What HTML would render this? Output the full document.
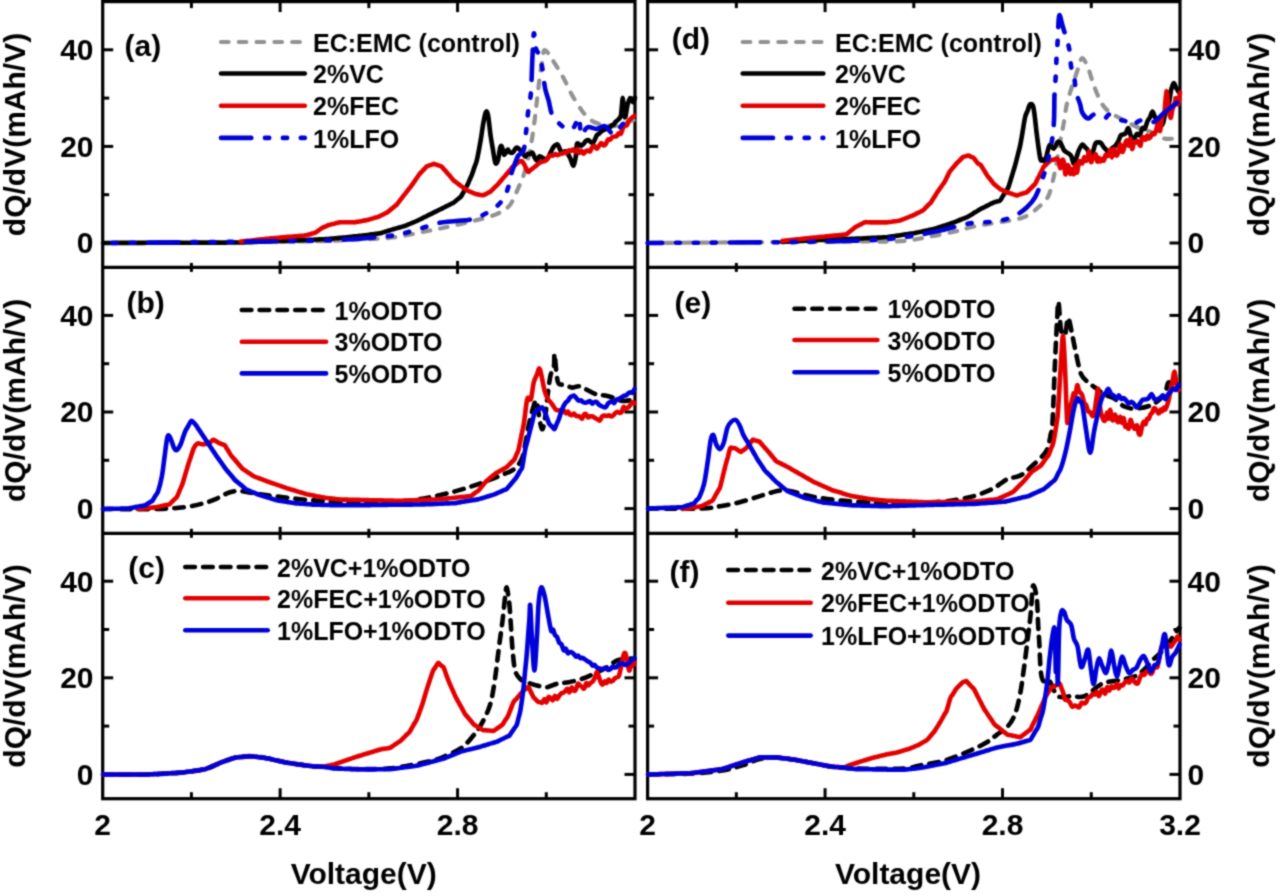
<!DOCTYPE html>
<html><head><meta charset="utf-8"><style>
html,body{margin:0;padding:0;background:#fff;}
svg{display:block;}
</style></head><body>
<svg width="1280" height="896" viewBox="0 0 1280 896">
<defs><filter id="bl" x="0" y="0" width="1280" height="896" filterUnits="userSpaceOnUse" color-interpolation-filters="sRGB"><feConvolveMatrix order="3" kernelMatrix="1 2 1 2 8 2 1 2 1" divisor="20" edgeMode="duplicate" preserveAlpha="true"/></filter></defs>
<g filter="url(#bl)">
<rect width="1280" height="896" fill="#fff"/>
<rect x="102.7" y="1.6" width="532.30" height="797.10" fill="none" stroke="#000" stroke-width="3.2"/>
<line x1="102.7" y1="267.4" x2="635.0" y2="267.4" stroke="#000" stroke-width="3.2"/>
<line x1="102.7" y1="533.3" x2="635.0" y2="533.3" stroke="#000" stroke-width="3.2"/>
<line x1="191.42" y1="1.6" x2="191.42" y2="8.1" stroke="#000" stroke-width="3"/>
<line x1="191.42" y1="798.7" x2="191.42" y2="792.2" stroke="#000" stroke-width="3"/>
<line x1="191.42" y1="262.9" x2="191.42" y2="271.9" stroke="#000" stroke-width="3"/>
<line x1="191.42" y1="528.8" x2="191.42" y2="537.8" stroke="#000" stroke-width="3"/>
<line x1="280.13" y1="1.6" x2="280.13" y2="12.1" stroke="#000" stroke-width="3"/>
<line x1="280.13" y1="798.7" x2="280.13" y2="788.2" stroke="#000" stroke-width="3"/>
<line x1="280.13" y1="260.9" x2="280.13" y2="273.9" stroke="#000" stroke-width="3"/>
<line x1="280.13" y1="526.8" x2="280.13" y2="539.8" stroke="#000" stroke-width="3"/>
<line x1="368.85" y1="1.6" x2="368.85" y2="8.1" stroke="#000" stroke-width="3"/>
<line x1="368.85" y1="798.7" x2="368.85" y2="792.2" stroke="#000" stroke-width="3"/>
<line x1="368.85" y1="262.9" x2="368.85" y2="271.9" stroke="#000" stroke-width="3"/>
<line x1="368.85" y1="528.8" x2="368.85" y2="537.8" stroke="#000" stroke-width="3"/>
<line x1="457.57" y1="1.6" x2="457.57" y2="12.1" stroke="#000" stroke-width="3"/>
<line x1="457.57" y1="798.7" x2="457.57" y2="788.2" stroke="#000" stroke-width="3"/>
<line x1="457.57" y1="260.9" x2="457.57" y2="273.9" stroke="#000" stroke-width="3"/>
<line x1="457.57" y1="526.8" x2="457.57" y2="539.8" stroke="#000" stroke-width="3"/>
<line x1="546.28" y1="1.6" x2="546.28" y2="8.1" stroke="#000" stroke-width="3"/>
<line x1="546.28" y1="798.7" x2="546.28" y2="792.2" stroke="#000" stroke-width="3"/>
<line x1="546.28" y1="262.9" x2="546.28" y2="271.9" stroke="#000" stroke-width="3"/>
<line x1="546.28" y1="528.8" x2="546.28" y2="537.8" stroke="#000" stroke-width="3"/>
<line x1="102.7" y1="243.00" x2="113.2" y2="243.00" stroke="#000" stroke-width="3"/>
<line x1="635.0" y1="243.00" x2="624.5" y2="243.00" stroke="#000" stroke-width="3"/>
<line x1="102.7" y1="194.70" x2="109.2" y2="194.70" stroke="#000" stroke-width="3"/>
<line x1="635.0" y1="194.70" x2="628.5" y2="194.70" stroke="#000" stroke-width="3"/>
<line x1="102.7" y1="146.40" x2="113.2" y2="146.40" stroke="#000" stroke-width="3"/>
<line x1="635.0" y1="146.40" x2="624.5" y2="146.40" stroke="#000" stroke-width="3"/>
<line x1="102.7" y1="98.10" x2="109.2" y2="98.10" stroke="#000" stroke-width="3"/>
<line x1="635.0" y1="98.10" x2="628.5" y2="98.10" stroke="#000" stroke-width="3"/>
<line x1="102.7" y1="49.80" x2="113.2" y2="49.80" stroke="#000" stroke-width="3"/>
<line x1="635.0" y1="49.80" x2="624.5" y2="49.80" stroke="#000" stroke-width="3"/>
<line x1="102.7" y1="508.60" x2="113.2" y2="508.60" stroke="#000" stroke-width="3"/>
<line x1="635.0" y1="508.60" x2="624.5" y2="508.60" stroke="#000" stroke-width="3"/>
<line x1="102.7" y1="460.30" x2="109.2" y2="460.30" stroke="#000" stroke-width="3"/>
<line x1="635.0" y1="460.30" x2="628.5" y2="460.30" stroke="#000" stroke-width="3"/>
<line x1="102.7" y1="412.00" x2="113.2" y2="412.00" stroke="#000" stroke-width="3"/>
<line x1="635.0" y1="412.00" x2="624.5" y2="412.00" stroke="#000" stroke-width="3"/>
<line x1="102.7" y1="363.70" x2="109.2" y2="363.70" stroke="#000" stroke-width="3"/>
<line x1="635.0" y1="363.70" x2="628.5" y2="363.70" stroke="#000" stroke-width="3"/>
<line x1="102.7" y1="315.40" x2="113.2" y2="315.40" stroke="#000" stroke-width="3"/>
<line x1="635.0" y1="315.40" x2="624.5" y2="315.40" stroke="#000" stroke-width="3"/>
<line x1="102.7" y1="774.40" x2="113.2" y2="774.40" stroke="#000" stroke-width="3"/>
<line x1="635.0" y1="774.40" x2="624.5" y2="774.40" stroke="#000" stroke-width="3"/>
<line x1="102.7" y1="726.10" x2="109.2" y2="726.10" stroke="#000" stroke-width="3"/>
<line x1="635.0" y1="726.10" x2="628.5" y2="726.10" stroke="#000" stroke-width="3"/>
<line x1="102.7" y1="677.80" x2="113.2" y2="677.80" stroke="#000" stroke-width="3"/>
<line x1="635.0" y1="677.80" x2="624.5" y2="677.80" stroke="#000" stroke-width="3"/>
<line x1="102.7" y1="629.50" x2="109.2" y2="629.50" stroke="#000" stroke-width="3"/>
<line x1="635.0" y1="629.50" x2="628.5" y2="629.50" stroke="#000" stroke-width="3"/>
<line x1="102.7" y1="581.20" x2="113.2" y2="581.20" stroke="#000" stroke-width="3"/>
<line x1="635.0" y1="581.20" x2="624.5" y2="581.20" stroke="#000" stroke-width="3"/>
<rect x="647.6" y="1.6" width="532.40" height="797.10" fill="none" stroke="#000" stroke-width="3.2"/>
<line x1="647.6" y1="267.4" x2="1180.0" y2="267.4" stroke="#000" stroke-width="3.2"/>
<line x1="647.6" y1="533.3" x2="1180.0" y2="533.3" stroke="#000" stroke-width="3.2"/>
<line x1="736.33" y1="1.6" x2="736.33" y2="8.1" stroke="#000" stroke-width="3"/>
<line x1="736.33" y1="798.7" x2="736.33" y2="792.2" stroke="#000" stroke-width="3"/>
<line x1="736.33" y1="262.9" x2="736.33" y2="271.9" stroke="#000" stroke-width="3"/>
<line x1="736.33" y1="528.8" x2="736.33" y2="537.8" stroke="#000" stroke-width="3"/>
<line x1="825.07" y1="1.6" x2="825.07" y2="12.1" stroke="#000" stroke-width="3"/>
<line x1="825.07" y1="798.7" x2="825.07" y2="788.2" stroke="#000" stroke-width="3"/>
<line x1="825.07" y1="260.9" x2="825.07" y2="273.9" stroke="#000" stroke-width="3"/>
<line x1="825.07" y1="526.8" x2="825.07" y2="539.8" stroke="#000" stroke-width="3"/>
<line x1="913.80" y1="1.6" x2="913.80" y2="8.1" stroke="#000" stroke-width="3"/>
<line x1="913.80" y1="798.7" x2="913.80" y2="792.2" stroke="#000" stroke-width="3"/>
<line x1="913.80" y1="262.9" x2="913.80" y2="271.9" stroke="#000" stroke-width="3"/>
<line x1="913.80" y1="528.8" x2="913.80" y2="537.8" stroke="#000" stroke-width="3"/>
<line x1="1002.53" y1="1.6" x2="1002.53" y2="12.1" stroke="#000" stroke-width="3"/>
<line x1="1002.53" y1="798.7" x2="1002.53" y2="788.2" stroke="#000" stroke-width="3"/>
<line x1="1002.53" y1="260.9" x2="1002.53" y2="273.9" stroke="#000" stroke-width="3"/>
<line x1="1002.53" y1="526.8" x2="1002.53" y2="539.8" stroke="#000" stroke-width="3"/>
<line x1="1091.27" y1="1.6" x2="1091.27" y2="8.1" stroke="#000" stroke-width="3"/>
<line x1="1091.27" y1="798.7" x2="1091.27" y2="792.2" stroke="#000" stroke-width="3"/>
<line x1="1091.27" y1="262.9" x2="1091.27" y2="271.9" stroke="#000" stroke-width="3"/>
<line x1="1091.27" y1="528.8" x2="1091.27" y2="537.8" stroke="#000" stroke-width="3"/>
<line x1="647.6" y1="243.00" x2="658.1" y2="243.00" stroke="#000" stroke-width="3"/>
<line x1="1180.0" y1="243.00" x2="1169.5" y2="243.00" stroke="#000" stroke-width="3"/>
<line x1="647.6" y1="194.70" x2="654.1" y2="194.70" stroke="#000" stroke-width="3"/>
<line x1="1180.0" y1="194.70" x2="1173.5" y2="194.70" stroke="#000" stroke-width="3"/>
<line x1="647.6" y1="146.40" x2="658.1" y2="146.40" stroke="#000" stroke-width="3"/>
<line x1="1180.0" y1="146.40" x2="1169.5" y2="146.40" stroke="#000" stroke-width="3"/>
<line x1="647.6" y1="98.10" x2="654.1" y2="98.10" stroke="#000" stroke-width="3"/>
<line x1="1180.0" y1="98.10" x2="1173.5" y2="98.10" stroke="#000" stroke-width="3"/>
<line x1="647.6" y1="49.80" x2="658.1" y2="49.80" stroke="#000" stroke-width="3"/>
<line x1="1180.0" y1="49.80" x2="1169.5" y2="49.80" stroke="#000" stroke-width="3"/>
<line x1="647.6" y1="508.60" x2="658.1" y2="508.60" stroke="#000" stroke-width="3"/>
<line x1="1180.0" y1="508.60" x2="1169.5" y2="508.60" stroke="#000" stroke-width="3"/>
<line x1="647.6" y1="460.30" x2="654.1" y2="460.30" stroke="#000" stroke-width="3"/>
<line x1="1180.0" y1="460.30" x2="1173.5" y2="460.30" stroke="#000" stroke-width="3"/>
<line x1="647.6" y1="412.00" x2="658.1" y2="412.00" stroke="#000" stroke-width="3"/>
<line x1="1180.0" y1="412.00" x2="1169.5" y2="412.00" stroke="#000" stroke-width="3"/>
<line x1="647.6" y1="363.70" x2="654.1" y2="363.70" stroke="#000" stroke-width="3"/>
<line x1="1180.0" y1="363.70" x2="1173.5" y2="363.70" stroke="#000" stroke-width="3"/>
<line x1="647.6" y1="315.40" x2="658.1" y2="315.40" stroke="#000" stroke-width="3"/>
<line x1="1180.0" y1="315.40" x2="1169.5" y2="315.40" stroke="#000" stroke-width="3"/>
<line x1="647.6" y1="774.40" x2="658.1" y2="774.40" stroke="#000" stroke-width="3"/>
<line x1="1180.0" y1="774.40" x2="1169.5" y2="774.40" stroke="#000" stroke-width="3"/>
<line x1="647.6" y1="726.10" x2="654.1" y2="726.10" stroke="#000" stroke-width="3"/>
<line x1="1180.0" y1="726.10" x2="1173.5" y2="726.10" stroke="#000" stroke-width="3"/>
<line x1="647.6" y1="677.80" x2="658.1" y2="677.80" stroke="#000" stroke-width="3"/>
<line x1="1180.0" y1="677.80" x2="1169.5" y2="677.80" stroke="#000" stroke-width="3"/>
<line x1="647.6" y1="629.50" x2="654.1" y2="629.50" stroke="#000" stroke-width="3"/>
<line x1="1180.0" y1="629.50" x2="1173.5" y2="629.50" stroke="#000" stroke-width="3"/>
<line x1="647.6" y1="581.20" x2="658.1" y2="581.20" stroke="#000" stroke-width="3"/>
<line x1="1180.0" y1="581.20" x2="1169.5" y2="581.20" stroke="#000" stroke-width="3"/>
<text x="93.5" y="253.4" text-anchor="end" font-size="30" font-family="Liberation Sans, sans-serif" font-weight="bold">0</text>
<text x="1187.5" y="253.4" text-anchor="start" font-size="30" font-family="Liberation Sans, sans-serif" font-weight="bold">0</text>
<text x="93.5" y="156.8" text-anchor="end" font-size="30" font-family="Liberation Sans, sans-serif" font-weight="bold">20</text>
<text x="1187.5" y="156.8" text-anchor="start" font-size="30" font-family="Liberation Sans, sans-serif" font-weight="bold">20</text>
<text x="93.5" y="60.2" text-anchor="end" font-size="30" font-family="Liberation Sans, sans-serif" font-weight="bold">40</text>
<text x="1187.5" y="60.2" text-anchor="start" font-size="30" font-family="Liberation Sans, sans-serif" font-weight="bold">40</text>
<text x="93.5" y="519.0" text-anchor="end" font-size="30" font-family="Liberation Sans, sans-serif" font-weight="bold">0</text>
<text x="1187.5" y="519.0" text-anchor="start" font-size="30" font-family="Liberation Sans, sans-serif" font-weight="bold">0</text>
<text x="93.5" y="422.4" text-anchor="end" font-size="30" font-family="Liberation Sans, sans-serif" font-weight="bold">20</text>
<text x="1187.5" y="422.4" text-anchor="start" font-size="30" font-family="Liberation Sans, sans-serif" font-weight="bold">20</text>
<text x="93.5" y="325.8" text-anchor="end" font-size="30" font-family="Liberation Sans, sans-serif" font-weight="bold">40</text>
<text x="1187.5" y="325.8" text-anchor="start" font-size="30" font-family="Liberation Sans, sans-serif" font-weight="bold">40</text>
<text x="93.5" y="784.8" text-anchor="end" font-size="30" font-family="Liberation Sans, sans-serif" font-weight="bold">0</text>
<text x="1187.5" y="784.8" text-anchor="start" font-size="30" font-family="Liberation Sans, sans-serif" font-weight="bold">0</text>
<text x="93.5" y="688.2" text-anchor="end" font-size="30" font-family="Liberation Sans, sans-serif" font-weight="bold">20</text>
<text x="1187.5" y="688.2" text-anchor="start" font-size="30" font-family="Liberation Sans, sans-serif" font-weight="bold">20</text>
<text x="93.5" y="591.6" text-anchor="end" font-size="30" font-family="Liberation Sans, sans-serif" font-weight="bold">40</text>
<text x="1187.5" y="591.6" text-anchor="start" font-size="30" font-family="Liberation Sans, sans-serif" font-weight="bold">40</text>
<text x="102.7" y="834.6" text-anchor="middle" font-size="30" font-family="Liberation Sans, sans-serif" font-weight="bold">2</text>
<text x="280.1" y="834.6" text-anchor="middle" font-size="30" font-family="Liberation Sans, sans-serif" font-weight="bold">2.4</text>
<text x="457.6" y="834.6" text-anchor="middle" font-size="30" font-family="Liberation Sans, sans-serif" font-weight="bold">2.8</text>
<text x="647.6" y="834.6" text-anchor="middle" font-size="30" font-family="Liberation Sans, sans-serif" font-weight="bold">2</text>
<text x="825.1" y="834.6" text-anchor="middle" font-size="30" font-family="Liberation Sans, sans-serif" font-weight="bold">2.4</text>
<text x="1002.5" y="834.6" text-anchor="middle" font-size="30" font-family="Liberation Sans, sans-serif" font-weight="bold">2.8</text>
<text x="1180.0" y="834.6" text-anchor="middle" font-size="30" font-family="Liberation Sans, sans-serif" font-weight="bold">3.2</text>
<text x="363.7" y="884.3" text-anchor="middle" font-size="30" font-family="Liberation Sans, sans-serif" font-weight="bold">Voltage(V)</text>
<text x="908" y="884.3" text-anchor="middle" font-size="30" font-family="Liberation Sans, sans-serif" font-weight="bold">Voltage(V)</text>
<text transform="translate(25,134.5) rotate(-90)" text-anchor="middle" font-size="30" font-family="Liberation Sans, sans-serif" font-weight="bold">dQ/dV(mAh/V)</text>
<text transform="translate(1269,134.5) rotate(-90)" text-anchor="middle" font-size="30" font-family="Liberation Sans, sans-serif" font-weight="bold">dQ/dV(mAh/V)</text>
<text transform="translate(25,400.3) rotate(-90)" text-anchor="middle" font-size="30" font-family="Liberation Sans, sans-serif" font-weight="bold">dQ/dV(mAh/V)</text>
<text transform="translate(1269,400.3) rotate(-90)" text-anchor="middle" font-size="30" font-family="Liberation Sans, sans-serif" font-weight="bold">dQ/dV(mAh/V)</text>
<text transform="translate(25,666.0) rotate(-90)" text-anchor="middle" font-size="30" font-family="Liberation Sans, sans-serif" font-weight="bold">dQ/dV(mAh/V)</text>
<text transform="translate(1269,666.0) rotate(-90)" text-anchor="middle" font-size="30" font-family="Liberation Sans, sans-serif" font-weight="bold">dQ/dV(mAh/V)</text>
<text x="124.5" y="56.3" font-size="30" font-family="Liberation Sans, sans-serif" font-weight="bold">(a)</text>
<text x="126.5" y="312.9" font-size="30" font-family="Liberation Sans, sans-serif" font-weight="bold">(b)</text>
<text x="128.3" y="577.5" font-size="30" font-family="Liberation Sans, sans-serif" font-weight="bold">(c)</text>
<text x="671.8" y="48.5" font-size="30" font-family="Liberation Sans, sans-serif" font-weight="bold">(d)</text>
<text x="674.5" y="312.8" font-size="30" font-family="Liberation Sans, sans-serif" font-weight="bold">(e)</text>
<text x="669.5" y="582.3" font-size="30" font-family="Liberation Sans, sans-serif" font-weight="bold">(f)</text>
<line x1="221.0" y1="42" x2="304.8" y2="42" stroke="#929292" stroke-width="4.2" stroke-linecap="round" stroke-dasharray="7.6 10.2"/>
<text x="313" y="51.6" font-size="25" font-family="Liberation Sans, sans-serif" font-weight="bold">EC:EMC (control)</text>
<line x1="221.0" y1="73.5" x2="304.8" y2="73.5" stroke="#000" stroke-width="4.6" stroke-linecap="round" />
<text x="313" y="83.1" font-size="25" font-family="Liberation Sans, sans-serif" font-weight="bold">2%VC</text>
<line x1="221.0" y1="105.7" x2="304.8" y2="105.7" stroke="#e20000" stroke-width="4.6" stroke-linecap="round" />
<text x="313" y="115.3" font-size="25" font-family="Liberation Sans, sans-serif" font-weight="bold">2%FEC</text>
<line x1="221.0" y1="137.9" x2="304.8" y2="137.9" stroke="#0000d8" stroke-width="4.6" stroke-linecap="round" stroke-dasharray="30.3 13.7 4.2 13.7 4.2 13.7 4.2 13.7"/>
<text x="313" y="147.5" font-size="25" font-family="Liberation Sans, sans-serif" font-weight="bold">1%LFO</text>
<line x1="742.6999999999999" y1="42" x2="823.3000000000001" y2="42" stroke="#929292" stroke-width="4.2" stroke-linecap="round" stroke-dasharray="7.6 10.2"/>
<text x="835" y="51.6" font-size="25" font-family="Liberation Sans, sans-serif" font-weight="bold">EC:EMC (control)</text>
<line x1="742.6999999999999" y1="73.5" x2="823.3000000000001" y2="73.5" stroke="#000" stroke-width="4.6" stroke-linecap="round" />
<text x="835" y="83.1" font-size="25" font-family="Liberation Sans, sans-serif" font-weight="bold">2%VC</text>
<line x1="742.6999999999999" y1="105.7" x2="823.3000000000001" y2="105.7" stroke="#e20000" stroke-width="4.6" stroke-linecap="round" />
<text x="835" y="115.3" font-size="25" font-family="Liberation Sans, sans-serif" font-weight="bold">2%FEC</text>
<line x1="742.6999999999999" y1="137.9" x2="823.3000000000001" y2="137.9" stroke="#0000d8" stroke-width="4.6" stroke-linecap="round" stroke-dasharray="30.3 13.7 4.2 13.7 4.2 13.7 4.2 13.7"/>
<text x="835" y="147.5" font-size="25" font-family="Liberation Sans, sans-serif" font-weight="bold">1%LFO</text>
<line x1="241.8" y1="310" x2="326.09999999999997" y2="310" stroke="#000" stroke-width="4.6" stroke-linecap="round" stroke-dasharray="9.6 8.2"/>
<text x="334.5" y="319.6" font-size="25" font-family="Liberation Sans, sans-serif" font-weight="bold">1%ODTO</text>
<line x1="241.8" y1="341.7" x2="326.09999999999997" y2="341.7" stroke="#e20000" stroke-width="4.6" stroke-linecap="round" />
<text x="334.5" y="351.3" font-size="25" font-family="Liberation Sans, sans-serif" font-weight="bold">3%ODTO</text>
<line x1="241.8" y1="373.4" x2="326.09999999999997" y2="373.4" stroke="#0000d8" stroke-width="4.6" stroke-linecap="round" />
<text x="334.5" y="383.0" font-size="25" font-family="Liberation Sans, sans-serif" font-weight="bold">5%ODTO</text>
<line x1="794.5" y1="308.75" x2="877.4000000000001" y2="308.75" stroke="#000" stroke-width="4.6" stroke-linecap="round" stroke-dasharray="9.6 8.2"/>
<text x="887.5" y="318.4" font-size="25" font-family="Liberation Sans, sans-serif" font-weight="bold">1%ODTO</text>
<line x1="794.5" y1="340" x2="877.4000000000001" y2="340" stroke="#e20000" stroke-width="4.6" stroke-linecap="round" />
<text x="887.5" y="349.6" font-size="25" font-family="Liberation Sans, sans-serif" font-weight="bold">3%ODTO</text>
<line x1="794.5" y1="372.2" x2="877.4000000000001" y2="372.2" stroke="#0000d8" stroke-width="4.6" stroke-linecap="round" />
<text x="887.5" y="381.8" font-size="25" font-family="Liberation Sans, sans-serif" font-weight="bold">5%ODTO</text>
<line x1="185.3" y1="567" x2="267.7" y2="567" stroke="#000" stroke-width="4.6" stroke-linecap="round" stroke-dasharray="9.6 8.2"/>
<text x="277" y="576.6" font-size="25" font-family="Liberation Sans, sans-serif" font-weight="bold">2%VC+1%ODTO</text>
<line x1="185.3" y1="598.3" x2="267.7" y2="598.3" stroke="#e20000" stroke-width="4.6" stroke-linecap="round" />
<text x="277" y="607.9" font-size="25" font-family="Liberation Sans, sans-serif" font-weight="bold">2%FEC+1%ODTO</text>
<line x1="185.3" y1="630.3" x2="267.7" y2="630.3" stroke="#0000d8" stroke-width="4.6" stroke-linecap="round" />
<text x="277" y="639.9" font-size="25" font-family="Liberation Sans, sans-serif" font-weight="bold">1%LFO+1%ODTO</text>
<line x1="728.3" y1="570" x2="810.7" y2="570" stroke="#000" stroke-width="4.6" stroke-linecap="round" stroke-dasharray="9.6 8.2"/>
<text x="821" y="579.6" font-size="25" font-family="Liberation Sans, sans-serif" font-weight="bold">2%VC+1%ODTO</text>
<line x1="728.3" y1="602.8" x2="810.7" y2="602.8" stroke="#e20000" stroke-width="4.6" stroke-linecap="round" />
<text x="821" y="612.4" font-size="25" font-family="Liberation Sans, sans-serif" font-weight="bold">2%FEC+1%ODTO</text>
<line x1="728.3" y1="635.6" x2="810.7" y2="635.6" stroke="#0000d8" stroke-width="4.6" stroke-linecap="round" />
<text x="821" y="645.2" font-size="25" font-family="Liberation Sans, sans-serif" font-weight="bold">1%LFO+1%ODTO</text>
<path d="M103.0,243.0 C135.8,242.8 257.2,242.1 300.0,241.5 C342.8,240.9 344.5,240.2 360.0,239.5 C375.5,238.8 382.2,238.8 393.0,237.5 C403.8,236.2 414.5,233.6 425.0,231.5 C435.5,229.4 445.2,227.5 456.0,225.0 C466.8,222.5 482.2,218.9 490.0,216.5 C497.8,214.1 499.7,212.5 503.0,210.6 C506.3,208.7 508.0,207.5 510.0,205.0 C512.0,202.5 513.3,199.0 515.0,195.5 C516.7,192.0 518.5,187.6 520.0,184.0 C521.5,180.4 522.3,179.7 524.0,174.0 C525.7,168.3 528.3,158.2 530.0,150.0 C531.7,141.8 532.8,133.3 534.0,125.0 C535.2,116.7 536.0,108.3 537.0,100.0 C538.0,91.7 539.1,81.5 540.0,75.0 C540.9,68.5 541.6,65.1 542.3,61.0 C543.0,56.9 543.0,51.8 544.0,50.5 C545.0,49.2 546.7,51.6 548.0,53.0 C549.3,54.4 549.5,55.0 552.0,59.0 C554.5,63.0 559.7,71.0 563.0,77.0 C566.3,83.0 569.0,89.6 572.0,95.0 C575.0,100.4 578.7,105.9 581.0,109.3 C583.3,112.7 583.8,113.4 586.0,115.5 C588.2,117.6 590.8,120.4 594.0,122.0 C597.2,123.6 601.5,124.3 605.0,125.0 C608.5,125.7 611.7,126.3 615.0,126.0 C618.3,125.7 621.8,124.0 625.0,123.0 C628.2,122.0 632.5,120.5 634.0,120.0" fill="none" stroke="#929292" stroke-width="4.2" stroke-linejoin="round" stroke-linecap="round" stroke-dasharray="7.6 10.2" />
<path d="M103.0,243.0 C103.3,243.0 104.3,243.0 105.0,243.0 C105.7,243.0 106.4,243.0 107.0,243.0 C107.7,243.0 108.4,243.0 109.0,243.0 C109.7,243.0 110.4,243.0 111.1,243.0 C111.7,243.0 112.4,243.0 113.1,243.0 C113.7,243.0 114.4,243.0 115.1,243.0 C115.8,243.0 116.4,243.0 117.1,242.9 C117.8,242.9 118.4,242.9 119.1,242.9 C119.8,242.9 120.5,242.9 121.1,242.9 C121.8,242.9 122.5,242.9 123.1,242.9 C123.8,242.9 124.5,242.9 125.2,242.9 C125.8,242.9 126.5,242.9 127.2,242.9 C127.8,242.9 128.5,242.9 129.2,242.9 C129.9,242.9 130.5,242.9 131.2,242.9 C131.9,242.9 132.5,242.9 133.2,242.9 C133.9,242.9 134.6,242.9 135.2,242.9 C135.9,242.9 136.6,242.9 137.2,242.9 C137.9,242.9 138.6,242.9 139.3,242.9 C139.9,242.9 140.6,242.9 141.3,242.9 C142.0,242.9 142.6,242.9 143.3,242.9 C144.0,242.9 144.6,242.8 145.3,242.8 C146.0,242.8 146.7,242.8 147.3,242.8 C148.0,242.8 148.7,242.8 149.3,242.8 C150.0,242.8 150.7,242.8 151.4,242.8 C152.0,242.8 152.7,242.8 153.4,242.8 C154.0,242.8 154.7,242.8 155.4,242.8 C156.1,242.8 156.7,242.8 157.4,242.8 C158.1,242.8 158.7,242.8 159.4,242.8 C160.1,242.8 160.8,242.8 161.4,242.8 C162.1,242.8 162.8,242.8 163.4,242.8 C164.1,242.8 164.8,242.8 165.5,242.8 C166.1,242.8 166.8,242.8 167.5,242.8 C168.1,242.8 168.8,242.8 169.5,242.8 C170.2,242.8 170.8,242.8 171.5,242.8 C172.2,242.7 172.8,242.7 173.5,242.7 C174.2,242.7 174.9,242.7 175.5,242.7 C176.2,242.7 176.9,242.7 177.5,242.7 C178.2,242.7 178.9,242.7 179.6,242.7 C180.2,242.7 180.9,242.7 181.6,242.7 C182.2,242.7 182.9,242.7 183.6,242.7 C184.3,242.7 184.9,242.7 185.6,242.7 C186.3,242.7 186.9,242.7 187.6,242.7 C188.3,242.7 189.0,242.7 189.6,242.7 C190.3,242.7 191.0,242.7 191.6,242.7 C192.3,242.7 193.0,242.7 193.7,242.7 C194.3,242.7 195.0,242.7 195.7,242.7 C196.3,242.7 197.0,242.7 197.7,242.7 C198.4,242.7 199.0,242.6 199.7,242.6 C200.4,242.6 201.0,242.6 201.7,242.6 C202.4,242.6 203.1,242.6 203.7,242.6 C204.4,242.6 205.1,242.6 205.8,242.6 C206.4,242.6 207.1,242.6 207.8,242.6 C208.4,242.6 209.1,242.6 209.8,242.6 C210.5,242.6 211.1,242.6 211.8,242.6 C212.5,242.6 213.1,242.6 213.8,242.6 C214.5,242.6 215.2,242.6 215.8,242.6 C216.5,242.6 217.2,242.6 217.8,242.6 C218.5,242.6 219.2,242.6 219.9,242.6 C220.5,242.6 221.2,242.6 221.9,242.6 C222.5,242.6 223.2,242.6 223.9,242.6 C224.6,242.6 225.2,242.6 225.9,242.6 C226.6,242.5 227.2,242.5 227.9,242.5 C228.6,242.5 229.3,242.5 229.9,242.5 C230.6,242.5 231.3,242.5 231.9,242.5 C232.6,242.5 233.3,242.5 234.0,242.5 C234.6,242.5 235.3,242.5 236.0,242.5 C236.6,242.5 237.3,242.5 238.0,242.5 C238.7,242.5 239.3,242.5 240.0,242.5 C240.7,242.5 241.3,242.5 242.0,242.4 C242.7,242.4 243.3,242.4 244.0,242.4 C244.7,242.3 245.3,242.3 246.0,242.3 C246.7,242.3 247.3,242.2 248.0,242.2 C248.7,242.2 249.3,242.2 250.0,242.1 C250.7,242.1 251.3,242.1 252.0,242.1 C252.7,242.0 253.3,242.0 254.0,242.0 C254.7,242.0 255.3,241.9 256.0,241.9 C256.7,241.9 257.3,241.9 258.0,241.8 C258.7,241.8 259.3,241.8 260.0,241.8 C260.7,241.7 261.3,241.7 262.0,241.7 C262.7,241.7 263.3,241.6 264.0,241.6 C264.7,241.6 265.3,241.6 266.0,241.5 C266.7,241.5 267.3,241.5 268.0,241.5 C268.7,241.4 269.3,241.4 270.0,241.4 C270.7,241.4 271.3,241.4 272.0,241.3 C272.7,241.3 273.3,241.3 274.0,241.3 C274.7,241.2 275.3,241.2 276.0,241.2 C276.7,241.2 277.3,241.1 278.0,241.1 C278.7,241.1 279.3,241.1 280.0,241.0 C280.7,241.0 281.3,241.0 282.0,241.0 C282.7,240.9 283.3,240.9 284.0,240.9 C284.7,240.9 285.3,240.8 286.0,240.8 C286.7,240.8 287.3,240.8 288.0,240.7 C288.7,240.7 289.3,240.7 290.0,240.7 C290.7,240.6 291.3,240.6 292.0,240.6 C292.7,240.6 293.3,240.5 294.0,240.5 C294.7,240.5 295.3,240.5 296.0,240.4 C296.7,240.4 297.3,240.4 298.0,240.4 C298.7,240.3 299.3,240.3 300.0,240.3 C300.7,240.3 301.4,240.2 302.1,240.2 C302.8,240.2 303.4,240.1 304.1,240.1 C304.8,240.1 305.5,240.0 306.2,240.0 C306.9,240.0 307.6,239.9 308.3,239.9 C309.0,239.9 309.6,239.8 310.3,239.8 C311.0,239.7 311.7,239.7 312.4,239.7 C313.1,239.6 313.8,239.6 314.5,239.6 C315.2,239.5 315.8,239.5 316.5,239.5 C317.2,239.4 317.9,239.4 318.6,239.4 C319.3,239.3 320.0,239.3 320.7,239.3 C321.4,239.2 322.0,239.2 322.7,239.2 C323.4,239.1 324.1,239.1 324.8,239.1 C325.5,239.0 326.2,239.0 326.9,239.0 C327.6,238.9 328.2,238.9 328.9,238.9 C329.6,238.8 330.3,238.8 331.0,238.8 C331.7,238.7 332.4,238.6 333.1,238.5 C333.8,238.5 334.5,238.4 335.2,238.3 C335.9,238.3 336.6,238.2 337.3,238.1 C338.0,238.1 338.7,238.0 339.4,237.9 C340.1,237.8 340.8,237.8 341.5,237.7 C342.2,237.6 342.9,237.6 343.6,237.5 C344.3,237.4 345.0,237.3 345.7,237.3 C346.4,237.2 347.1,237.1 347.8,237.1 C348.5,237.0 349.2,236.9 349.9,236.9 C350.6,236.8 351.3,236.7 352.0,236.7 C352.7,236.6 353.4,236.5 354.1,236.4 C354.8,236.4 355.5,236.3 356.2,236.2 C356.9,236.2 357.6,236.1 358.3,236.0 C359.0,235.9 359.7,235.9 360.4,235.8 C361.1,235.7 361.8,235.7 362.5,235.6 C363.2,235.5 364.0,235.4 364.7,235.3 C365.4,235.2 366.1,235.1 366.9,235.0 C367.6,234.9 368.3,234.8 369.1,234.7 C369.8,234.6 370.5,234.5 371.2,234.4 C372.0,234.4 372.7,234.3 373.4,234.2 C374.2,234.1 374.9,234.0 375.6,233.9 C376.4,233.8 377.1,233.7 377.8,233.6 C378.5,233.5 379.3,233.5 380.0,233.3 C380.7,233.1 381.3,232.9 382.0,232.7 C382.7,232.5 383.3,232.3 384.0,232.1 C384.7,231.9 385.3,231.7 386.0,231.4 C386.7,231.2 387.3,231.0 388.0,230.8 C388.7,230.6 389.3,230.4 390.0,230.2 C390.7,230.0 391.3,229.8 392.0,229.6 C392.7,229.4 393.4,229.2 394.1,229.0 C394.8,228.8 395.5,228.6 396.2,228.4 C396.9,228.2 397.6,228.0 398.3,227.8 C399.0,227.6 399.7,227.4 400.4,227.2 C401.1,227.0 401.8,226.8 402.5,226.6 C403.2,226.4 403.9,226.2 404.6,226.0 C405.3,225.8 406.0,225.4 406.6,225.2 C407.3,224.9 408.0,224.6 408.7,224.3 C409.3,224.1 410.0,223.8 410.7,223.5 C411.4,223.2 412.1,222.9 412.7,222.7 C413.4,222.4 414.1,222.1 414.8,221.8 C415.4,221.6 416.1,221.3 416.8,221.0 C417.5,220.7 418.2,220.3 418.8,220.0 C419.5,219.6 420.2,219.3 420.9,219.0 C421.5,218.6 422.2,218.3 422.9,217.9 C423.6,217.6 424.3,217.3 424.9,216.9 C425.6,216.6 426.3,216.3 427.0,215.9 C427.6,215.6 428.3,215.2 429.0,214.9 C429.7,214.6 430.4,214.2 431.1,213.9 C431.8,213.5 432.4,213.2 433.1,212.9 C433.8,212.5 434.5,212.2 435.2,211.9 C435.9,211.5 436.6,211.2 437.3,210.8 C438.0,210.5 438.6,210.2 439.3,209.8 C440.0,209.5 440.7,209.1 441.4,208.8 C442.1,208.5 442.8,208.1 443.4,207.8 C444.1,207.4 444.8,207.1 445.5,206.7 C446.2,206.4 446.9,206.0 447.5,205.7 C448.2,205.4 448.9,205.0 449.6,204.7 C450.3,204.3 451.0,204.0 451.6,203.6 C452.3,203.3 453.0,203.1 453.7,202.6 C454.4,202.1 455.3,201.2 456.1,200.6 C456.9,199.9 457.8,199.2 458.6,198.5 C459.4,197.9 460.2,197.5 461.0,196.5 C461.8,195.5 462.4,194.0 463.1,192.8 C463.8,191.6 464.4,190.3 465.1,189.1 C465.8,187.9 466.5,186.9 467.2,185.4 C467.9,183.9 468.8,181.7 469.6,179.9 C470.4,178.1 471.2,176.6 472.0,174.4 C472.8,172.2 473.7,169.5 474.5,167.0 C475.3,164.5 476.0,164.1 477.0,159.6 C478.0,155.1 479.7,145.8 480.7,140.0 C481.7,134.2 482.2,129.6 483.0,125.0 C483.8,120.4 484.9,114.1 485.7,112.4 C486.5,110.7 487.2,111.2 488.0,115.0 C488.8,118.8 489.7,129.2 490.5,135.0 C491.3,140.8 492.2,145.3 493.0,150.0 C493.8,154.7 494.6,161.3 495.4,163.0 C496.2,164.7 497.2,162.6 498.0,160.0 C498.8,157.4 499.6,149.4 500.3,147.3 C501.0,145.1 501.4,145.7 502.0,147.0 C502.6,148.2 503.1,154.3 504.0,154.8 C504.9,155.2 506.8,150.1 507.7,149.7 C508.6,149.3 508.5,151.6 509.3,152.1 C510.1,152.6 511.4,153.3 512.6,152.6 C513.8,151.8 515.2,148.1 516.4,147.7 C517.6,147.2 519.0,148.9 520.0,149.8 C521.0,150.8 521.8,152.0 522.7,153.1 C523.6,154.3 524.6,156.4 525.4,156.6 C526.2,156.7 527.0,154.3 527.8,153.9 C528.6,153.5 529.3,154.2 530.1,154.0 C530.9,153.8 531.7,152.1 532.5,152.8 C533.3,153.4 534.0,156.6 534.8,157.9 C535.5,159.2 536.3,160.8 537.0,160.6 C537.7,160.3 538.5,157.0 539.2,156.5 C539.9,155.9 540.6,156.8 541.4,157.1 C542.2,157.5 543.3,158.3 544.2,158.6 C545.1,158.9 546.2,159.7 547.0,159.2 C547.8,158.7 548.4,157.0 549.2,155.6 C549.9,154.2 550.6,152.3 551.4,150.8 C552.1,149.4 552.8,147.9 553.5,147.0 C554.3,146.0 555.0,145.5 555.7,145.1 C556.4,144.7 556.9,143.8 557.6,144.5 C558.3,145.1 559.1,147.5 559.8,149.0 C560.5,150.4 561.3,152.8 562.0,153.2 C562.7,153.7 563.5,151.8 564.2,151.6 C564.9,151.4 565.4,151.0 566.4,152.0 C567.4,153.0 568.8,155.5 570.0,157.8 C571.2,160.1 572.6,166.1 573.6,165.6 C574.6,165.2 575.4,158.7 576.0,155.1 C576.6,151.4 576.3,145.2 577.1,143.6 C577.9,142.1 579.9,145.8 581.0,145.8 C582.1,145.8 582.7,144.7 583.5,143.9 C584.3,143.1 585.2,141.5 586.0,140.9 C586.8,140.3 587.7,140.0 588.5,140.2 C589.3,140.5 590.2,142.0 591.0,142.3 C591.8,142.6 592.5,143.3 593.5,142.2 C594.5,141.0 595.9,136.7 596.8,135.3 C597.7,133.9 598.2,134.5 598.9,133.8 C599.7,133.2 600.4,132.2 601.1,131.6 C601.8,131.0 602.5,130.6 603.2,130.2 C603.9,129.9 604.6,129.8 605.4,129.3 C606.1,128.9 606.8,127.8 607.5,127.6 C608.2,127.4 608.8,128.4 609.5,128.0 C610.2,127.6 610.8,125.8 611.5,125.3 C612.2,124.7 612.8,125.5 613.5,124.9 C614.2,124.3 614.7,122.7 615.5,121.9 C616.3,121.0 617.3,120.7 618.2,119.6 C619.1,118.5 620.1,118.8 620.9,115.2 C621.7,111.6 622.2,97.7 622.9,98.0 C623.6,98.3 624.1,116.2 624.9,117.3 C625.7,118.5 626.7,108.0 627.6,104.7 C628.5,101.5 629.3,98.4 630.2,98.0 C631.1,97.6 632.2,102.3 633.0,102.2 C633.8,102.2 634.7,98.5 635.0,97.7" fill="none" stroke="#000" stroke-width="4.6" stroke-linejoin="round" stroke-linecap="round"  />
<path d="M240.6,241.5 C240.9,241.5 241.9,241.4 242.6,241.3 C243.3,241.2 244.0,241.2 244.6,241.1 C245.3,241.0 246.0,240.9 246.6,240.9 C247.3,240.8 248.0,240.7 248.6,240.7 C249.3,240.6 250.0,240.5 250.7,240.5 C251.3,240.4 252.0,240.3 252.7,240.3 C253.3,240.2 254.0,240.1 254.7,240.1 C255.3,240.0 256.0,239.9 256.7,239.8 C257.4,239.8 258.0,239.7 258.7,239.6 C259.4,239.6 260.0,239.5 260.7,239.4 C261.4,239.4 262.0,239.3 262.7,239.2 C263.4,239.2 264.1,239.1 264.7,239.0 C265.4,238.9 266.1,238.9 266.7,238.8 C267.4,238.7 268.1,238.7 268.8,238.6 C269.4,238.5 270.1,238.5 270.8,238.4 C271.5,238.4 272.2,238.3 272.9,238.2 C273.6,238.2 274.3,238.1 275.0,238.1 C275.7,238.0 276.4,237.9 277.1,237.9 C277.8,237.8 278.5,237.7 279.2,237.7 C279.9,237.6 280.6,237.6 281.2,237.5 C281.9,237.4 282.6,237.4 283.3,237.3 C284.0,237.3 284.7,237.2 285.4,237.1 C286.1,237.1 286.8,237.0 287.5,236.9 C288.2,236.9 288.9,236.8 289.6,236.8 C290.3,236.7 291.0,236.6 291.7,236.6 C292.4,236.5 293.1,236.5 293.8,236.4 C294.4,236.3 295.1,236.3 295.8,236.2 C296.5,236.2 297.2,236.1 297.9,236.0 C298.6,236.0 299.3,235.9 300.0,235.9 C300.7,235.8 301.4,235.7 302.1,235.7 C302.8,235.6 303.5,235.5 304.2,235.5 C304.9,235.4 305.5,235.4 306.2,235.3 C307.0,235.2 307.8,234.8 308.6,234.6 C309.4,234.4 310.1,234.1 310.9,233.9 C311.7,233.7 312.5,233.4 313.3,233.2 C314.0,233.0 314.9,232.9 315.6,232.5 C316.3,232.1 317.0,231.5 317.7,231.0 C318.4,230.5 319.2,230.0 319.9,229.5 C320.6,229.0 321.3,228.4 322.0,228.0 C322.7,227.6 323.5,227.3 324.2,227.0 C325.0,226.7 325.8,226.3 326.5,226.0 C327.2,225.7 328.0,225.3 328.8,225.0 C329.5,224.7 330.2,224.6 331.0,224.5 C331.8,224.3 332.5,224.1 333.2,223.9 C334.0,223.7 334.8,223.6 335.5,223.4 C336.2,223.2 337.0,223.0 337.8,222.8 C338.5,222.7 339.3,222.4 340.0,222.3 C340.7,222.2 341.4,222.3 342.1,222.3 C342.8,222.3 343.5,222.3 344.2,222.3 C344.9,222.3 345.6,222.3 346.3,222.3 C347.0,222.3 347.7,222.3 348.4,222.3 C349.1,222.3 349.8,222.3 350.5,222.3 C351.2,222.3 351.9,222.3 352.6,222.3 C353.3,222.3 354.0,222.4 354.7,222.3 C355.4,222.2 356.1,222.0 356.8,221.9 C357.5,221.8 358.2,221.7 358.9,221.5 C359.6,221.4 360.3,221.3 360.9,221.2 C361.6,221.0 362.3,220.9 363.0,220.8 C363.7,220.6 364.4,220.5 365.1,220.4 C365.8,220.3 366.5,220.2 367.2,220.0 C367.9,219.8 368.7,219.6 369.4,219.4 C370.1,219.2 370.8,219.0 371.6,218.8 C372.3,218.6 373.0,218.3 373.7,218.1 C374.5,217.9 375.2,217.7 375.9,217.5 C376.6,217.3 377.3,217.2 378.1,216.9 C378.9,216.6 379.7,216.1 380.5,215.7 C381.2,215.3 382.0,214.9 382.8,214.6 C383.6,214.2 384.4,213.8 385.1,213.4 C385.9,213.0 386.7,212.7 387.5,212.2 C388.3,211.7 389.1,210.9 389.9,210.2 C390.6,209.6 391.4,209.0 392.2,208.3 C393.0,207.7 393.8,207.0 394.5,206.3 C395.3,205.7 396.1,205.3 396.9,204.4 C397.7,203.5 398.6,202.2 399.4,201.1 C400.3,199.9 401.2,198.7 402.0,197.7 C402.8,196.7 403.4,195.9 404.2,194.9 C404.9,194.0 405.6,193.1 406.4,192.2 C407.1,191.3 407.8,190.4 408.5,189.4 C409.2,188.5 410.0,187.7 410.7,186.7 C411.4,185.7 412.1,184.7 412.9,183.6 C413.6,182.6 414.3,181.6 415.0,180.6 C415.7,179.5 416.4,178.5 417.1,177.5 C417.9,176.4 418.5,175.4 419.3,174.4 C420.1,173.4 420.9,172.6 421.8,171.7 C422.6,170.8 423.4,170.0 424.2,169.1 C425.1,168.2 425.9,167.0 426.7,166.4 C427.5,165.8 428.3,165.8 429.1,165.6 C429.9,165.3 430.8,165.0 431.6,164.7 C432.4,164.5 433.2,163.9 434.0,163.9 C434.8,163.9 435.6,164.5 436.5,164.7 C437.3,165.0 438.1,165.3 438.9,165.6 C439.8,165.8 440.6,165.9 441.4,166.4 C442.1,166.9 442.8,167.9 443.4,168.7 C444.1,169.4 444.8,170.2 445.5,170.9 C446.1,171.7 446.8,172.4 447.5,173.2 C448.2,174.0 448.9,174.8 449.6,175.6 C450.3,176.4 450.9,177.3 451.6,178.1 C452.3,178.9 452.9,179.8 453.7,180.5 C454.4,181.2 455.3,181.7 456.1,182.3 C456.9,182.9 457.8,183.6 458.6,184.2 C459.4,184.8 460.2,185.4 461.0,186.0 C461.8,186.6 462.6,187.1 463.5,187.7 C464.3,188.2 465.1,188.8 465.9,189.3 C466.8,189.9 467.6,190.6 468.4,191.0 C469.2,191.4 470.0,191.7 470.9,192.0 C471.7,192.3 472.5,192.7 473.3,193.0 C474.2,193.3 475.0,193.8 475.8,194.0 C476.6,194.2 477.4,194.3 478.3,194.4 C479.1,194.6 479.9,194.7 480.7,194.9 C481.6,195.0 482.4,195.4 483.2,195.3 C484.0,195.2 484.8,194.5 485.6,194.1 C486.4,193.7 487.3,193.2 488.1,192.8 C488.9,192.4 489.7,192.2 490.5,191.6 C491.3,191.0 492.1,190.0 493.0,189.1 C493.8,188.3 494.6,187.5 495.4,186.7 C496.3,185.8 497.1,185.1 497.9,184.2 C498.7,183.3 499.5,182.3 500.4,181.3 C501.2,180.4 502.0,179.4 502.8,178.5 C503.7,177.5 504.5,176.6 505.3,175.6 C506.1,174.6 506.9,173.7 507.7,172.7 C508.5,171.8 509.4,170.8 510.2,169.9 C511.0,168.9 511.7,167.9 512.6,167.0 C513.5,166.1 514.4,165.5 515.3,164.8 C516.2,164.0 516.9,163.1 518.0,162.5 C519.1,161.9 520.6,160.5 521.8,161.1 C523.0,161.7 524.0,164.2 525.0,166.0 C526.0,167.8 527.2,171.1 528.0,171.8 C528.8,172.5 529.3,170.9 530.0,170.4 C530.7,169.9 531.2,169.6 532.0,169.0 C532.8,168.4 533.7,167.6 534.5,167.0 C535.4,166.3 536.2,165.6 537.1,164.9 C537.9,164.3 538.8,163.4 539.6,162.9 C540.4,162.4 541.1,161.9 541.8,161.7 C542.6,161.4 543.3,161.5 544.1,161.3 C544.8,161.0 545.6,160.9 546.3,160.2 C547.1,159.5 547.8,157.8 548.5,157.0 C549.3,156.2 550.0,155.5 550.8,155.3 C551.5,155.1 552.3,155.8 553.0,155.6 C553.8,155.4 554.5,154.2 555.3,154.1 C556.0,154.0 556.8,155.1 557.5,155.1 C558.2,155.2 559.0,154.5 559.7,154.2 C560.5,153.9 561.2,153.7 562.0,153.4 C562.7,153.2 563.5,152.9 564.2,152.8 C565.0,152.7 565.7,153.2 566.5,152.8 C567.2,152.4 567.9,150.6 568.7,150.3 C569.4,150.0 570.2,151.2 570.9,151.0 C571.7,150.9 572.4,149.3 573.2,149.5 C573.9,149.7 574.7,152.1 575.4,152.0 C576.1,152.0 576.7,149.1 577.4,149.3 C578.1,149.4 578.7,152.7 579.4,153.0 C580.1,153.2 580.7,150.5 581.4,150.6 C582.1,150.8 582.7,153.6 583.4,153.7 C584.1,153.9 584.9,151.9 585.6,151.3 C586.4,150.8 587.1,150.6 587.9,150.6 C588.6,150.6 589.4,152.0 590.1,151.4 C590.8,150.8 591.6,147.9 592.3,147.1 C593.1,146.2 593.8,146.0 594.6,146.2 C595.3,146.5 596.1,148.7 596.8,148.7 C597.5,148.6 598.3,146.8 599.0,145.9 C599.8,144.9 600.5,143.1 601.3,143.0 C602.0,143.0 602.8,145.3 603.5,145.4 C604.2,145.6 605.0,145.1 605.7,144.1 C606.5,143.1 607.2,140.4 608.0,139.6 C608.7,138.9 609.5,140.1 610.2,139.7 C610.9,139.3 611.6,137.7 612.3,137.1 C613.1,136.6 613.8,136.6 614.5,136.5 C615.2,136.3 615.9,136.9 616.6,136.3 C617.3,135.7 618.0,133.5 618.8,133.1 C619.5,132.6 620.2,134.6 620.9,133.8 C621.6,133.0 622.2,129.6 622.9,128.2 C623.6,126.9 624.2,126.2 624.9,125.7 C625.6,125.2 626.2,126.1 626.9,125.3 C627.6,124.4 628.1,121.8 628.9,120.6 C629.7,119.4 630.7,118.7 631.6,117.9 C632.5,117.1 633.8,116.2 634.3,115.9" fill="none" stroke="#e20000" stroke-width="4.6" stroke-linejoin="round" stroke-linecap="round"  />
<path d="M103.0,243.0 C135.8,242.7 259.3,241.6 300.0,241.0 C340.7,240.4 334.0,240.1 347.0,239.5 C360.0,238.9 369.4,238.0 378.0,237.2 C386.6,236.4 393.2,235.5 398.4,234.6 C403.6,233.7 405.3,232.8 409.4,231.7 C413.5,230.6 418.1,229.3 423.0,227.8 C427.9,226.3 433.5,224.0 439.0,222.9 C444.5,221.8 450.6,221.6 456.1,221.0 C461.6,220.4 467.4,220.3 472.1,219.2 C476.8,218.1 480.3,216.5 484.4,214.3 C488.5,212.2 493.4,209.1 496.7,206.3 C500.0,203.5 502.1,200.8 504.0,197.7 C505.9,194.6 506.8,191.8 508.0,188.0 C509.2,184.2 510.0,178.7 511.0,175.0 C512.0,171.3 512.8,169.2 514.0,166.0 C515.2,162.8 516.6,158.3 518.2,155.7 C519.8,153.1 522.3,154.6 523.6,150.4 C524.9,146.2 525.5,136.9 526.2,130.7 C527.0,124.4 527.3,118.9 528.0,112.9 C528.7,107.0 530.1,100.7 530.7,95.0 C531.3,89.3 531.3,85.5 531.6,78.9 C531.9,72.4 532.1,63.3 532.5,55.7 C532.9,48.1 533.3,34.6 533.9,33.4 C534.5,32.2 535.0,44.9 536.0,48.6 C537.0,52.3 538.6,52.4 539.6,55.7 C540.6,59.0 541.4,62.8 542.3,68.2 C543.2,73.6 544.0,82.5 545.0,87.9 C546.0,93.3 547.4,96.0 548.6,100.4 C549.8,104.9 550.3,110.7 552.1,114.6 C553.9,118.5 556.6,121.1 559.3,123.6 C562.0,126.1 565.8,129.2 568.2,129.8 C570.7,130.4 572.5,128.6 574.0,127.0 C575.5,125.4 576.2,121.5 577.1,120.0 C578.0,118.5 578.8,115.8 579.4,118.2 C580.0,120.6 580.1,131.8 580.7,134.3 C581.3,136.8 581.8,134.2 583.0,133.0 C584.2,131.8 585.6,127.8 587.9,127.1 C590.2,126.4 594.0,129.1 596.8,128.9 C599.6,128.8 601.9,125.3 604.8,126.2 C607.7,127.1 611.1,134.8 614.2,134.3 C617.3,133.9 620.1,125.7 623.5,123.5 C626.9,121.3 632.5,121.3 634.3,120.9" fill="none" stroke="#0000d8" stroke-width="4.6" stroke-linejoin="round" stroke-linecap="round" stroke-dasharray="30.3 13.7 4.2 13.7 4.2 13.7 4.2 13.7"  stroke-dashoffset="52.30"/>
<path d="M647.6,243.0 C673.0,242.8 764.6,242.2 800.0,242.0 C835.4,241.8 843.3,241.6 860.0,241.5 C876.7,241.4 889.0,241.9 900.2,241.2 C911.4,240.5 918.1,238.8 927.0,237.2 C935.9,235.6 946.0,233.6 953.8,231.8 C961.6,230.0 967.2,227.9 973.9,226.5 C980.6,225.1 985.7,224.6 994.0,223.1 C1002.3,221.6 1015.8,220.2 1023.5,217.3 C1031.2,214.4 1036.1,209.2 1040.3,205.6 C1044.5,202.0 1046.4,200.2 1048.6,195.5 C1050.8,190.8 1052.3,182.9 1053.7,177.1 C1055.1,171.2 1055.9,166.5 1057.0,160.4 C1058.1,154.3 1059.3,146.5 1060.4,140.3 C1061.5,134.2 1062.6,129.7 1063.7,123.5 C1064.8,117.3 1065.6,109.6 1067.0,103.4 C1068.4,97.2 1070.2,92.2 1072.1,86.4 C1074.0,80.6 1076.5,73.0 1078.2,68.3 C1079.9,63.6 1080.5,58.2 1082.2,58.2 C1083.9,58.2 1086.2,63.6 1088.2,68.3 C1090.2,73.0 1091.9,80.4 1094.2,86.4 C1096.5,92.4 1099.6,100.1 1102.3,104.4 C1105.0,108.8 1106.6,109.8 1110.3,112.5 C1114.0,115.2 1119.4,117.8 1124.4,120.5 C1129.4,123.2 1135.7,126.5 1140.4,128.5 C1145.1,130.5 1148.5,130.9 1152.5,132.6 C1156.5,134.3 1160.1,137.7 1164.5,138.6 C1168.9,139.5 1176.6,138.1 1179.0,138.0" fill="none" stroke="#929292" stroke-width="4.2" stroke-linejoin="round" stroke-linecap="round" stroke-dasharray="7.6 10.2" />
<path d="M782.5,241.9 C782.9,241.9 784.2,241.8 785.0,241.8 C785.8,241.7 786.7,241.7 787.5,241.6 C788.3,241.6 789.2,241.6 790.0,241.5 C790.8,241.5 791.7,241.4 792.5,241.4 C793.3,241.4 794.2,241.3 795.0,241.3 C795.8,241.2 796.7,241.2 797.5,241.1 C798.3,241.1 799.2,241.1 800.0,241.0 C800.8,241.0 801.7,240.9 802.5,240.9 C803.3,240.8 804.2,240.8 805.0,240.8 C805.8,240.7 806.7,240.7 807.5,240.6 C808.3,240.6 809.2,240.5 810.0,240.5 C810.8,240.5 811.7,240.4 812.5,240.4 C813.3,240.3 814.2,240.3 815.0,240.3 C815.8,240.2 816.7,240.2 817.5,240.1 C818.3,240.1 819.2,240.0 820.0,240.0 C820.8,240.0 821.7,239.9 822.5,239.9 C823.3,239.9 824.2,239.8 825.0,239.8 C825.8,239.8 826.7,239.8 827.5,239.7 C828.3,239.7 829.2,239.7 830.0,239.6 C830.8,239.6 831.7,239.6 832.5,239.5 C833.3,239.5 834.2,239.5 835.0,239.4 C835.8,239.4 836.7,239.4 837.5,239.3 C838.3,239.3 839.2,239.3 840.0,239.2 C840.8,239.2 841.7,239.2 842.5,239.2 C843.3,239.1 844.2,239.1 845.0,239.1 C845.8,239.0 846.7,239.0 847.5,239.0 C848.3,238.9 849.2,238.9 850.0,238.9 C850.8,238.8 851.7,238.8 852.5,238.8 C853.3,238.8 854.2,238.7 855.0,238.7 C855.8,238.7 856.7,238.6 857.5,238.6 C858.3,238.6 859.1,238.5 860.0,238.5 C860.9,238.5 861.8,238.4 862.7,238.4 C863.6,238.3 864.5,238.3 865.4,238.2 C866.3,238.2 867.1,238.2 868.0,238.1 C868.9,238.1 869.8,238.0 870.7,238.0 C871.6,237.9 872.5,237.9 873.4,237.8 C874.3,237.8 875.2,237.8 876.1,237.7 C877.0,237.7 877.9,237.6 878.8,237.6 C879.7,237.5 880.5,237.5 881.4,237.5 C882.3,237.4 883.2,237.4 884.1,237.3 C885.0,237.3 885.9,237.3 886.8,237.2 C887.7,237.1 888.6,236.9 889.5,236.8 C890.4,236.7 891.3,236.5 892.2,236.4 C893.1,236.3 893.9,236.1 894.8,236.0 C895.7,235.9 896.6,235.7 897.5,235.6 C898.4,235.5 899.3,235.3 900.2,235.2 C901.1,235.1 902.0,234.9 902.9,234.8 C903.8,234.7 904.7,234.5 905.6,234.4 C906.5,234.3 907.3,234.1 908.2,234.0 C909.1,233.9 910.0,233.7 910.9,233.6 C911.8,233.5 912.7,233.4 913.6,233.2 C914.5,233.0 915.3,232.9 916.1,232.7 C917.0,232.5 917.8,232.3 918.6,232.2 C919.5,232.0 920.3,231.8 921.1,231.7 C922.0,231.5 922.8,231.3 923.7,231.1 C924.5,231.0 925.3,230.8 926.2,230.6 C927.0,230.5 927.8,230.3 928.7,230.1 C929.5,230.0 930.4,229.8 931.2,229.6 C932.0,229.4 932.9,229.3 933.7,229.1 C934.5,228.9 935.4,228.5 936.2,228.3 C937.1,228.0 937.9,227.7 938.7,227.4 C939.6,227.1 940.4,226.9 941.2,226.6 C942.1,226.3 942.9,226.0 943.8,225.8 C944.6,225.5 945.4,225.2 946.3,224.9 C947.1,224.6 947.9,224.4 948.8,224.1 C949.6,223.8 950.4,223.5 951.3,223.2 C952.1,223.0 952.9,222.7 953.8,222.4 C954.7,222.1 955.6,221.7 956.5,221.3 C957.4,221.0 958.3,220.6 959.2,220.3 C960.1,219.9 960.9,219.6 961.8,219.2 C962.7,218.9 963.6,218.5 964.5,218.2 C965.4,217.8 966.3,217.5 967.2,217.1 C968.1,216.7 969.0,216.0 969.9,215.5 C970.8,214.9 971.7,214.4 972.6,213.9 C973.5,213.3 974.3,212.8 975.2,212.2 C976.1,211.7 977.0,211.2 977.9,210.6 C978.8,210.1 979.7,209.5 980.6,209.0 C981.5,208.5 982.4,208.1 983.3,207.7 C984.2,207.2 985.1,206.8 986.0,206.3 C986.9,205.9 987.7,205.4 988.6,205.0 C989.5,204.5 990.4,204.1 991.3,203.6 C992.2,203.2 993.1,202.7 994.0,202.3 C994.9,201.9 996.0,201.7 997.0,201.4 C998.0,201.2 999.0,201.5 1000.0,200.6 C1001.0,199.7 1001.9,197.6 1002.8,196.1 C1003.7,194.6 1004.7,193.2 1005.6,191.7 C1006.5,190.2 1007.4,189.8 1008.4,187.2 C1009.4,184.6 1010.6,179.9 1011.8,176.3 C1012.9,172.7 1014.1,168.9 1015.1,165.4 C1016.1,161.9 1016.8,158.7 1017.7,155.4 C1018.5,152.0 1019.4,149.4 1020.2,145.3 C1021.0,141.2 1021.9,135.8 1022.7,131.1 C1023.5,126.3 1024.4,120.2 1025.2,116.8 C1026.0,113.4 1026.9,112.6 1027.7,110.5 C1028.5,108.4 1029.2,104.5 1030.2,104.2 C1031.2,103.9 1032.5,103.2 1033.6,108.4 C1034.7,113.6 1035.8,126.8 1036.9,135.2 C1038.0,143.6 1039.3,154.6 1040.3,158.7 C1041.3,162.8 1042.0,159.3 1042.8,159.6 C1043.6,159.8 1044.2,162.8 1045.3,160.4 C1046.4,158.0 1048.1,147.3 1049.5,145.3 C1050.9,143.3 1052.3,149.2 1053.7,148.6 C1055.1,148.0 1056.6,142.8 1057.8,141.9 C1059.0,141.0 1059.8,141.9 1060.8,143.2 C1061.7,144.5 1062.8,148.3 1063.7,149.7 C1064.6,151.2 1065.4,151.3 1066.2,152.0 C1067.0,152.6 1067.9,152.9 1068.7,153.6 C1069.5,154.3 1070.4,154.4 1071.2,156.1 C1072.1,157.8 1073.0,163.4 1073.8,163.8 C1074.6,164.1 1075.5,160.2 1076.3,158.0 C1077.1,155.8 1077.8,152.6 1078.8,150.4 C1079.8,148.1 1081.2,145.2 1082.2,144.6 C1083.2,144.1 1084.0,146.2 1084.9,147.0 C1085.8,147.9 1086.6,148.2 1087.5,149.7 C1088.4,151.2 1089.3,155.6 1090.2,155.9 C1091.1,156.3 1092.0,153.9 1092.9,151.8 C1093.8,149.8 1094.6,145.0 1095.5,143.4 C1096.4,141.8 1097.3,142.4 1098.2,142.4 C1099.1,142.3 1100.0,142.2 1100.9,143.0 C1101.8,143.8 1102.7,145.9 1103.6,147.0 C1104.5,148.1 1105.3,148.9 1106.3,149.9 C1107.2,150.8 1108.3,152.9 1109.3,152.6 C1110.3,152.3 1111.3,149.2 1112.3,148.0 C1113.3,146.9 1114.3,147.0 1115.3,145.9 C1116.3,144.7 1117.4,143.1 1118.3,141.3 C1119.2,139.5 1120.0,136.4 1120.8,135.3 C1121.7,134.2 1122.5,134.9 1123.3,134.5 C1124.2,134.1 1125.0,134.1 1125.9,133.0 C1126.7,132.0 1127.5,127.5 1128.4,128.2 C1129.3,128.9 1130.4,135.7 1131.4,137.3 C1132.4,138.9 1133.5,138.4 1134.4,137.8 C1135.3,137.2 1136.2,134.3 1137.1,133.8 C1138.0,133.4 1138.8,136.0 1139.7,135.1 C1140.6,134.2 1141.5,129.3 1142.4,128.2 C1143.3,127.2 1144.1,129.7 1144.9,128.6 C1145.8,127.4 1146.6,123.1 1147.5,121.2 C1148.3,119.3 1149.1,118.9 1150.0,117.3 C1150.8,115.7 1151.6,111.5 1152.5,111.6 C1153.4,111.6 1154.3,116.1 1155.2,117.7 C1156.1,119.4 1156.9,120.0 1157.8,121.3 C1158.7,122.6 1159.6,125.5 1160.5,125.7 C1161.4,126.0 1162.3,125.1 1163.2,122.7 C1164.1,120.2 1164.9,113.6 1165.8,110.8 C1166.7,108.1 1167.6,109.5 1168.5,106.1 C1169.4,102.7 1170.2,94.4 1171.0,90.6 C1171.9,86.8 1172.8,83.6 1173.6,83.1 C1174.4,82.6 1175.3,86.2 1176.1,87.7 C1176.9,89.2 1178.2,91.2 1178.6,91.9" fill="none" stroke="#000" stroke-width="4.6" stroke-linejoin="round" stroke-linecap="round"  />
<path d="M782.5,240.9 C782.8,240.9 783.6,240.8 784.1,240.7 C784.7,240.7 785.2,240.6 785.8,240.6 C786.3,240.5 786.9,240.4 787.4,240.4 C788.0,240.3 788.5,240.3 789.1,240.2 C789.6,240.1 790.2,240.1 790.7,240.0 C791.2,240.0 791.8,239.9 792.3,239.8 C792.9,239.8 793.4,239.7 794.0,239.7 C794.5,239.6 795.1,239.6 795.6,239.5 C796.2,239.4 796.7,239.4 797.3,239.3 C797.8,239.3 798.4,239.2 798.9,239.2 C799.5,239.1 800.0,239.0 800.5,239.0 C801.1,238.9 801.6,238.9 802.2,238.8 C802.7,238.7 803.3,238.7 803.8,238.6 C804.4,238.6 804.9,238.5 805.5,238.4 C806.0,238.4 806.6,238.3 807.1,238.3 C807.7,238.2 808.2,238.2 808.8,238.1 C809.3,238.0 809.8,238.0 810.4,237.9 C810.9,237.9 811.5,237.8 812.0,237.8 C812.6,237.7 813.1,237.7 813.6,237.6 C814.2,237.6 814.7,237.5 815.3,237.5 C815.8,237.4 816.4,237.3 816.9,237.3 C817.4,237.2 818.0,237.2 818.5,237.1 C819.1,237.1 819.6,237.0 820.2,237.0 C820.7,236.9 821.2,236.9 821.8,236.8 C822.3,236.8 822.9,236.7 823.4,236.7 C824.0,236.6 824.5,236.5 825.1,236.5 C825.6,236.4 826.1,236.4 826.7,236.3 C827.2,236.3 827.8,236.2 828.3,236.2 C828.9,236.1 829.4,236.1 829.9,236.0 C830.5,236.0 831.0,235.9 831.6,235.8 C832.1,235.8 832.7,235.7 833.2,235.7 C833.8,235.6 834.3,235.6 834.8,235.5 C835.4,235.5 835.9,235.4 836.5,235.4 C837.0,235.3 837.6,235.3 838.1,235.2 C838.6,235.2 839.2,235.1 839.7,235.0 C840.3,235.0 840.8,234.9 841.4,234.9 C841.9,234.8 842.4,234.8 843.0,234.7 C843.5,234.7 844.1,234.6 844.6,234.6 C845.2,234.5 845.7,234.7 846.2,234.4 C846.8,234.1 847.5,233.4 848.1,232.9 C848.7,232.4 849.4,231.9 850.0,231.4 C850.6,230.9 851.2,230.4 851.9,229.9 C852.5,229.4 853.1,228.9 853.7,228.4 C854.4,227.9 855.0,227.3 855.6,226.9 C856.2,226.5 856.9,226.3 857.5,226.0 C858.1,225.6 858.7,225.3 859.4,225.0 C860.0,224.7 860.6,224.4 861.2,224.1 C861.9,223.8 862.5,223.5 863.1,223.1 C863.7,222.8 864.4,222.3 865.0,222.2 C865.6,222.1 866.3,222.2 866.9,222.3 C867.5,222.3 868.2,222.3 868.8,222.3 C869.4,222.4 870.1,222.4 870.7,222.4 C871.3,222.4 871.8,222.4 872.3,222.4 C872.8,222.4 873.4,222.4 873.9,222.4 C874.5,222.4 875.0,222.4 875.5,222.4 C876.1,222.4 876.6,222.4 877.1,222.4 C877.7,222.4 878.2,222.4 878.8,222.4 C879.3,222.4 879.8,222.4 880.4,222.4 C880.9,222.4 881.4,222.4 882.0,222.4 C882.5,222.4 883.0,222.4 883.6,222.4 C884.1,222.4 884.7,222.4 885.2,222.4 C885.7,222.4 886.3,222.4 886.8,222.4 C887.3,222.4 887.9,222.2 888.5,222.2 C889.0,222.1 889.6,222.0 890.1,221.9 C890.7,221.8 891.3,221.7 891.8,221.7 C892.4,221.6 892.9,221.5 893.5,221.4 C894.1,221.3 894.6,221.2 895.2,221.2 C895.7,221.1 896.3,221.0 896.9,220.9 C897.4,220.8 898.0,220.7 898.5,220.7 C899.1,220.6 899.6,220.6 900.2,220.4 C900.8,220.2 901.3,220.0 901.9,219.7 C902.4,219.5 903.0,219.3 903.6,219.1 C904.1,218.9 904.7,218.6 905.2,218.4 C905.8,218.2 906.3,218.0 906.9,217.8 C907.5,217.5 908.0,217.3 908.6,217.1 C909.1,216.9 909.7,216.6 910.2,216.4 C910.8,216.2 911.4,216.0 911.9,215.8 C912.5,215.5 913.0,215.4 913.6,215.1 C914.2,214.8 914.9,214.5 915.5,214.2 C916.1,213.8 916.7,213.5 917.4,213.2 C918.0,212.9 918.6,212.6 919.2,212.3 C919.9,212.0 920.5,211.7 921.1,211.3 C921.7,211.0 922.4,210.8 923.0,210.4 C923.6,210.0 924.1,209.3 924.6,208.8 C925.1,208.2 925.7,207.7 926.2,207.2 C926.7,206.6 927.3,206.1 927.8,205.5 C928.3,205.0 928.9,204.5 929.4,203.9 C929.9,203.4 930.5,203.0 931.0,202.3 C931.5,201.6 932.1,200.5 932.7,199.6 C933.2,198.7 933.8,197.8 934.4,196.9 C934.9,196.1 935.5,195.2 936.0,194.3 C936.6,193.4 937.1,192.4 937.7,191.6 C938.3,190.8 938.8,190.1 939.4,189.3 C939.9,188.5 940.5,187.7 941.0,186.9 C941.6,186.2 942.2,185.4 942.7,184.6 C943.3,183.8 943.8,183.3 944.4,182.3 C945.0,181.3 945.6,179.9 946.2,178.7 C946.8,177.5 947.4,176.3 948.0,175.1 C948.6,173.9 949.2,172.4 949.8,171.5 C950.4,170.6 950.9,170.2 951.5,169.5 C952.0,168.8 952.6,168.2 953.1,167.5 C953.7,166.8 954.3,166.2 954.8,165.5 C955.4,164.8 955.9,164.1 956.5,163.5 C957.1,162.9 957.6,162.4 958.2,161.8 C958.7,161.3 959.3,160.7 959.9,160.2 C960.4,159.6 961.0,159.0 961.5,158.5 C962.1,157.9 962.6,157.2 963.2,156.8 C963.8,156.4 964.4,156.5 965.0,156.4 C965.6,156.2 966.1,156.1 966.7,155.9 C967.3,155.8 967.9,155.4 968.5,155.5 C969.1,155.6 969.7,156.1 970.3,156.4 C970.9,156.7 971.5,156.9 972.1,157.2 C972.7,157.5 973.3,157.5 973.9,158.1 C974.5,158.7 975.2,159.9 975.9,160.8 C976.6,161.7 977.1,162.8 977.9,163.5 C978.7,164.2 979.9,164.1 980.6,164.8 C981.3,165.5 981.7,166.6 982.3,167.5 C982.8,168.4 983.4,169.3 984.0,170.2 C984.5,171.1 985.1,172.0 985.6,172.9 C986.2,173.8 986.7,174.8 987.3,175.6 C987.9,176.4 988.4,177.0 989.0,177.7 C989.5,178.4 990.1,179.1 990.6,179.8 C991.2,180.5 991.8,181.2 992.3,181.9 C992.9,182.6 993.4,183.4 994.0,184.0 C994.6,184.6 995.3,185.1 996.0,185.7 C996.7,186.2 997.3,186.8 998.0,187.3 C998.7,187.9 999.4,188.6 1000.0,189.0 C1000.6,189.4 1001.1,189.5 1001.7,189.8 C1002.3,190.1 1002.8,190.3 1003.4,190.6 C1004.0,190.9 1004.5,191.1 1005.1,191.4 C1005.7,191.7 1006.2,192.0 1006.8,192.2 C1007.4,192.4 1007.9,192.6 1008.5,192.8 C1009.0,192.9 1009.6,193.1 1010.1,193.3 C1010.7,193.5 1011.2,193.7 1011.8,193.8 C1012.4,194.0 1012.9,194.2 1013.5,194.4 C1014.0,194.6 1014.6,194.8 1015.1,194.9 C1015.7,195.1 1016.2,195.5 1016.8,195.5 C1017.4,195.5 1017.9,195.1 1018.5,194.9 C1019.0,194.8 1019.6,194.6 1020.2,194.4 C1020.7,194.2 1021.3,194.0 1021.9,193.8 C1022.4,193.7 1023.0,193.5 1023.5,193.3 C1024.1,193.1 1024.7,192.9 1025.2,192.8 C1025.8,192.6 1026.3,192.6 1026.9,192.2 C1027.5,191.8 1028.0,191.1 1028.6,190.5 C1029.1,190.0 1029.7,189.4 1030.2,188.8 C1030.8,188.3 1031.3,187.7 1031.9,187.2 C1032.4,186.6 1033.0,186.0 1033.5,185.5 C1034.1,184.9 1034.6,184.6 1035.2,183.8 C1035.8,183.0 1036.3,181.6 1036.9,180.4 C1037.4,179.3 1038.0,178.2 1038.6,177.1 C1039.1,176.0 1039.7,174.8 1040.2,173.7 C1040.8,172.6 1041.4,171.5 1041.9,170.4 C1042.5,169.2 1043.0,167.8 1043.6,167.0 C1044.2,166.2 1044.7,165.9 1045.3,165.3 C1045.8,164.8 1046.4,164.2 1046.9,163.7 C1047.5,163.1 1048.1,162.6 1048.6,162.1 C1049.2,161.5 1049.7,160.7 1050.3,160.4 C1050.9,160.1 1051.4,160.1 1052.0,160.0 C1052.5,159.8 1053.1,159.7 1053.7,159.6 C1054.2,159.4 1054.8,159.3 1055.3,159.1 C1055.9,159.0 1056.4,158.4 1057.0,158.7 C1057.6,159.0 1058.1,159.2 1058.7,160.8 C1059.2,162.4 1059.8,168.4 1060.3,168.3 C1060.9,168.3 1061.5,161.8 1062.0,160.6 C1062.6,159.4 1063.1,159.0 1063.7,161.3 C1064.3,163.6 1064.8,173.5 1065.4,174.3 C1065.9,175.0 1066.5,167.1 1067.1,165.8 C1067.6,164.4 1068.2,164.9 1068.7,166.3 C1069.3,167.6 1069.8,173.5 1070.4,173.9 C1071.0,174.4 1071.5,168.9 1072.1,169.0 C1072.6,169.0 1073.2,174.9 1073.8,174.2 C1074.3,173.6 1074.9,165.3 1075.4,165.1 C1076.0,164.8 1076.5,173.1 1077.1,172.5 C1077.7,172.0 1078.3,163.6 1078.9,161.8 C1079.5,160.1 1080.1,162.0 1080.7,162.2 C1081.2,162.4 1081.8,164.0 1082.4,163.2 C1083.0,162.4 1083.6,157.6 1084.2,157.2 C1084.8,156.8 1085.3,160.5 1085.9,160.7 C1086.4,161.0 1087.0,160.3 1087.5,158.7 C1088.1,157.2 1088.6,150.9 1089.2,151.4 C1089.8,152.0 1090.3,160.8 1090.9,162.0 C1091.4,163.3 1092.0,160.1 1092.5,159.2 C1093.1,158.2 1093.7,157.2 1094.2,156.4 C1094.7,155.6 1095.3,153.5 1095.8,154.4 C1096.3,155.2 1096.9,161.1 1097.4,161.7 C1098.0,162.3 1098.5,157.9 1099.0,157.9 C1099.6,157.8 1100.1,161.3 1100.6,161.5 C1101.2,161.7 1101.7,159.1 1102.2,158.9 C1102.8,158.8 1103.3,161.2 1103.9,160.6 C1104.4,160.0 1104.9,156.0 1105.5,155.2 C1106.0,154.5 1106.5,156.3 1107.1,156.2 C1107.6,156.1 1108.2,155.6 1108.7,154.6 C1109.2,153.5 1109.8,149.2 1110.3,149.7 C1110.8,150.2 1111.4,157.5 1112.0,157.4 C1112.5,157.3 1113.1,149.6 1113.7,149.0 C1114.2,148.4 1114.8,152.9 1115.3,154.0 C1115.9,155.0 1116.4,155.9 1117.0,155.4 C1117.6,154.9 1118.1,152.9 1118.7,151.1 C1119.2,149.2 1119.8,144.2 1120.3,144.3 C1120.9,144.4 1121.5,151.0 1122.0,151.8 C1122.6,152.7 1123.1,150.8 1123.7,149.3 C1124.3,147.8 1124.8,144.3 1125.4,142.8 C1125.9,141.4 1126.5,140.1 1127.1,140.5 C1127.6,141.0 1128.2,145.9 1128.7,145.6 C1129.3,145.4 1129.8,138.4 1130.4,139.0 C1131.0,139.6 1131.5,148.3 1132.1,149.0 C1132.6,149.8 1133.2,144.4 1133.8,143.3 C1134.3,142.3 1134.9,143.2 1135.4,142.8 C1136.0,142.4 1136.5,140.8 1137.1,140.8 C1137.7,140.9 1138.2,142.4 1138.8,143.2 C1139.3,144.0 1139.9,146.5 1140.5,145.6 C1141.0,144.7 1141.6,138.9 1142.1,137.6 C1142.7,136.3 1143.2,137.4 1143.8,137.8 C1144.4,138.1 1144.9,140.0 1145.5,139.6 C1146.0,139.2 1146.6,135.7 1147.2,135.5 C1147.7,135.3 1148.3,138.1 1148.8,138.4 C1149.4,138.7 1149.9,137.9 1150.5,137.1 C1151.1,136.3 1151.8,134.0 1152.4,133.5 C1153.0,133.0 1153.7,134.6 1154.3,134.0 C1154.9,133.5 1155.6,131.9 1156.2,130.0 C1156.8,128.0 1157.5,122.2 1158.1,122.4 C1158.7,122.5 1159.3,131.9 1160.0,131.0 C1160.7,130.1 1161.5,120.2 1162.2,117.0 C1163.0,113.8 1163.8,116.0 1164.5,111.7 C1165.2,107.4 1165.8,91.9 1166.5,91.2 C1167.2,90.6 1167.8,103.2 1168.5,107.6 C1169.2,112.1 1169.8,117.6 1170.5,117.9 C1171.2,118.2 1171.8,111.6 1172.4,109.4 C1173.0,107.2 1173.7,106.8 1174.3,104.9 C1174.9,103.0 1175.6,98.1 1176.2,98.0 C1176.8,97.9 1177.5,105.3 1178.1,104.4 C1178.7,103.4 1179.7,94.4 1180.0,92.5" fill="none" stroke="#e20000" stroke-width="4.6" stroke-linejoin="round" stroke-linecap="round"  />
<path d="M647.6,243.0 C673.0,242.8 764.6,242.4 800.0,242.0 C835.4,241.6 845.5,241.0 860.0,240.5 C874.5,240.0 877.9,240.0 886.8,239.2 C895.7,238.4 904.7,237.2 913.6,235.8 C922.5,234.4 931.5,232.5 940.4,230.5 C949.3,228.5 960.1,225.2 967.2,223.8 C974.4,222.5 977.8,222.9 983.3,222.4 C988.8,221.9 994.7,221.8 1000.0,220.7 C1005.3,219.6 1010.6,217.8 1015.1,215.6 C1019.6,213.4 1023.6,210.4 1026.9,207.3 C1030.2,204.2 1032.7,201.7 1035.2,197.2 C1037.7,192.7 1039.9,186.1 1041.9,180.5 C1043.9,174.9 1045.3,170.4 1047.0,163.7 C1048.7,157.0 1050.8,147.5 1052.0,140.3 C1053.2,133.1 1053.6,128.2 1054.0,120.5 C1054.4,112.8 1054.2,101.8 1054.5,94.4 C1054.8,87.0 1055.4,82.3 1055.7,76.3 C1056.0,70.3 1056.2,64.2 1056.5,58.2 C1056.8,52.2 1057.4,46.2 1057.7,40.2 C1058.0,34.2 1058.2,26.3 1058.5,22.1 C1058.8,17.9 1059.1,14.8 1059.7,15.1 C1060.3,15.4 1061.2,20.9 1062.1,24.1 C1063.0,27.3 1063.9,30.1 1065.1,34.1 C1066.3,38.1 1068.1,42.8 1069.1,48.2 C1070.1,53.6 1070.3,61.6 1071.1,66.3 C1071.9,71.0 1073.2,71.9 1074.1,76.3 C1074.9,80.7 1075.2,87.7 1076.2,92.4 C1077.2,97.1 1079.2,101.1 1080.2,104.4 C1081.2,107.8 1080.9,110.2 1082.2,112.5 C1083.5,114.8 1086.2,118.2 1088.2,118.5 C1090.2,118.8 1091.5,114.5 1094.2,114.5 C1096.9,114.5 1101.8,118.5 1104.3,118.5 C1106.8,118.5 1107.0,114.3 1109.3,114.5 C1111.6,114.7 1115.4,118.3 1118.3,119.5 C1121.2,120.7 1124.1,120.5 1126.4,121.5 C1128.8,122.5 1130.1,125.7 1132.4,125.5 C1134.7,125.3 1137.1,121.0 1140.4,120.5 C1143.8,120.0 1148.5,123.8 1152.5,122.5 C1156.5,121.2 1159.9,116.2 1164.5,112.5 C1169.1,108.8 1177.4,102.4 1180.0,100.4" fill="none" stroke="#0000d8" stroke-width="4.6" stroke-linejoin="round" stroke-linecap="round" stroke-dasharray="30.3 13.7 4.2 13.7 4.2 13.7 4.2 13.7"  stroke-dashoffset="15.60"/>
<path d="M103.0,509.0 C111.9,509.0 142.7,509.3 156.2,509.0 C169.8,508.7 176.6,508.1 184.4,507.2 C192.2,506.3 197.8,504.8 203.1,503.4 C208.4,502.0 212.2,500.5 216.2,498.8 C220.3,497.0 224.4,494.4 227.5,493.1 C230.6,491.9 232.5,491.6 235.0,491.2 C237.5,490.9 238.4,490.8 242.5,491.2 C246.6,491.7 251.9,493.0 259.4,494.1 C266.9,495.2 278.1,496.7 287.5,497.8 C296.9,498.9 306.9,499.9 315.6,500.6 C324.4,501.3 329.3,501.8 340.0,502.0 C350.7,502.2 368.7,502.2 380.0,502.0 C391.3,501.8 400.7,501.4 408.0,500.8 C415.3,500.2 418.5,499.3 423.8,498.4 C429.0,497.5 434.2,496.5 439.4,495.3 C444.6,494.1 449.8,492.8 455.0,491.4 C460.2,490.0 465.4,488.4 470.6,486.7 C475.8,485.0 481.0,483.2 486.2,481.2 C491.5,479.3 497.2,477.1 501.9,475.0 C506.6,472.9 511.0,471.6 514.4,468.8 C517.8,465.9 520.3,462.6 522.2,457.8 C524.1,453.0 524.9,445.7 526.0,440.0 C527.1,434.3 527.9,429.1 529.1,423.8 C530.3,418.4 531.9,411.5 533.1,407.7 C534.3,403.9 535.4,398.8 536.5,401.0 C537.6,403.2 538.8,416.3 539.8,421.0 C540.8,425.7 541.6,429.8 542.5,429.1 C543.4,428.4 544.3,423.0 545.2,417.0 C546.1,411.0 547.0,399.9 547.9,393.0 C548.8,386.1 549.5,380.0 550.5,375.5 C551.5,371.0 553.2,369.8 553.9,366.2 C554.6,362.6 554.0,352.8 554.5,354.1 C555.0,355.4 555.9,369.3 556.6,374.2 C557.3,379.1 557.2,381.8 558.6,383.6 C560.0,385.4 563.1,384.2 565.3,384.9 C567.5,385.6 569.8,387.4 572.0,387.6 C574.2,387.8 576.5,386.0 578.7,386.2 C580.9,386.4 582.5,387.6 585.4,389.0 C588.3,390.4 592.8,393.2 596.1,394.3 C599.4,395.4 602.3,394.9 605.4,395.6 C608.5,396.3 611.9,397.4 614.8,398.3 C617.7,399.2 619.5,400.8 622.8,401.0 C626.1,401.2 632.5,399.8 634.5,399.6" fill="none" stroke="#000" stroke-width="4.6" stroke-linejoin="round" stroke-linecap="round" stroke-dasharray="9.6 8.2" />
<path d="M137.5,509.0 C137.8,509.0 138.9,508.9 139.6,508.8 C140.3,508.7 141.0,508.7 141.7,508.6 C142.4,508.5 143.1,508.5 143.8,508.4 C144.4,508.3 145.1,508.3 145.8,508.2 C146.5,508.1 147.2,508.1 147.9,508.0 C148.6,507.9 149.3,507.9 150.0,507.8 C150.7,507.7 151.4,507.7 152.1,507.6 C152.8,507.5 153.5,507.5 154.2,507.4 C154.9,507.3 155.5,507.3 156.2,507.2 C157.0,507.1 157.7,506.9 158.4,506.7 C159.2,506.6 159.9,506.4 160.6,506.3 C161.4,506.1 162.1,506.0 162.8,505.8 C163.6,505.6 164.3,505.5 165.0,505.3 C165.7,505.2 166.5,505.0 167.2,504.9 C167.9,504.7 168.6,504.9 169.4,504.4 C170.2,503.9 171.1,502.7 171.9,501.9 C172.7,501.1 173.6,500.2 174.4,499.4 C175.2,498.6 176.0,498.4 176.9,496.9 C177.8,495.4 178.8,492.5 179.7,490.3 C180.6,488.1 181.6,486.4 182.5,483.8 C183.4,481.1 184.4,477.5 185.3,474.4 C186.2,471.2 187.2,468.0 188.1,465.0 C189.0,462.0 190.0,459.4 190.9,456.6 C191.9,453.7 192.7,450.3 193.8,448.1 C194.8,445.9 196.4,444.1 197.5,443.4 C198.6,442.7 199.4,443.7 200.3,443.9 C201.2,444.1 202.2,444.4 203.1,444.4 C204.0,444.4 205.0,444.1 205.9,443.9 C206.9,443.7 207.9,443.8 208.8,443.4 C209.6,443.0 210.3,442.2 211.1,441.5 C211.8,440.9 212.6,439.8 213.4,439.7 C214.2,439.6 214.9,440.5 215.6,440.9 C216.3,441.3 217.1,441.8 217.8,442.2 C218.5,442.6 219.2,443.0 220.0,443.4 C220.8,443.8 221.6,444.0 222.3,444.4 C223.1,444.7 223.9,444.6 224.7,445.3 C225.5,446.0 226.2,447.6 226.9,448.7 C227.6,449.9 228.3,451.0 229.1,452.2 C229.8,453.3 230.5,454.6 231.2,455.6 C232.0,456.6 232.8,457.4 233.5,458.2 C234.2,459.1 235.0,460.0 235.8,460.9 C236.5,461.7 237.2,462.6 238.0,463.5 C238.8,464.4 239.5,465.2 240.2,466.1 C241.0,467.0 241.8,468.1 242.5,468.8 C243.2,469.4 244.0,469.8 244.8,470.2 C245.5,470.8 246.2,471.2 247.0,471.8 C247.8,472.2 248.5,472.8 249.2,473.2 C250.0,473.8 250.8,474.2 251.5,474.8 C252.2,475.2 253.0,475.9 253.8,476.2 C254.5,476.6 255.2,476.8 255.9,477.1 C256.6,477.3 257.3,477.6 258.0,477.9 C258.8,478.1 259.5,478.4 260.2,478.7 C260.9,478.9 261.6,479.2 262.3,479.5 C263.0,479.7 263.8,480.0 264.5,480.3 C265.2,480.6 265.9,480.8 266.6,481.1 C267.3,481.4 268.0,481.6 268.8,481.9 C269.5,482.2 270.1,482.4 270.8,482.6 C271.5,482.9 272.2,483.1 272.9,483.3 C273.6,483.6 274.3,483.8 275.0,484.1 C275.7,484.3 276.4,484.5 277.1,484.8 C277.8,485.0 278.5,485.3 279.2,485.5 C279.9,485.8 280.6,486.0 281.2,486.2 C281.9,486.5 282.6,486.7 283.3,487.0 C284.0,487.2 284.7,487.4 285.4,487.7 C286.1,487.9 286.8,488.2 287.5,488.4 C288.2,488.6 288.9,488.8 289.6,489.0 C290.3,489.2 291.0,489.5 291.7,489.7 C292.4,489.9 293.1,490.1 293.8,490.3 C294.4,490.5 295.1,490.7 295.8,490.9 C296.5,491.1 297.2,491.4 297.9,491.6 C298.6,491.8 299.3,492.0 300.0,492.2 C300.7,492.4 301.4,492.6 302.1,492.8 C302.8,493.0 303.5,493.3 304.2,493.5 C304.9,493.7 305.6,493.9 306.2,494.1 C306.9,494.3 307.6,494.4 308.3,494.5 C309.0,494.6 309.7,494.8 310.4,494.9 C311.1,495.1 311.8,495.2 312.5,495.3 C313.2,495.5 313.9,495.6 314.6,495.7 C315.3,495.9 316.0,496.0 316.7,496.2 C317.4,496.3 318.1,496.4 318.8,496.6 C319.4,496.7 320.1,496.8 320.8,497.0 C321.5,497.1 322.2,497.3 322.9,497.4 C323.6,497.5 324.3,497.7 325.0,497.8 C325.7,497.9 326.4,498.0 327.1,498.0 C327.9,498.1 328.6,498.2 329.3,498.3 C330.0,498.4 330.7,498.4 331.4,498.5 C332.1,498.6 332.9,498.7 333.6,498.8 C334.3,498.9 335.0,498.9 335.7,499.0 C336.4,499.1 337.1,499.2 337.9,499.3 C338.6,499.3 339.3,499.5 340.0,499.5 C340.7,499.5 341.4,499.5 342.1,499.6 C342.8,499.6 343.5,499.6 344.2,499.6 C345.0,499.6 345.7,499.6 346.4,499.6 C347.1,499.7 347.8,499.7 348.5,499.7 C349.2,499.7 349.9,499.7 350.6,499.8 C351.3,499.8 352.0,499.8 352.8,499.8 C353.5,499.8 354.2,499.8 354.9,499.9 C355.6,499.9 356.3,499.9 357.0,499.9 C357.7,499.9 358.4,499.9 359.1,499.9 C359.8,500.0 360.6,500.0 361.2,500.0 C361.9,500.0 362.6,500.0 363.3,500.0 C364.0,500.1 364.7,500.1 365.4,500.1 C366.0,500.1 366.7,500.1 367.4,500.1 C368.1,500.1 368.8,500.2 369.5,500.2 C370.2,500.2 370.8,500.2 371.5,500.2 C372.2,500.2 372.9,500.2 373.6,500.3 C374.3,500.3 375.0,500.3 375.6,500.3 C376.3,500.3 377.0,500.3 377.7,500.3 C378.4,500.4 379.1,500.4 379.7,500.4 C380.4,500.4 381.1,500.4 381.8,500.4 C382.5,500.4 383.2,500.4 383.9,500.5 C384.5,500.5 385.2,500.5 385.9,500.5 C386.6,500.5 387.3,500.5 388.0,500.5 C388.7,500.6 389.3,500.6 390.0,500.6 C390.7,500.6 391.4,500.6 392.1,500.6 C392.8,500.6 393.4,500.7 394.1,500.7 C394.8,500.7 395.5,500.7 396.2,500.7 C396.9,500.7 397.6,500.7 398.2,500.8 C398.9,500.8 399.6,500.8 400.3,500.8 C401.0,500.8 401.7,500.7 402.4,500.7 C403.0,500.7 403.7,500.7 404.4,500.6 C405.1,500.6 405.8,500.6 406.5,500.5 C407.2,500.5 407.8,500.5 408.5,500.5 C409.2,500.4 409.9,500.4 410.6,500.4 C411.3,500.4 412.0,500.3 412.6,500.3 C413.3,500.3 414.0,500.2 414.7,500.2 C415.4,500.2 416.1,500.2 416.8,500.1 C417.4,500.1 418.1,500.1 418.8,500.0 C419.5,500.0 420.2,500.0 420.9,500.0 C421.6,499.9 422.3,499.9 422.9,499.9 C423.6,499.8 424.3,499.8 425.0,499.8 C425.7,499.8 426.4,499.7 427.1,499.7 C427.7,499.7 428.4,499.6 429.1,499.6 C429.8,499.6 430.5,499.6 431.2,499.5 C431.9,499.5 432.5,499.5 433.2,499.5 C433.9,499.4 434.6,499.4 435.3,499.4 C436.0,499.3 436.7,499.3 437.3,499.3 C438.0,499.3 438.7,499.2 439.4,499.2 C440.1,499.2 440.8,499.1 441.5,499.0 C442.2,498.9 442.9,498.9 443.6,498.8 C444.3,498.7 444.9,498.6 445.6,498.6 C446.3,498.5 447.0,498.4 447.7,498.4 C448.4,498.3 449.1,498.2 449.8,498.2 C450.5,498.1 451.2,498.0 451.9,498.0 C452.6,497.9 453.3,497.8 454.0,497.8 C454.7,497.7 455.3,497.6 456.0,497.5 C456.7,497.5 457.4,497.4 458.1,497.3 C458.8,497.3 459.5,497.2 460.2,497.1 C460.9,497.1 461.6,497.0 462.3,496.9 C463.0,496.9 463.7,496.8 464.4,496.7 C465.1,496.7 465.7,496.6 466.4,496.5 C467.1,496.4 467.8,496.4 468.5,496.3 C469.2,496.2 469.8,496.4 470.6,496.1 C471.4,495.8 472.3,494.9 473.2,494.3 C474.1,493.7 474.9,493.0 475.8,492.4 C476.7,491.8 477.5,491.4 478.4,490.6 C479.3,489.8 480.1,488.5 481.0,487.5 C481.9,486.4 482.8,485.4 483.6,484.4 C484.5,483.3 485.4,482.1 486.2,481.2 C487.1,480.4 487.8,479.9 488.6,479.3 C489.4,478.6 490.1,478.0 490.9,477.3 C491.7,476.7 492.5,476.0 493.3,475.4 C494.0,474.7 494.8,473.9 495.6,473.4 C496.4,472.9 497.1,472.6 497.8,472.2 C498.5,471.7 499.3,471.3 500.0,470.9 C500.7,470.5 501.5,470.1 502.2,469.7 C502.9,469.3 503.7,468.9 504.4,468.4 C505.1,468.0 505.8,467.8 506.6,467.2 C507.4,466.6 508.3,465.5 509.2,464.6 C510.1,463.7 510.9,462.9 511.8,462.0 C512.7,461.1 513.6,460.6 514.4,459.4 C515.2,458.2 515.7,456.3 516.4,454.7 C517.1,453.1 517.6,453.0 518.4,450.0 C519.2,447.0 520.2,441.2 521.1,436.9 C522.0,432.5 522.7,430.0 523.8,423.8 C524.8,417.5 526.2,403.7 527.1,399.6 C528.0,395.5 528.4,399.2 529.1,399.0 C529.8,398.7 530.3,401.1 531.1,398.3 C531.9,395.5 532.8,386.2 533.8,382.2 C534.8,378.2 536.2,376.5 537.1,374.2 C538.0,371.9 538.4,368.2 539.1,368.2 C539.8,368.2 540.3,370.5 541.2,374.2 C542.1,377.9 543.4,386.2 544.5,390.3 C545.6,394.4 546.9,397.1 547.9,399.0 C548.9,401.0 549.7,401.0 550.5,402.1 C551.4,403.2 552.3,404.6 553.2,405.9 C554.1,407.1 555.0,409.0 555.9,409.7 C556.8,410.5 557.7,410.2 558.6,410.3 C559.5,410.3 560.4,410.1 561.2,410.1 C562.1,410.2 563.1,410.1 563.9,410.6 C564.7,411.2 565.2,413.2 565.9,413.4 C566.6,413.6 567.3,411.4 568.0,411.6 C568.6,411.9 569.3,414.1 570.0,414.7 C570.6,415.3 571.3,415.2 572.0,415.0 C572.7,414.9 573.3,413.5 574.0,413.6 C574.7,413.7 575.3,415.4 576.0,415.8 C576.7,416.3 577.3,416.0 578.0,416.1 C578.7,416.3 579.3,416.2 580.0,416.7 C580.7,417.1 581.3,419.0 582.0,418.7 C582.7,418.3 583.3,415.5 584.0,414.7 C584.7,414.0 585.3,413.7 586.0,414.1 C586.7,414.6 587.3,417.1 588.0,417.5 C588.7,417.8 589.6,416.5 590.4,416.3 C591.1,416.2 591.9,416.2 592.7,416.5 C593.5,416.8 594.3,417.6 595.0,418.0 C595.8,418.5 596.6,418.7 597.4,419.2 C598.2,419.6 599.0,421.0 599.8,420.5 C600.5,420.1 601.3,417.4 602.1,416.5 C602.9,415.7 603.7,415.7 604.4,415.6 C605.2,415.5 606.1,416.1 606.8,416.0 C607.5,416.0 608.2,415.3 608.9,415.3 C609.7,415.4 610.4,416.4 611.1,416.4 C611.8,416.4 612.5,416.0 613.2,415.4 C613.9,414.9 614.6,413.6 615.4,413.0 C616.1,412.4 616.8,411.8 617.5,411.8 C618.2,411.8 618.8,412.9 619.5,413.0 C620.2,413.1 620.8,413.3 621.5,412.3 C622.2,411.3 622.8,407.8 623.5,407.1 C624.2,406.5 624.8,408.5 625.5,408.6 C626.2,408.7 627.0,408.3 627.8,407.7 C628.5,407.2 629.2,406.4 630.0,405.5 C630.8,404.5 631.5,402.7 632.2,402.3 C633.0,401.9 634.1,403.0 634.5,403.2" fill="none" stroke="#e20000" stroke-width="4.6" stroke-linejoin="round" stroke-linecap="round"  />
<path d="M103.0,509.0 C103.3,509.0 104.4,509.0 105.1,509.0 C105.8,508.9 106.5,508.9 107.2,508.9 C107.9,508.9 108.6,508.9 109.3,508.9 C110.0,508.9 110.7,508.8 111.4,508.8 C112.1,508.8 112.8,508.8 113.5,508.8 C114.2,508.8 114.9,508.8 115.5,508.8 C116.2,508.7 116.9,508.7 117.6,508.7 C118.3,508.7 119.0,508.7 119.7,508.7 C120.4,508.7 121.1,508.6 121.8,508.6 C122.5,508.6 123.2,508.6 123.9,508.6 C124.6,508.6 125.3,508.6 126.0,508.5 C126.7,508.5 127.4,508.6 128.1,508.5 C128.8,508.4 129.5,508.2 130.2,508.1 C130.9,508.0 131.6,507.8 132.3,507.7 C133.0,507.6 133.7,507.4 134.4,507.3 C135.1,507.2 135.8,507.0 136.6,506.9 C137.3,506.8 138.0,506.6 138.7,506.5 C139.4,506.4 140.1,506.2 140.8,506.1 C141.5,506.0 142.2,505.8 142.9,505.7 C143.6,505.6 144.2,505.6 145.0,505.3 C145.8,505.0 146.7,504.3 147.5,503.7 C148.3,503.2 149.2,502.7 150.0,502.2 C150.8,501.6 151.6,501.6 152.5,500.6 C153.4,499.6 154.4,497.5 155.3,495.9 C156.2,494.4 157.0,494.5 158.1,491.2 C159.2,488.0 160.8,482.2 161.9,476.2 C163.0,470.3 163.8,462.2 164.7,455.6 C165.6,449.0 166.6,439.9 167.5,436.9 C168.4,433.9 169.2,435.9 170.3,437.8 C171.4,439.7 173.0,446.1 174.1,448.1 C175.2,450.1 175.8,450.6 176.9,450.0 C178.0,449.4 179.6,446.4 180.6,444.4 C181.6,442.4 182.2,440.0 182.9,437.8 C183.7,435.6 184.5,433.1 185.3,431.2 C186.1,429.4 186.9,428.4 187.7,427.0 C188.4,425.6 189.3,423.8 190.0,422.8 C190.7,421.8 191.0,420.6 191.9,420.9 C192.8,421.2 194.5,423.4 195.6,424.7 C196.7,426.0 197.5,427.5 198.4,428.9 C199.4,430.3 200.4,431.8 201.2,433.1 C202.1,434.4 202.9,435.6 203.8,436.9 C204.6,438.1 205.4,439.4 206.2,440.6 C207.1,441.9 207.9,443.1 208.8,444.4 C209.6,445.6 210.4,446.9 211.2,448.1 C212.1,449.4 212.9,450.6 213.8,451.9 C214.6,453.1 215.4,454.4 216.2,455.6 C217.1,456.8 217.8,457.8 218.6,458.9 C219.4,460.0 220.1,461.1 220.9,462.2 C221.7,463.3 222.5,464.4 223.3,465.5 C224.0,466.6 224.8,467.7 225.6,468.8 C226.4,469.8 227.2,470.6 227.9,471.6 C228.7,472.5 229.5,473.4 230.3,474.4 C231.1,475.3 231.9,476.2 232.7,477.2 C233.4,478.1 234.2,479.2 235.0,480.0 C235.8,480.8 236.5,481.3 237.2,481.9 C238.0,482.5 238.8,483.1 239.5,483.8 C240.2,484.4 241.0,485.0 241.8,485.6 C242.5,486.3 243.2,486.9 244.0,487.5 C244.8,488.1 245.5,488.9 246.2,489.4 C247.0,489.9 247.7,490.0 248.4,490.3 C249.2,490.6 249.9,491.0 250.6,491.3 C251.4,491.6 252.1,491.9 252.8,492.2 C253.6,492.5 254.3,492.8 255.0,493.1 C255.7,493.4 256.5,493.8 257.2,494.1 C257.9,494.4 258.7,494.7 259.4,495.0 C260.1,495.3 260.8,495.4 261.5,495.6 C262.2,495.8 262.9,496.0 263.6,496.2 C264.2,496.5 264.9,496.7 265.6,496.9 C266.3,497.1 267.0,497.3 267.7,497.5 C268.4,497.7 269.1,497.9 269.8,498.1 C270.5,498.3 271.2,498.5 271.9,498.7 C272.6,498.9 273.3,499.1 273.9,499.4 C274.6,499.6 275.3,499.8 276.0,500.0 C276.7,500.2 277.4,500.4 278.1,500.6 C278.8,500.8 279.5,500.8 280.2,500.9 C280.9,501.0 281.6,501.1 282.3,501.2 C283.0,501.3 283.7,501.4 284.4,501.5 C285.1,501.6 285.8,501.7 286.5,501.8 C287.2,501.9 287.8,502.1 288.5,502.2 C289.2,502.3 289.9,502.4 290.6,502.5 C291.3,502.6 292.0,502.7 292.7,502.8 C293.4,502.9 294.1,503.0 294.8,503.1 C295.5,503.2 296.2,503.3 296.9,503.4 C297.6,503.5 298.3,503.5 299.0,503.5 C299.7,503.6 300.4,503.6 301.1,503.7 C301.7,503.8 302.4,503.8 303.1,503.8 C303.8,503.9 304.5,503.9 305.2,504.0 C305.9,504.1 306.6,504.1 307.3,504.1 C308.0,504.2 308.7,504.2 309.4,504.3 C310.1,504.4 310.8,504.4 311.4,504.4 C312.1,504.5 312.8,504.6 313.5,504.6 C314.2,504.7 314.9,504.7 315.6,504.8 C316.3,504.8 317.0,504.8 317.6,504.8 C318.3,504.8 319.0,504.8 319.7,504.8 C320.3,504.9 321.0,504.9 321.7,504.9 C322.4,504.9 323.1,504.9 323.7,504.9 C324.4,504.9 325.1,505.0 325.8,505.0 C326.4,505.0 327.1,505.0 327.8,505.0 C328.5,505.0 329.2,505.1 329.8,505.1 C330.5,505.1 331.2,505.1 331.9,505.1 C332.5,505.1 333.2,505.1 333.9,505.2 C334.6,505.2 335.3,505.2 335.9,505.2 C336.6,505.2 337.3,505.2 338.0,505.3 C338.6,505.3 339.3,505.3 340.0,505.3 C340.7,505.3 341.4,505.3 342.1,505.3 C342.7,505.3 343.4,505.3 344.1,505.3 C344.8,505.3 345.5,505.3 346.1,505.2 C346.8,505.2 347.5,505.2 348.2,505.2 C348.9,505.2 349.6,505.2 350.2,505.2 C350.9,505.2 351.6,505.2 352.3,505.2 C353.0,505.2 353.7,505.2 354.3,505.2 C355.0,505.2 355.7,505.2 356.4,505.2 C357.1,505.2 357.8,505.2 358.4,505.1 C359.1,505.1 359.8,505.1 360.5,505.1 C361.2,505.1 361.9,505.1 362.6,505.1 C363.2,505.1 363.9,505.1 364.6,505.1 C365.3,505.1 366.0,505.1 366.6,505.1 C367.3,505.1 368.0,505.1 368.7,505.1 C369.4,505.1 370.1,505.1 370.8,505.1 C371.4,505.0 372.1,505.0 372.8,505.0 C373.5,505.0 374.2,505.0 374.8,505.0 C375.5,505.0 376.2,505.0 376.9,505.0 C377.6,505.0 378.3,505.0 378.9,505.0 C379.6,505.0 380.3,505.0 381.0,504.9 C381.7,504.9 382.3,504.9 383.0,504.9 C383.7,504.9 384.4,504.9 385.0,504.9 C385.7,504.9 386.4,504.9 387.1,504.9 C387.8,504.9 388.4,504.9 389.1,504.8 C389.8,504.8 390.5,504.8 391.2,504.8 C391.8,504.8 392.5,504.8 393.2,504.8 C393.9,504.8 394.6,504.8 395.2,504.8 C395.9,504.8 396.6,504.7 397.3,504.7 C397.9,504.7 398.6,504.7 399.3,504.7 C400.0,504.7 400.7,504.7 401.3,504.7 C402.0,504.7 402.7,504.7 403.4,504.7 C404.1,504.7 404.7,504.6 405.4,504.6 C406.1,504.6 406.8,504.6 407.5,504.6 C408.1,504.6 408.8,504.6 409.5,504.6 C410.2,504.6 410.8,504.6 411.5,504.6 C412.2,504.5 412.9,504.5 413.6,504.5 C414.2,504.5 414.9,504.5 415.6,504.5 C416.3,504.5 417.0,504.5 417.6,504.5 C418.3,504.5 419.0,504.5 419.7,504.5 C420.4,504.4 421.0,504.4 421.7,504.4 C422.4,504.4 423.1,504.4 423.8,504.4 C424.4,504.4 425.1,504.3 425.8,504.3 C426.5,504.3 427.2,504.3 427.9,504.2 C428.6,504.2 429.3,504.2 430.0,504.1 C430.7,504.1 431.4,504.1 432.1,504.1 C432.8,504.0 433.5,504.0 434.2,504.0 C434.9,503.9 435.6,503.9 436.2,503.9 C436.9,503.9 437.6,503.8 438.3,503.8 C439.0,503.8 439.7,503.7 440.4,503.7 C441.1,503.7 441.8,503.6 442.5,503.6 C443.2,503.6 443.9,503.6 444.6,503.5 C445.3,503.5 446.0,503.5 446.7,503.4 C447.4,503.4 448.1,503.4 448.8,503.4 C449.4,503.3 450.1,503.3 450.8,503.3 C451.5,503.2 452.2,503.2 452.9,503.2 C453.6,503.2 454.3,503.2 455.0,503.1 C455.7,503.0 456.4,502.9 457.1,502.7 C457.8,502.6 458.5,502.5 459.3,502.4 C460.0,502.3 460.7,502.2 461.4,502.0 C462.1,501.9 462.8,501.8 463.5,501.7 C464.2,501.6 464.9,501.4 465.6,501.3 C466.3,501.2 467.1,501.1 467.8,501.0 C468.5,500.9 469.2,500.7 469.9,500.6 C470.6,500.5 471.3,500.4 472.0,500.3 C472.7,500.1 473.4,500.0 474.1,499.9 C474.9,499.8 475.6,499.7 476.3,499.6 C477.0,499.4 477.7,499.4 478.4,499.2 C479.1,499.0 479.9,498.8 480.6,498.5 C481.4,498.3 482.1,498.1 482.9,497.9 C483.6,497.6 484.3,497.4 485.1,497.2 C485.8,497.0 486.6,496.7 487.3,496.5 C488.1,496.3 488.8,496.1 489.5,495.8 C490.3,495.6 491.0,495.4 491.8,495.2 C492.5,494.9 493.3,494.8 494.0,494.5 C494.7,494.2 495.4,493.9 496.1,493.6 C496.8,493.3 497.5,493.0 498.2,492.7 C498.9,492.4 499.6,492.1 500.3,491.8 C501.0,491.4 501.7,491.1 502.4,490.8 C503.1,490.5 503.8,490.2 504.5,489.9 C505.2,489.6 505.9,489.6 506.6,489.0 C507.3,488.4 508.2,487.2 509.0,486.3 C509.7,485.4 510.5,484.5 511.3,483.6 C512.1,482.6 512.9,481.7 513.6,480.8 C514.4,479.9 515.3,479.2 516.0,478.1 C516.7,477.0 517.4,475.7 518.1,474.5 C518.8,473.3 519.4,472.0 520.1,470.8 C520.8,469.6 521.4,470.7 522.2,467.2 C523.0,463.7 524.2,454.6 525.1,450.0 C526.0,445.4 526.9,443.0 527.8,439.6 C528.6,436.1 529.6,432.2 530.4,429.1 C531.2,426.0 531.8,423.7 532.5,421.1 C533.1,418.4 533.8,414.7 534.5,413.0 C535.2,411.3 535.8,411.7 536.5,411.0 C537.2,410.3 537.8,409.4 538.5,409.0 C539.2,408.6 539.8,408.6 540.5,408.4 C541.2,408.1 541.7,406.9 542.5,407.7 C543.3,408.5 544.4,411.2 545.2,413.0 C546.0,414.8 546.5,416.6 547.2,418.4 C547.9,420.2 548.4,422.4 549.2,423.8 C550.0,425.1 551.0,425.5 551.9,426.4 C552.7,427.3 553.7,429.4 554.5,429.1 C555.3,428.8 555.9,426.0 556.5,424.4 C557.2,422.8 557.8,421.8 558.6,419.7 C559.4,417.6 560.4,414.1 561.2,411.7 C562.1,409.4 563.1,407.0 563.9,405.4 C564.7,403.9 565.2,403.1 565.9,402.4 C566.6,401.6 567.2,401.6 567.9,400.8 C568.6,400.0 569.3,398.3 570.0,397.6 C570.6,396.8 571.3,396.6 572.0,396.3 C572.7,396.0 573.5,395.4 574.2,395.7 C575.0,396.1 575.7,397.5 576.5,398.3 C577.2,399.1 577.9,400.3 578.7,400.6 C579.5,401.0 580.3,400.1 581.0,400.3 C581.8,400.6 582.6,401.9 583.4,402.3 C584.1,402.7 584.9,402.8 585.7,402.8 C586.4,402.7 587.3,402.2 588.0,401.9 C588.7,401.6 589.4,400.8 590.1,401.1 C590.9,401.4 591.6,403.5 592.3,403.6 C593.0,403.8 593.7,402.3 594.4,402.0 C595.1,401.7 595.8,401.6 596.6,401.9 C597.3,402.3 597.9,403.7 598.7,404.4 C599.5,405.1 600.5,405.5 601.4,406.0 C602.3,406.5 603.3,407.2 604.1,407.3 C604.9,407.4 605.4,407.3 606.1,406.7 C606.8,406.0 607.4,404.2 608.1,403.4 C608.8,402.6 609.4,402.4 610.1,402.0 C610.8,401.7 611.4,401.0 612.1,401.2 C612.8,401.3 613.5,403.3 614.1,403.1 C614.8,402.8 615.5,400.4 616.2,399.8 C616.8,399.2 617.5,399.5 618.2,399.3 C618.9,399.0 619.5,398.5 620.2,398.2 C620.9,397.8 621.5,397.4 622.2,396.9 C622.9,396.5 623.5,395.9 624.2,395.6 C624.9,395.3 625.5,395.6 626.2,395.2 C626.9,394.8 627.5,393.8 628.2,393.3 C628.9,392.8 629.6,392.4 630.3,392.3 C631.0,392.2 631.7,393.3 632.4,392.7 C633.1,392.2 634.1,389.6 634.5,389.0" fill="none" stroke="#0000d8" stroke-width="4.6" stroke-linejoin="round" stroke-linecap="round"  />
<path d="M648.0,508.5 C656.9,508.5 689.2,508.9 701.2,508.5 C713.2,508.1 713.8,507.2 720.0,506.2 C726.2,505.2 732.5,504.1 738.8,502.5 C745.0,500.9 751.9,498.6 757.5,496.9 C763.1,495.2 768.1,493.3 772.5,492.2 C776.9,491.1 780.0,490.3 783.8,490.3 C787.5,490.3 790.0,491.1 795.0,492.2 C800.0,493.3 805.9,495.5 813.8,496.9 C821.6,498.3 832.5,499.7 841.9,500.6 C851.3,501.5 862.8,502.0 870.0,502.5 C877.2,503.0 875.5,503.4 885.0,503.4 C894.5,503.4 916.0,502.7 926.9,502.3 C937.8,501.9 942.5,501.8 950.3,500.8 C958.1,499.8 966.7,498.1 973.8,496.1 C980.8,494.1 988.2,490.9 992.7,488.8 C997.2,486.6 998.2,485.0 1000.7,483.4 C1003.2,481.8 1005.5,479.9 1007.9,478.9 C1010.3,477.8 1012.6,477.8 1015.0,477.1 C1017.4,476.4 1019.3,476.4 1022.1,474.5 C1024.9,472.6 1028.4,469.3 1032.0,466.0 C1035.6,462.7 1040.9,458.0 1043.6,454.8 C1046.3,451.6 1046.8,450.2 1048.0,446.8 C1049.2,443.4 1050.0,438.3 1050.7,434.3 C1051.5,430.3 1051.8,435.0 1052.5,422.7 C1053.2,410.4 1054.3,377.4 1055.1,360.3 C1055.9,343.2 1056.5,329.8 1057.1,320.1 C1057.7,310.4 1057.8,300.3 1058.5,302.0 C1059.2,303.7 1060.0,324.8 1061.1,330.2 C1062.2,335.6 1063.9,336.2 1065.1,334.2 C1066.3,332.2 1066.9,318.1 1068.1,318.1 C1069.3,318.1 1070.8,328.2 1072.1,334.2 C1073.4,340.2 1074.7,347.6 1076.2,354.3 C1077.7,361.0 1079.2,369.7 1081.2,374.4 C1083.2,379.1 1085.7,380.1 1088.2,382.4 C1090.7,384.7 1093.5,386.4 1096.2,388.4 C1098.9,390.4 1101.3,392.7 1104.3,394.4 C1107.3,396.1 1110.9,396.5 1114.3,398.5 C1117.7,400.5 1120.7,404.8 1124.4,406.5 C1128.1,408.2 1131.7,408.8 1136.4,408.5 C1141.1,408.2 1147.8,406.9 1152.5,404.5 C1157.2,402.1 1161.8,398.1 1164.5,394.4 C1167.2,390.7 1166.5,383.7 1168.5,382.4 C1170.5,381.1 1174.8,386.0 1176.6,386.4 C1178.3,386.8 1178.6,385.2 1179.0,385.0" fill="none" stroke="#000" stroke-width="4.6" stroke-linejoin="round" stroke-linecap="round" stroke-dasharray="9.6 8.2" />
<path d="M682.5,509.0 C682.8,509.0 683.6,508.8 684.2,508.8 C684.8,508.7 685.3,508.6 685.9,508.5 C686.5,508.4 687.0,508.3 687.6,508.2 C688.2,508.2 688.8,508.1 689.3,508.0 C689.9,507.9 690.5,507.8 691.0,507.8 C691.6,507.7 692.2,507.6 692.7,507.5 C693.3,507.4 693.9,507.3 694.4,507.2 C695.0,507.2 695.6,507.1 696.1,507.0 C696.7,506.9 697.3,506.8 697.8,506.8 C698.4,506.7 699.0,506.6 699.5,506.5 C700.1,506.4 700.7,506.4 701.2,506.2 C701.8,506.1 702.3,505.7 702.9,505.4 C703.4,505.2 703.9,504.9 704.5,504.6 C705.0,504.4 705.5,504.1 706.1,503.8 C706.6,503.6 707.1,503.3 707.7,503.0 C708.2,502.8 708.8,502.5 709.3,502.2 C709.8,501.9 710.4,501.7 710.9,501.4 C711.4,501.1 711.9,501.3 712.5,500.6 C713.1,499.9 713.8,498.4 714.4,497.3 C715.0,496.2 715.6,495.1 716.2,494.1 C716.9,493.0 717.5,491.9 718.1,490.8 C718.8,489.7 719.4,489.3 720.0,487.5 C720.6,485.7 721.2,482.5 721.9,480.0 C722.5,477.5 723.1,475.0 723.7,472.5 C724.4,470.0 724.9,467.7 725.6,465.0 C726.3,462.3 727.2,459.4 728.0,456.6 C728.7,453.7 729.5,449.5 730.3,448.1 C731.1,446.7 731.9,448.1 732.6,448.1 C733.4,448.1 734.3,447.9 735.0,448.1 C735.7,448.3 736.2,448.9 736.9,449.4 C737.5,449.8 738.1,450.2 738.7,450.6 C739.4,451.1 740.0,451.9 740.6,451.9 C741.2,451.9 741.9,451.1 742.5,450.6 C743.1,450.2 743.7,449.8 744.4,449.4 C745.0,448.9 745.7,448.7 746.2,448.1 C746.8,447.5 747.3,446.7 747.9,446.0 C748.4,445.3 749.0,444.6 749.5,443.9 C750.1,443.2 750.6,442.5 751.2,441.8 C751.7,441.1 752.3,440.0 752.8,439.7 C753.3,439.4 753.9,440.0 754.4,440.2 C755.0,440.3 755.5,440.5 756.1,440.6 C756.6,440.8 757.2,441.0 757.8,441.1 C758.3,441.3 758.8,441.2 759.4,441.6 C760.0,442.0 760.6,443.0 761.3,443.7 C761.9,444.4 762.5,445.1 763.1,445.8 C763.8,446.5 764.4,447.2 765.0,447.9 C765.6,448.6 766.3,449.3 766.9,450.0 C767.5,450.7 768.1,451.5 768.8,452.2 C769.4,453.0 770.0,453.8 770.6,454.5 C771.3,455.2 771.9,456.0 772.5,456.8 C773.1,457.5 773.8,458.2 774.4,459.0 C775.0,459.8 775.7,460.7 776.2,461.2 C776.8,461.8 777.3,461.8 777.9,462.1 C778.4,462.3 778.9,462.6 779.5,462.9 C780.0,463.1 780.5,463.4 781.1,463.7 C781.6,463.9 782.1,464.2 782.7,464.5 C783.2,464.7 783.8,465.0 784.3,465.3 C784.8,465.6 785.4,465.8 785.9,466.1 C786.4,466.4 787.0,466.6 787.5,466.9 C788.0,467.2 788.6,467.5 789.1,467.8 C789.7,468.1 790.2,468.5 790.8,468.8 C791.3,469.1 791.9,469.4 792.4,469.7 C793.0,470.0 793.5,470.3 794.0,470.6 C794.6,471.0 795.1,471.3 795.7,471.6 C796.2,471.9 796.8,472.2 797.3,472.5 C797.9,472.8 798.4,473.1 799.0,473.5 C799.5,473.8 800.1,474.1 800.6,474.4 C801.1,474.7 801.7,475.0 802.2,475.3 C802.8,475.6 803.3,476.0 803.9,476.3 C804.4,476.6 805.0,476.9 805.5,477.2 C806.1,477.5 806.6,477.8 807.2,478.1 C807.7,478.5 808.3,478.8 808.8,479.1 C809.4,479.4 809.9,479.7 810.5,480.0 C811.0,480.3 811.6,480.6 812.1,481.0 C812.7,481.3 813.2,481.6 813.8,481.9 C814.3,482.2 814.9,482.4 815.5,482.7 C816.0,482.9 816.6,483.2 817.2,483.4 C817.7,483.7 818.3,483.9 818.9,484.2 C819.4,484.4 820.0,484.7 820.6,485.0 C821.1,485.2 821.7,485.5 822.3,485.7 C822.8,486.0 823.4,486.2 824.0,486.5 C824.5,486.7 825.1,487.0 825.7,487.2 C826.2,487.5 826.8,487.8 827.4,488.0 C828.0,488.3 828.5,488.5 829.1,488.8 C829.7,489.0 830.2,489.3 830.8,489.5 C831.4,489.8 831.9,490.1 832.5,490.3 C833.1,490.5 833.6,490.6 834.2,490.8 C834.8,491.0 835.3,491.1 835.9,491.3 C836.5,491.5 837.0,491.7 837.6,491.8 C838.2,492.0 838.8,492.2 839.3,492.3 C839.9,492.5 840.5,492.7 841.0,492.8 C841.6,493.0 842.2,493.2 842.7,493.4 C843.3,493.5 843.9,493.7 844.4,493.9 C845.0,494.0 845.6,494.2 846.1,494.4 C846.7,494.5 847.3,494.7 847.8,494.9 C848.4,495.1 849.0,495.2 849.5,495.4 C850.1,495.6 850.7,495.8 851.2,495.9 C851.8,496.0 852.4,496.1 853.0,496.2 C853.5,496.3 854.1,496.4 854.7,496.5 C855.2,496.6 855.8,496.7 856.4,496.8 C856.9,496.9 857.5,497.0 858.1,497.1 C858.6,497.2 859.2,497.3 859.8,497.4 C860.3,497.5 860.9,497.5 861.5,497.6 C862.0,497.7 862.6,497.8 863.2,497.9 C863.8,498.0 864.3,498.1 864.9,498.2 C865.5,498.3 866.0,498.4 866.6,498.5 C867.2,498.6 867.7,498.7 868.3,498.8 C868.9,498.9 869.4,499.0 870.0,499.1 C870.6,499.2 871.1,499.2 871.7,499.3 C872.2,499.3 872.8,499.4 873.3,499.4 C873.9,499.5 874.4,499.5 875.0,499.6 C875.6,499.7 876.1,499.7 876.7,499.8 C877.2,499.8 877.8,499.9 878.3,499.9 C878.9,500.0 879.4,500.0 880.0,500.1 C880.6,500.2 881.1,500.2 881.7,500.3 C882.2,500.3 882.8,500.4 883.3,500.4 C883.9,500.5 884.5,500.6 885.0,500.6 C885.5,500.6 886.1,500.6 886.6,500.7 C887.1,500.7 887.7,500.7 888.2,500.7 C888.8,500.8 889.3,500.8 889.8,500.8 C890.4,500.8 890.9,500.8 891.4,500.9 C892.0,500.9 892.5,500.9 893.1,500.9 C893.6,500.9 894.1,501.0 894.7,501.0 C895.2,501.0 895.7,501.0 896.3,501.1 C896.8,501.1 897.4,501.1 897.9,501.1 C898.4,501.1 899.0,501.2 899.5,501.2 C900.0,501.2 900.6,501.2 901.1,501.3 C901.7,501.3 902.2,501.3 902.7,501.3 C903.3,501.3 903.8,501.4 904.3,501.4 C904.9,501.4 905.4,501.4 906.0,501.5 C906.5,501.5 907.0,501.5 907.6,501.5 C908.1,501.5 908.6,501.6 909.2,501.6 C909.7,501.6 910.2,501.6 910.8,501.6 C911.3,501.7 911.9,501.7 912.4,501.7 C912.9,501.7 913.5,501.8 914.0,501.8 C914.5,501.8 915.1,501.8 915.6,501.8 C916.2,501.9 916.7,501.9 917.2,501.9 C917.8,501.9 918.3,502.0 918.8,502.0 C919.4,502.0 919.9,502.0 920.5,502.0 C921.0,502.1 921.5,502.1 922.1,502.1 C922.6,502.1 923.1,502.1 923.7,502.2 C924.2,502.2 924.8,502.2 925.3,502.2 C925.8,502.3 926.4,502.3 926.9,502.3 C927.4,502.3 928.0,502.3 928.5,502.3 C929.1,502.3 929.6,502.3 930.1,502.3 C930.7,502.2 931.2,502.2 931.7,502.2 C932.3,502.2 932.8,502.2 933.4,502.2 C933.9,502.2 934.4,502.2 935.0,502.2 C935.5,502.2 936.1,502.2 936.6,502.2 C937.1,502.1 937.7,502.1 938.2,502.1 C938.7,502.1 939.3,502.1 939.8,502.1 C940.4,502.1 940.9,502.1 941.4,502.1 C942.0,502.1 942.5,502.1 943.1,502.1 C943.6,502.1 944.1,502.0 944.7,502.0 C945.2,502.0 945.7,502.0 946.3,502.0 C946.8,502.0 947.4,502.0 947.9,502.0 C948.4,502.0 949.0,502.0 949.5,502.0 C950.1,502.0 950.6,501.9 951.1,501.9 C951.7,501.9 952.2,501.9 952.7,501.9 C953.3,501.9 953.8,501.9 954.4,501.9 C954.9,501.9 955.4,501.9 956.0,501.9 C956.5,501.9 957.1,501.8 957.6,501.8 C958.1,501.8 958.7,501.8 959.2,501.8 C959.7,501.8 960.3,501.8 960.8,501.8 C961.4,501.8 961.9,501.8 962.4,501.8 C963.0,501.8 963.5,501.8 964.1,501.7 C964.6,501.7 965.1,501.7 965.7,501.7 C966.2,501.7 966.7,501.7 967.3,501.7 C967.8,501.7 968.4,501.7 968.9,501.7 C969.4,501.7 970.0,501.7 970.5,501.6 C971.1,501.6 971.6,501.6 972.1,501.6 C972.7,501.6 973.2,501.6 973.8,501.6 C974.3,501.6 974.9,501.5 975.4,501.4 C976.0,501.4 976.5,501.3 977.1,501.3 C977.7,501.2 978.2,501.1 978.8,501.1 C979.3,501.0 979.9,501.0 980.5,500.9 C981.0,500.9 981.6,500.8 982.1,500.7 C982.7,500.7 983.2,500.6 983.8,500.6 C984.4,500.5 984.9,500.5 985.5,500.4 C986.0,500.3 986.6,500.3 987.1,500.2 C987.7,500.2 988.3,500.1 988.8,500.1 C989.4,500.0 989.9,499.9 990.5,499.9 C991.1,499.8 991.6,499.8 992.2,499.7 C992.7,499.7 993.3,499.6 993.9,499.5 C994.4,499.5 995.0,499.4 995.5,499.4 C996.1,499.3 996.6,499.4 997.2,499.2 C997.8,499.0 998.4,498.7 998.9,498.4 C999.5,498.2 1000.1,497.9 1000.7,497.6 C1001.2,497.4 1001.8,497.1 1002.4,496.9 C1003.0,496.6 1003.6,496.3 1004.1,496.1 C1004.7,495.8 1005.3,495.6 1005.9,495.3 C1006.4,495.1 1007.0,494.8 1007.6,494.5 C1008.2,494.3 1008.8,494.0 1009.3,493.8 C1009.9,493.5 1010.5,493.2 1011.1,493.0 C1011.6,492.7 1012.2,492.6 1012.8,492.2 C1013.4,491.8 1014.0,491.0 1014.6,490.4 C1015.2,489.8 1015.8,489.2 1016.4,488.6 C1017.1,487.9 1017.7,487.3 1018.3,486.7 C1018.9,486.1 1019.5,485.5 1020.1,484.9 C1020.7,484.3 1021.3,483.7 1021.9,483.1 C1022.5,482.5 1023.1,481.9 1023.8,481.2 C1024.4,480.6 1025.1,479.7 1025.7,478.9 C1026.4,478.1 1027.0,477.4 1027.7,476.6 C1028.3,475.8 1029.0,475.0 1029.6,474.2 C1030.3,473.5 1031.0,472.5 1031.6,471.9 C1032.2,471.3 1032.8,471.1 1033.5,470.6 C1034.1,470.2 1034.7,469.8 1035.3,469.4 C1035.9,469.0 1036.6,468.5 1037.2,468.1 C1037.8,467.7 1038.4,467.3 1039.0,466.9 C1039.7,466.4 1040.3,466.3 1040.9,465.6 C1041.5,464.9 1042.2,463.8 1042.9,462.9 C1043.5,462.0 1044.2,461.1 1044.8,460.1 C1045.5,459.2 1046.1,458.3 1046.8,457.4 C1047.4,456.5 1048.0,456.2 1048.8,454.7 C1049.5,453.2 1050.3,450.5 1051.1,448.4 C1051.9,446.4 1052.5,446.4 1053.4,442.2 C1054.3,438.0 1055.8,428.7 1056.6,423.4 C1057.4,418.1 1057.3,421.0 1058.1,410.5 C1058.8,400.0 1060.3,372.7 1061.1,360.3 C1061.9,347.9 1062.4,334.5 1063.1,336.2 C1063.8,337.9 1064.4,356.2 1065.1,370.3 C1065.8,384.4 1066.5,413.1 1067.1,420.5 C1067.7,427.9 1068.2,416.7 1068.8,414.5 C1069.3,412.3 1069.9,409.8 1070.4,407.3 C1071.0,404.9 1071.5,402.2 1072.1,399.8 C1072.7,397.4 1073.2,394.0 1073.8,393.1 C1074.4,392.3 1074.9,395.9 1075.5,394.6 C1076.1,393.2 1076.6,385.9 1077.2,385.2 C1077.8,384.5 1078.3,389.0 1078.9,390.3 C1079.4,391.6 1080.0,392.1 1080.5,392.9 C1081.1,393.8 1081.6,393.6 1082.2,395.2 C1082.8,396.9 1083.5,401.1 1084.2,402.7 C1084.9,404.4 1085.5,403.8 1086.2,405.2 C1086.9,406.7 1087.5,410.2 1088.2,411.3 C1088.9,412.5 1089.5,411.4 1090.2,412.1 C1090.9,412.9 1091.5,415.6 1092.2,415.9 C1092.9,416.2 1093.5,416.5 1094.2,413.9 C1094.9,411.2 1095.5,404.2 1096.2,400.0 C1096.9,395.8 1097.5,387.5 1098.2,388.9 C1098.9,390.3 1099.6,404.0 1100.2,408.7 C1100.9,413.4 1101.7,415.1 1102.3,417.2 C1102.9,419.2 1103.4,420.5 1103.9,420.8 C1104.4,421.2 1105.0,420.7 1105.5,419.3 C1106.0,417.9 1106.6,412.6 1107.1,412.5 C1107.6,412.4 1108.2,419.0 1108.7,418.5 C1109.2,418.1 1109.8,409.7 1110.3,409.8 C1110.8,409.9 1111.4,417.5 1112.0,419.2 C1112.5,420.8 1113.1,420.7 1113.6,419.9 C1114.2,419.2 1114.7,414.5 1115.3,414.7 C1115.9,414.8 1116.4,419.6 1117.0,420.8 C1117.5,422.0 1118.1,422.5 1118.6,421.8 C1119.2,421.2 1119.7,416.6 1120.3,416.8 C1120.9,416.9 1121.4,422.7 1122.0,422.9 C1122.5,423.1 1123.1,417.5 1123.7,418.1 C1124.2,418.7 1124.8,425.5 1125.3,426.7 C1125.9,427.9 1126.5,424.8 1127.0,425.1 C1127.6,425.5 1128.2,429.5 1128.7,428.7 C1129.3,427.9 1129.8,421.0 1130.4,420.1 C1131.0,419.3 1131.5,422.5 1132.1,423.8 C1132.6,425.1 1133.2,427.0 1133.7,427.8 C1134.3,428.6 1134.8,429.1 1135.4,428.7 C1136.0,428.3 1136.5,424.6 1137.1,425.4 C1137.6,426.2 1138.2,432.0 1138.7,433.5 C1139.3,434.9 1139.8,435.3 1140.4,434.1 C1141.0,432.8 1141.5,428.0 1142.1,425.9 C1142.6,423.9 1143.2,422.0 1143.8,421.7 C1144.3,421.4 1144.9,424.7 1145.5,424.2 C1146.0,423.8 1146.6,419.8 1147.1,418.9 C1147.7,418.0 1148.3,419.6 1148.8,418.8 C1149.4,418.1 1149.9,415.4 1150.5,414.4 C1151.1,413.4 1151.6,413.8 1152.2,412.8 C1152.7,411.8 1153.3,409.0 1153.8,408.4 C1154.4,407.7 1154.9,408.3 1155.5,408.8 C1156.1,409.4 1156.6,410.7 1157.2,411.4 C1157.7,412.2 1158.3,413.7 1158.8,413.4 C1159.4,413.2 1160.0,410.1 1160.5,409.8 C1161.0,409.4 1161.6,411.7 1162.1,411.3 C1162.6,411.0 1163.2,408.0 1163.7,407.7 C1164.2,407.4 1164.8,409.8 1165.3,409.5 C1165.8,409.2 1166.4,407.1 1166.9,405.7 C1167.4,404.2 1167.9,403.3 1168.5,400.7 C1169.1,398.1 1169.9,393.5 1170.5,390.2 C1171.2,386.9 1171.9,383.8 1172.6,380.8 C1173.2,377.7 1173.9,371.1 1174.6,371.8 C1175.3,372.5 1175.9,382.0 1176.6,385.0 C1177.3,388.1 1178.3,389.3 1178.6,390.1" fill="none" stroke="#e20000" stroke-width="4.6" stroke-linejoin="round" stroke-linecap="round"  />
<path d="M648.0,508.5 C648.4,508.5 649.8,508.4 650.7,508.4 C651.5,508.4 652.4,508.3 653.3,508.3 C654.2,508.3 655.1,508.2 656.0,508.2 C656.8,508.2 657.7,508.1 658.6,508.1 C659.5,508.1 660.4,508.0 661.3,508.0 C662.2,508.0 663.0,507.9 663.9,507.9 C664.8,507.9 665.7,507.8 666.6,507.8 C667.5,507.8 668.3,507.7 669.2,507.7 C670.1,507.7 671.0,507.6 671.9,507.6 C672.8,507.6 673.7,507.5 674.5,507.5 C675.4,507.5 676.3,507.4 677.2,507.4 C678.1,507.4 679.0,507.3 679.8,507.3 C680.7,507.3 681.6,507.4 682.5,507.2 C683.4,507.0 684.4,506.6 685.3,506.2 C686.2,505.9 687.2,505.6 688.1,505.3 C689.1,505.0 690.0,504.7 690.9,504.3 C691.9,504.0 692.8,504.1 693.8,503.4 C694.7,502.7 695.6,501.2 696.6,500.1 C697.5,499.1 698.1,499.6 699.4,496.9 C700.7,494.2 702.7,489.7 704.1,483.8 C705.5,477.8 706.7,468.4 707.8,461.2 C708.9,454.1 709.7,445.0 710.6,440.6 C711.5,436.2 712.5,434.4 713.4,435.0 C714.3,435.6 715.1,442.0 716.2,444.4 C717.4,446.8 718.8,449.4 720.0,449.1 C721.2,448.8 722.5,446.1 723.8,442.5 C725.0,438.9 726.2,430.9 727.5,427.5 C728.8,424.1 729.9,423.1 731.2,421.9 C732.6,420.6 734.5,419.4 735.9,420.0 C737.3,420.6 738.5,423.1 739.7,425.6 C741.0,428.1 742.2,432.5 743.4,435.0 C744.6,437.5 745.6,438.8 746.7,440.6 C747.8,442.5 749.0,444.6 750.0,446.2 C751.0,447.9 751.7,449.2 752.5,450.6 C753.3,452.1 754.2,453.6 755.0,455.0 C755.8,456.5 756.7,458.0 757.5,459.4 C758.3,460.8 759.2,461.9 760.0,463.1 C760.8,464.4 761.7,465.6 762.5,466.9 C763.3,468.1 764.1,469.5 765.0,470.6 C765.9,471.7 766.9,472.5 767.8,473.4 C768.8,474.4 769.7,475.3 770.6,476.2 C771.6,477.2 772.5,478.1 773.4,479.1 C774.4,480.0 775.3,481.0 776.2,481.9 C777.2,482.8 778.1,483.5 779.1,484.2 C780.0,485.0 780.9,485.8 781.9,486.6 C782.8,487.4 783.8,488.1 784.7,488.9 C785.6,489.7 786.6,490.7 787.5,491.2 C788.4,491.8 789.4,492.0 790.3,492.3 C791.3,492.7 792.2,493.1 793.1,493.4 C794.1,493.8 795.0,494.2 796.0,494.5 C796.9,494.9 797.8,495.3 798.8,495.6 C799.7,496.0 800.6,496.3 801.6,496.7 C802.5,497.1 803.5,497.5 804.4,497.8 C805.3,498.1 806.2,498.2 807.1,498.5 C808.0,498.7 808.9,498.9 809.7,499.1 C810.6,499.4 811.5,499.6 812.4,499.8 C813.3,500.0 814.2,500.3 815.1,500.5 C816.0,500.7 816.9,500.9 817.8,501.2 C818.6,501.4 819.5,501.6 820.4,501.8 C821.3,502.1 822.2,502.3 823.1,502.5 C824.0,502.7 824.8,502.7 825.7,502.8 C826.5,502.8 827.4,502.9 828.2,503.0 C829.1,503.1 829.9,503.2 830.8,503.3 C831.6,503.3 832.5,503.4 833.3,503.5 C834.2,503.6 835.0,503.7 835.9,503.8 C836.7,503.9 837.6,503.9 838.5,504.0 C839.3,504.1 840.2,504.2 841.0,504.3 C841.9,504.4 842.7,504.5 843.6,504.5 C844.4,504.6 845.3,504.7 846.1,504.8 C847.0,504.9 847.8,505.0 848.7,505.0 C849.5,505.1 850.4,505.2 851.2,505.3 C852.1,505.4 853.0,505.3 853.8,505.4 C854.7,505.4 855.6,505.4 856.4,505.4 C857.3,505.5 858.2,505.5 859.0,505.5 C859.9,505.5 860.8,505.6 861.6,505.6 C862.5,505.6 863.4,505.6 864.2,505.7 C865.1,505.7 866.0,505.7 866.8,505.7 C867.7,505.8 868.6,505.8 869.4,505.8 C870.3,505.8 871.2,505.9 872.0,505.9 C872.9,505.9 873.8,505.9 874.6,506.0 C875.5,506.0 876.3,506.0 877.2,506.0 C878.1,506.1 878.9,506.1 879.8,506.1 C880.7,506.1 881.5,506.2 882.4,506.2 C883.3,506.2 884.1,506.3 885.0,506.2 C885.9,506.2 886.7,506.2 887.6,506.2 C888.5,506.1 889.4,506.1 890.2,506.1 C891.1,506.1 892.0,506.0 892.9,506.0 C893.7,506.0 894.6,506.0 895.5,505.9 C896.3,505.9 897.2,505.9 898.1,505.9 C899.0,505.8 899.8,505.8 900.7,505.8 C901.6,505.8 902.5,505.7 903.3,505.7 C904.2,505.7 905.1,505.7 906.0,505.6 C906.8,505.6 907.7,505.6 908.6,505.5 C909.4,505.5 910.3,505.5 911.2,505.5 C912.1,505.4 912.9,505.4 913.8,505.4 C914.7,505.4 915.6,505.3 916.4,505.3 C917.3,505.3 918.2,505.3 919.0,505.2 C919.9,505.2 920.8,505.2 921.7,505.2 C922.5,505.1 923.4,505.1 924.3,505.1 C925.2,505.1 926.0,505.0 926.9,505.0 C927.8,505.0 928.6,505.0 929.5,504.9 C930.4,504.9 931.2,504.9 932.1,504.9 C933.0,504.9 933.8,504.8 934.7,504.8 C935.6,504.8 936.4,504.8 937.3,504.8 C938.2,504.7 939.0,504.7 939.9,504.7 C940.8,504.7 941.6,504.7 942.5,504.6 C943.4,504.6 944.3,504.6 945.1,504.6 C946.0,504.6 946.9,504.5 947.7,504.5 C948.6,504.5 949.5,504.5 950.3,504.4 C951.2,504.4 952.1,504.4 952.9,504.4 C953.8,504.4 954.7,504.3 955.5,504.3 C956.4,504.3 957.3,504.3 958.1,504.3 C959.0,504.2 959.9,504.2 960.7,504.2 C961.6,504.2 962.5,504.2 963.3,504.1 C964.2,504.1 965.1,504.1 965.9,504.1 C966.8,504.1 967.7,504.0 968.5,504.0 C969.4,504.0 970.3,504.0 971.1,504.0 C972.0,503.9 972.9,503.9 973.8,503.9 C974.6,503.9 975.5,503.8 976.4,503.7 C977.2,503.6 978.1,503.6 979.0,503.5 C979.8,503.5 980.7,503.4 981.6,503.3 C982.4,503.3 983.3,503.2 984.2,503.1 C985.0,503.1 985.9,503.0 986.8,502.9 C987.6,502.9 988.5,502.8 989.4,502.8 C990.2,502.7 991.1,502.6 992.0,502.6 C992.8,502.5 993.7,502.4 994.6,502.4 C995.5,502.3 996.3,502.2 997.2,502.2 C998.1,502.1 998.9,502.0 999.8,502.0 C1000.7,501.9 1001.5,501.9 1002.4,501.8 C1003.3,501.7 1004.1,501.7 1005.0,501.6 C1005.9,501.5 1006.7,501.2 1007.6,501.0 C1008.5,500.8 1009.3,500.6 1010.2,500.4 C1011.1,500.2 1011.9,500.0 1012.8,499.8 C1013.7,499.6 1014.5,499.4 1015.4,499.2 C1016.3,499.0 1017.1,498.7 1018.0,498.5 C1018.9,498.3 1019.7,498.1 1020.6,497.9 C1021.5,497.7 1022.3,497.5 1023.2,497.3 C1024.1,497.1 1024.9,496.9 1025.8,496.7 C1026.7,496.5 1027.5,496.4 1028.4,496.1 C1029.3,495.8 1030.1,495.3 1031.0,494.9 C1031.9,494.5 1032.7,494.1 1033.6,493.7 C1034.5,493.3 1035.3,492.9 1036.2,492.6 C1037.1,492.2 1037.9,491.8 1038.8,491.4 C1039.7,491.0 1040.5,490.6 1041.4,490.2 C1042.3,489.8 1043.1,489.6 1044.0,489.0 C1044.9,488.4 1045.8,487.4 1046.8,486.7 C1047.7,485.9 1048.6,485.1 1049.5,484.4 C1050.4,483.6 1051.3,482.8 1052.2,482.0 C1053.2,481.2 1054.0,481.1 1055.0,479.7 C1056.0,478.3 1057.1,475.5 1058.1,473.4 C1059.2,471.4 1059.9,471.1 1061.2,467.2 C1062.6,463.3 1064.6,456.0 1066.0,450.0 C1067.4,444.0 1068.5,438.0 1069.8,431.2 C1071.1,424.5 1072.5,414.9 1073.8,409.4 C1075.0,403.9 1076.2,399.8 1077.2,398.5 C1078.2,397.2 1078.9,400.5 1079.7,401.5 C1080.5,402.5 1081.1,399.6 1082.2,404.5 C1083.3,409.4 1084.9,422.6 1086.2,430.6 C1087.5,438.6 1088.9,452.7 1090.2,452.7 C1091.5,452.7 1093.0,436.6 1094.2,430.6 C1095.4,424.6 1096.2,421.1 1097.2,416.6 C1098.3,412.0 1099.3,406.8 1100.3,403.3 C1101.3,399.8 1102.1,397.3 1103.0,395.6 C1103.9,393.9 1104.7,394.2 1105.6,393.1 C1106.5,391.9 1107.4,388.6 1108.3,388.7 C1109.2,388.9 1110.1,392.7 1111.0,393.8 C1111.9,394.9 1112.7,394.6 1113.6,395.5 C1114.5,396.3 1115.4,398.8 1116.3,398.8 C1117.2,398.8 1118.0,395.4 1118.8,395.4 C1119.7,395.5 1120.5,398.5 1121.3,399.0 C1122.2,399.4 1123.0,397.8 1123.9,398.2 C1124.7,398.5 1125.6,399.9 1126.4,400.8 C1127.2,401.7 1128.1,403.4 1128.9,403.5 C1129.7,403.7 1130.6,401.6 1131.4,401.7 C1132.2,401.7 1133.1,402.7 1133.9,403.7 C1134.7,404.6 1135.5,407.3 1136.4,407.4 C1137.3,407.5 1138.4,405.5 1139.4,404.2 C1140.4,403.0 1141.4,400.6 1142.5,399.8 C1143.5,399.0 1144.5,399.7 1145.5,399.5 C1146.5,399.2 1147.5,399.2 1148.5,398.3 C1149.5,397.3 1150.5,393.8 1151.5,394.0 C1152.5,394.1 1153.5,398.4 1154.5,399.3 C1155.5,400.2 1156.5,399.5 1157.5,399.2 C1158.5,398.9 1159.6,398.2 1160.5,397.5 C1161.4,396.9 1162.2,395.1 1163.0,395.4 C1163.8,395.7 1164.7,399.4 1165.5,399.2 C1166.3,399.0 1167.2,395.7 1168.0,394.4 C1168.8,393.2 1169.6,392.9 1170.5,392.0 C1171.4,391.0 1172.3,389.0 1173.2,388.6 C1174.1,388.3 1175.0,390.4 1175.9,389.8 C1176.8,389.2 1178.1,385.8 1178.6,385.0" fill="none" stroke="#0000d8" stroke-width="4.6" stroke-linejoin="round" stroke-linecap="round"  />
<path d="M103.0,774.5 C110.3,774.5 133.7,774.8 146.9,774.5 C160.1,774.2 172.2,773.5 182.0,772.6 C191.8,771.7 198.8,770.9 205.5,769.1 C212.2,767.4 216.8,764.1 221.9,762.1 C227.0,760.1 230.8,758.4 235.9,757.4 C241.0,756.4 246.8,756.0 252.3,756.2 C257.8,756.5 262.9,757.5 268.8,758.6 C274.6,759.7 280.5,761.5 287.5,762.8 C294.5,764.0 305.0,765.4 310.9,766.1 C316.8,766.8 318.7,766.5 322.6,766.8 C326.5,767.1 328.5,767.6 334.4,768.0 C340.3,768.4 348.5,768.9 357.8,769.0 C367.1,769.1 378.7,769.5 390.0,768.4 C401.3,767.2 416.8,764.0 425.7,762.1 C434.6,760.2 437.7,759.2 443.6,756.8 C449.6,754.4 456.6,751.2 461.4,747.9 C466.1,744.6 468.8,741.0 472.1,737.1 C475.4,733.2 478.1,730.0 481.1,724.6 C484.1,719.2 487.7,712.6 490.0,705.0 C492.3,697.4 493.5,688.8 495.0,678.8 C496.5,668.8 497.9,655.1 499.2,645.3 C500.5,635.5 501.6,628.3 502.6,620.2 C503.6,612.1 504.4,602.2 505.1,596.8 C505.8,591.4 506.0,586.5 506.7,587.6 C507.4,588.7 508.6,597.2 509.3,603.5 C510.0,609.8 510.3,617.4 510.9,625.2 C511.4,633.0 511.9,642.9 512.6,650.4 C513.3,657.9 513.9,665.8 515.1,670.5 C516.4,675.2 518.2,676.8 520.1,678.8 C522.0,680.8 524.0,681.1 526.8,682.2 C529.6,683.3 533.5,684.7 536.9,685.5 C540.2,686.3 543.5,687.5 546.9,687.2 C550.2,686.9 553.4,684.6 557.0,683.8 C560.6,683.0 564.5,683.0 568.7,682.2 C572.9,681.4 577.9,680.2 582.1,678.8 C586.3,677.4 589.6,675.8 593.8,673.8 C598.0,671.8 603.3,669.3 607.2,667.1 C611.1,664.9 613.9,661.8 617.2,660.4 C620.6,659.0 624.4,659.0 627.3,658.7 C630.2,658.4 633.3,658.7 634.5,658.7" fill="none" stroke="#000" stroke-width="4.6" stroke-linejoin="round" stroke-linecap="round" stroke-dasharray="9.6 8.2" />
<path d="M103.0,774.5 C103.3,774.5 104.2,774.5 104.8,774.5 C105.4,774.5 106.0,774.5 106.7,774.5 C107.3,774.5 107.9,774.5 108.5,774.5 C109.1,774.5 109.7,774.5 110.3,774.5 C110.9,774.5 111.5,774.5 112.1,774.5 C112.8,774.5 113.4,774.5 114.0,774.5 C114.6,774.5 115.2,774.5 115.8,774.5 C116.4,774.5 117.0,774.5 117.6,774.5 C118.2,774.5 118.9,774.5 119.5,774.5 C120.1,774.5 120.7,774.5 121.3,774.5 C121.9,774.5 122.5,774.5 123.1,774.5 C123.7,774.5 124.3,774.5 125.0,774.5 C125.6,774.5 126.2,774.5 126.8,774.5 C127.4,774.5 128.0,774.5 128.6,774.5 C129.2,774.5 129.8,774.5 130.4,774.5 C131.0,774.5 131.7,774.5 132.3,774.5 C132.9,774.5 133.5,774.5 134.1,774.5 C134.7,774.5 135.3,774.5 135.9,774.5 C136.5,774.5 137.1,774.5 137.8,774.5 C138.4,774.5 139.0,774.5 139.6,774.5 C140.2,774.5 140.8,774.5 141.4,774.5 C142.0,774.5 142.6,774.5 143.2,774.5 C143.9,774.5 144.5,774.5 145.1,774.5 C145.7,774.5 146.3,774.5 146.9,774.5 C147.5,774.5 148.1,774.4 148.7,774.4 C149.4,774.4 150.0,774.3 150.6,774.3 C151.2,774.3 151.8,774.2 152.4,774.2 C153.1,774.2 153.7,774.1 154.3,774.1 C154.9,774.1 155.5,774.0 156.1,774.0 C156.8,774.0 157.4,773.9 158.0,773.9 C158.6,773.9 159.2,773.8 159.8,773.8 C160.4,773.8 161.1,773.7 161.7,773.7 C162.3,773.7 162.9,773.6 163.5,773.6 C164.1,773.6 164.8,773.5 165.4,773.5 C166.0,773.5 166.6,773.4 167.2,773.4 C167.8,773.4 168.5,773.3 169.1,773.3 C169.7,773.3 170.3,773.2 170.9,773.2 C171.5,773.2 172.1,773.1 172.8,773.1 C173.4,773.1 174.0,773.0 174.6,773.0 C175.2,773.0 175.8,772.9 176.5,772.9 C177.1,772.9 177.7,772.8 178.3,772.8 C178.9,772.8 179.5,772.7 180.2,772.7 C180.8,772.7 181.4,772.7 182.0,772.6 C182.6,772.5 183.2,772.4 183.8,772.3 C184.4,772.2 185.0,772.2 185.6,772.1 C186.2,772.0 186.8,771.9 187.4,771.8 C188.0,771.7 188.6,771.6 189.2,771.5 C189.8,771.4 190.4,771.3 191.0,771.3 C191.6,771.2 192.2,771.1 192.8,771.0 C193.4,770.9 194.1,770.8 194.7,770.7 C195.3,770.6 195.9,770.5 196.5,770.4 C197.1,770.4 197.7,770.3 198.3,770.2 C198.9,770.1 199.5,770.0 200.1,769.9 C200.7,769.8 201.3,769.7 201.9,769.6 C202.5,769.5 203.1,769.5 203.7,769.4 C204.3,769.3 204.9,769.3 205.5,769.1 C206.1,768.9 206.7,768.6 207.3,768.3 C207.9,768.1 208.5,767.8 209.1,767.5 C209.8,767.3 210.4,767.0 211.0,766.8 C211.6,766.5 212.2,766.2 212.8,766.0 C213.4,765.7 214.0,765.5 214.6,765.2 C215.2,765.0 215.8,764.7 216.4,764.4 C217.0,764.2 217.6,763.9 218.3,763.7 C218.9,763.4 219.5,763.1 220.1,762.9 C220.7,762.6 221.3,762.3 221.9,762.1 C222.5,761.9 223.2,761.7 223.9,761.4 C224.6,761.2 225.2,761.0 225.9,760.8 C226.6,760.5 227.2,760.3 227.9,760.1 C228.6,759.9 229.2,759.6 229.9,759.4 C230.6,759.2 231.2,759.0 231.9,758.7 C232.6,758.5 233.2,758.3 233.9,758.1 C234.6,757.8 235.3,757.5 235.9,757.4 C236.5,757.3 237.1,757.3 237.7,757.3 C238.3,757.2 238.9,757.2 239.5,757.1 C240.2,757.1 240.8,757.1 241.4,757.0 C242.0,757.0 242.6,756.9 243.2,756.9 C243.8,756.8 244.4,756.8 245.0,756.8 C245.6,756.7 246.2,756.7 246.8,756.6 C247.4,756.6 248.0,756.5 248.7,756.5 C249.3,756.5 249.9,756.4 250.5,756.4 C251.1,756.3 251.7,756.2 252.3,756.2 C252.9,756.3 253.5,756.4 254.1,756.5 C254.7,756.6 255.3,756.7 256.0,756.8 C256.6,756.9 257.2,756.9 257.8,757.0 C258.4,757.1 259.0,757.2 259.6,757.3 C260.2,757.4 260.8,757.5 261.4,757.6 C262.0,757.6 262.7,757.7 263.3,757.8 C263.9,757.9 264.5,758.0 265.1,758.1 C265.7,758.2 266.3,758.3 266.9,758.3 C267.5,758.4 268.1,758.5 268.8,758.6 C269.4,758.7 270.0,758.9 270.6,759.0 C271.2,759.2 271.9,759.3 272.5,759.4 C273.1,759.6 273.8,759.7 274.4,759.9 C275.0,760.0 275.6,760.1 276.2,760.3 C276.9,760.4 277.5,760.6 278.1,760.7 C278.8,760.8 279.4,761.0 280.0,761.1 C280.6,761.3 281.2,761.4 281.9,761.5 C282.5,761.7 283.1,761.8 283.8,762.0 C284.4,762.1 285.0,762.2 285.6,762.4 C286.2,762.5 286.9,762.7 287.5,762.8 C288.1,762.9 288.8,763.0 289.4,763.1 C290.1,763.2 290.8,763.3 291.4,763.3 C292.0,763.4 292.7,763.5 293.4,763.6 C294.0,763.7 294.7,763.8 295.3,763.9 C295.9,764.0 296.6,764.1 297.2,764.2 C297.9,764.3 298.6,764.4 299.2,764.5 C299.8,764.5 300.5,764.6 301.1,764.7 C301.8,764.8 302.4,764.9 303.1,765.0 C303.7,765.1 304.4,765.2 305.0,765.3 C305.7,765.4 306.4,765.5 307.0,765.5 C307.6,765.6 308.3,765.7 308.9,765.8 C309.6,765.9 310.2,766.0 310.9,766.1 C311.5,766.2 312.2,766.2 312.8,766.2 C313.5,766.3 314.1,766.3 314.8,766.3 C315.5,766.4 316.1,766.4 316.8,766.5 C317.4,766.5 318.0,766.5 318.7,766.6 C319.4,766.6 320.0,766.6 320.7,766.7 C321.3,766.7 321.9,766.8 322.6,766.8 C323.3,766.8 323.9,766.5 324.6,766.4 C325.2,766.3 325.9,766.1 326.5,766.0 C327.2,765.9 327.8,765.7 328.5,765.6 C329.2,765.5 329.8,765.3 330.5,765.2 C331.1,765.1 331.8,764.9 332.4,764.8 C333.1,764.7 333.8,764.6 334.4,764.4 C335.0,764.2 335.6,764.0 336.2,763.8 C336.8,763.6 337.4,763.4 338.0,763.1 C338.6,762.9 339.2,762.7 339.8,762.5 C340.4,762.3 341.0,762.1 341.6,761.9 C342.2,761.7 342.8,761.5 343.4,761.3 C344.0,761.1 344.6,760.8 345.2,760.6 C345.8,760.4 346.4,760.2 347.0,760.0 C347.6,759.8 348.2,759.6 348.8,759.4 C349.4,759.2 350.0,759.0 350.6,758.8 C351.2,758.5 351.8,758.3 352.4,758.1 C353.0,757.9 353.6,757.7 354.2,757.5 C354.8,757.3 355.4,757.1 356.0,756.9 C356.6,756.7 357.2,756.4 357.8,756.2 C358.4,756.1 359.0,755.9 359.6,755.7 C360.2,755.5 360.8,755.3 361.4,755.2 C362.0,755.0 362.6,754.8 363.2,754.6 C363.8,754.4 364.4,754.3 365.0,754.1 C365.6,753.9 366.2,753.7 366.8,753.5 C367.4,753.4 368.0,753.2 368.6,753.0 C369.2,752.8 369.8,752.6 370.4,752.5 C371.0,752.3 371.6,752.1 372.2,751.9 C372.8,751.7 373.4,751.6 374.0,751.4 C374.6,751.2 375.2,751.0 375.8,750.8 C376.4,750.6 377.0,750.5 377.6,750.3 C378.2,750.1 378.8,749.9 379.4,749.7 C380.0,749.6 380.6,749.3 381.2,749.2 C381.9,749.1 382.7,749.0 383.4,748.9 C384.2,748.8 384.9,748.7 385.6,748.5 C386.4,748.4 387.1,748.3 387.8,748.2 C388.5,748.1 389.3,748.2 390.0,747.9 C390.7,747.6 391.4,746.9 392.1,746.5 C392.9,746.0 393.6,745.5 394.3,745.0 C395.0,744.5 395.7,744.1 396.4,743.6 C397.1,743.1 397.8,742.6 398.6,742.1 C399.3,741.7 400.0,741.3 400.7,740.7 C401.4,740.1 402.2,739.2 402.9,738.5 C403.7,737.7 404.4,737.0 405.1,736.2 C405.9,735.5 406.6,734.8 407.4,734.0 C408.1,733.3 408.8,732.9 409.6,731.8 C410.4,730.7 411.2,729.0 412.0,727.6 C412.8,726.2 413.6,724.9 414.4,723.5 C415.2,722.1 416.0,721.2 416.8,719.3 C417.6,717.4 418.6,714.5 419.5,712.1 C420.3,709.8 421.2,707.7 422.1,705.0 C423.0,702.3 423.9,699.0 424.8,696.0 C425.7,693.1 426.6,689.9 427.5,687.1 C428.4,684.3 429.3,681.8 430.2,679.1 C431.1,676.4 432.0,673.1 432.9,671.1 C433.8,669.1 434.7,668.4 435.5,667.0 C436.4,665.7 437.5,663.4 438.2,663.0 C438.9,662.6 439.4,664.0 440.0,664.5 C440.6,665.0 441.2,665.5 441.8,666.0 C442.4,666.5 442.9,666.1 443.6,667.5 C444.3,668.9 445.4,672.3 446.2,674.6 C447.1,677.0 448.2,679.9 448.9,681.8 C449.6,683.7 450.1,684.5 450.7,685.8 C451.3,687.2 451.9,688.5 452.5,689.8 C453.1,691.2 453.7,692.5 454.3,693.9 C454.9,695.2 455.4,696.6 456.1,697.9 C456.8,699.2 457.6,700.6 458.3,701.9 C459.1,703.2 459.8,704.6 460.6,705.9 C461.3,707.2 462.0,708.6 462.8,709.9 C463.5,711.2 464.3,712.8 465.0,713.9 C465.7,715.0 466.5,715.7 467.2,716.6 C468.0,717.5 468.7,718.4 469.4,719.2 C470.2,720.1 470.9,721.0 471.7,721.9 C472.4,722.8 473.2,724.0 473.9,724.6 C474.6,725.2 475.1,725.3 475.7,725.7 C476.3,726.0 476.9,726.4 477.5,726.8 C478.1,727.1 478.7,727.5 479.3,727.8 C479.9,728.2 480.5,728.6 481.1,728.9 C481.7,729.3 482.2,729.8 482.9,730.0 C483.6,730.2 484.3,730.1 485.0,730.2 C485.8,730.2 486.5,730.3 487.2,730.4 C487.9,730.4 488.6,730.5 489.3,730.5 C490.0,730.6 490.7,730.7 491.5,730.7 C492.2,730.8 492.9,731.1 493.6,730.9 C494.3,730.7 495.1,729.9 495.8,729.3 C496.6,728.8 497.3,728.3 498.1,727.8 C498.8,727.2 499.5,726.7 500.3,726.2 C501.0,725.6 501.8,725.3 502.5,724.6 C503.2,723.9 503.7,722.7 504.3,721.7 C504.9,720.8 505.6,719.8 506.2,718.9 C506.8,717.9 507.2,717.6 508.0,716.0 C508.8,714.4 509.8,711.4 510.7,709.1 C511.6,706.9 512.6,703.8 513.4,702.3 C514.2,700.8 514.7,700.7 515.4,699.9 C516.1,699.2 516.8,698.4 517.4,697.6 C518.1,696.8 518.8,696.0 519.5,695.2 C520.1,694.4 520.8,693.6 521.5,692.9 C522.2,692.1 522.7,691.2 523.5,690.5 C524.3,689.8 525.2,689.4 526.0,688.9 C526.8,688.3 527.7,686.6 528.5,687.2 C529.3,687.8 530.2,690.5 531.0,692.2 C531.8,693.9 532.7,696.0 533.5,697.2 C534.3,698.4 535.0,698.7 535.7,699.4 C536.5,700.2 537.2,701.2 538.0,701.7 C538.7,702.1 539.5,701.9 540.2,702.1 C540.9,702.3 541.6,703.2 542.3,702.7 C543.0,702.2 543.7,699.1 544.4,699.0 C545.1,699.0 545.8,702.7 546.5,702.4 C547.2,702.1 547.9,697.7 548.6,697.0 C549.3,696.4 550.0,697.9 550.7,698.4 C551.4,699.0 552.1,700.7 552.8,700.2 C553.5,699.8 554.2,695.9 554.9,695.7 C555.6,695.5 556.3,698.8 557.0,698.9 C557.7,698.9 558.4,696.9 559.1,695.9 C559.8,695.0 560.5,693.9 561.1,693.4 C561.8,692.8 562.5,693.1 563.2,692.7 C563.9,692.3 564.6,691.8 565.3,691.1 C566.0,690.4 566.7,688.5 567.4,688.7 C568.1,688.9 568.8,692.6 569.5,692.3 C570.2,692.1 570.9,687.6 571.6,687.4 C572.3,687.1 573.0,690.2 573.7,690.6 C574.4,691.0 575.1,690.8 575.8,689.7 C576.5,688.6 577.2,684.6 577.9,683.9 C578.6,683.2 579.3,685.0 580.0,685.5 C580.7,686.0 581.4,686.5 582.1,687.0 C582.8,687.6 583.5,689.2 584.2,688.6 C584.9,687.9 585.6,683.8 586.3,683.2 C587.0,682.7 587.7,685.5 588.4,685.5 C589.1,685.4 589.8,683.6 590.5,682.9 C591.2,682.2 592.0,682.2 592.7,681.4 C593.4,680.5 594.2,679.4 594.9,677.9 C595.6,676.4 596.2,671.7 597.1,672.3 C598.0,673.0 599.6,679.6 600.5,681.7 C601.4,683.7 601.8,684.7 602.5,684.6 C603.2,684.6 603.8,681.6 604.5,681.4 C605.2,681.1 605.8,683.5 606.5,683.2 C607.2,682.9 607.8,679.8 608.5,679.6 C609.2,679.3 609.8,681.4 610.5,681.6 C611.2,681.9 611.9,681.5 612.6,681.0 C613.3,680.4 614.0,679.2 614.7,678.6 C615.4,678.0 616.1,677.8 616.8,677.3 C617.5,676.9 618.2,677.8 618.9,676.0 C619.6,674.3 620.4,670.0 621.1,666.6 C621.9,663.3 622.6,658.1 623.4,655.9 C624.1,653.8 624.7,651.4 625.6,653.8 C626.5,656.2 628.1,668.4 629.0,670.2 C629.9,672.1 630.2,665.7 630.8,664.9 C631.4,664.1 632.1,665.9 632.7,665.6 C633.3,665.3 634.2,663.6 634.5,663.2" fill="none" stroke="#e20000" stroke-width="4.6" stroke-linejoin="round" stroke-linecap="round"  />
<path d="M103.0,774.5 C103.3,774.5 104.2,774.5 104.8,774.5 C105.4,774.5 106.0,774.5 106.7,774.5 C107.3,774.5 107.9,774.5 108.5,774.5 C109.1,774.5 109.7,774.5 110.3,774.5 C110.9,774.5 111.5,774.5 112.1,774.5 C112.8,774.5 113.4,774.5 114.0,774.5 C114.6,774.5 115.2,774.5 115.8,774.5 C116.4,774.5 117.0,774.5 117.6,774.5 C118.2,774.5 118.9,774.5 119.5,774.5 C120.1,774.5 120.7,774.5 121.3,774.5 C121.9,774.5 122.5,774.5 123.1,774.5 C123.7,774.5 124.3,774.5 125.0,774.5 C125.6,774.5 126.2,774.5 126.8,774.5 C127.4,774.5 128.0,774.5 128.6,774.5 C129.2,774.5 129.8,774.5 130.4,774.5 C131.0,774.5 131.7,774.5 132.3,774.5 C132.9,774.5 133.5,774.5 134.1,774.5 C134.7,774.5 135.3,774.5 135.9,774.5 C136.5,774.5 137.1,774.5 137.8,774.5 C138.4,774.5 139.0,774.5 139.6,774.5 C140.2,774.5 140.8,774.5 141.4,774.5 C142.0,774.5 142.6,774.5 143.2,774.5 C143.9,774.5 144.5,774.5 145.1,774.5 C145.7,774.5 146.3,774.5 146.9,774.5 C147.5,774.5 148.1,774.4 148.7,774.4 C149.4,774.4 150.0,774.3 150.6,774.3 C151.2,774.3 151.8,774.2 152.4,774.2 C153.1,774.2 153.7,774.1 154.3,774.1 C154.9,774.1 155.5,774.0 156.1,774.0 C156.8,774.0 157.4,773.9 158.0,773.9 C158.6,773.9 159.2,773.8 159.8,773.8 C160.4,773.8 161.1,773.7 161.7,773.7 C162.3,773.7 162.9,773.6 163.5,773.6 C164.1,773.6 164.8,773.5 165.4,773.5 C166.0,773.5 166.6,773.4 167.2,773.4 C167.8,773.4 168.5,773.3 169.1,773.3 C169.7,773.3 170.3,773.2 170.9,773.2 C171.5,773.2 172.1,773.1 172.8,773.1 C173.4,773.1 174.0,773.0 174.6,773.0 C175.2,773.0 175.8,772.9 176.5,772.9 C177.1,772.9 177.7,772.8 178.3,772.8 C178.9,772.8 179.5,772.7 180.2,772.7 C180.8,772.7 181.4,772.7 182.0,772.6 C182.6,772.5 183.2,772.4 183.8,772.3 C184.4,772.2 185.0,772.2 185.6,772.1 C186.2,772.0 186.8,771.9 187.4,771.8 C188.0,771.7 188.6,771.6 189.2,771.5 C189.8,771.4 190.4,771.3 191.0,771.3 C191.6,771.2 192.2,771.1 192.8,771.0 C193.4,770.9 194.1,770.8 194.7,770.7 C195.3,770.6 195.9,770.5 196.5,770.4 C197.1,770.4 197.7,770.3 198.3,770.2 C198.9,770.1 199.5,770.0 200.1,769.9 C200.7,769.8 201.3,769.7 201.9,769.6 C202.5,769.5 203.1,769.5 203.7,769.4 C204.3,769.3 204.9,769.3 205.5,769.1 C206.1,768.9 206.7,768.6 207.3,768.3 C207.9,768.1 208.5,767.8 209.1,767.5 C209.8,767.3 210.4,767.0 211.0,766.8 C211.6,766.5 212.2,766.2 212.8,766.0 C213.4,765.7 214.0,765.5 214.6,765.2 C215.2,765.0 215.8,764.7 216.4,764.4 C217.0,764.2 217.6,763.9 218.3,763.7 C218.9,763.4 219.5,763.1 220.1,762.9 C220.7,762.6 221.3,762.3 221.9,762.1 C222.5,761.9 223.2,761.7 223.9,761.4 C224.6,761.2 225.2,761.0 225.9,760.8 C226.6,760.5 227.2,760.3 227.9,760.1 C228.6,759.9 229.2,759.6 229.9,759.4 C230.6,759.2 231.2,759.0 231.9,758.7 C232.6,758.5 233.2,758.3 233.9,758.1 C234.6,757.8 235.3,757.5 235.9,757.4 C236.5,757.3 237.1,757.3 237.7,757.3 C238.3,757.2 238.9,757.2 239.5,757.1 C240.2,757.1 240.8,757.1 241.4,757.0 C242.0,757.0 242.6,756.9 243.2,756.9 C243.8,756.8 244.4,756.8 245.0,756.8 C245.6,756.7 246.2,756.7 246.8,756.6 C247.4,756.6 248.0,756.5 248.7,756.5 C249.3,756.5 249.9,756.4 250.5,756.4 C251.1,756.3 251.7,756.2 252.3,756.2 C252.9,756.3 253.5,756.4 254.1,756.5 C254.7,756.6 255.3,756.7 256.0,756.8 C256.6,756.9 257.2,756.9 257.8,757.0 C258.4,757.1 259.0,757.2 259.6,757.3 C260.2,757.4 260.8,757.5 261.4,757.6 C262.0,757.6 262.7,757.7 263.3,757.8 C263.9,757.9 264.5,758.0 265.1,758.1 C265.7,758.2 266.3,758.3 266.9,758.3 C267.5,758.4 268.1,758.5 268.8,758.6 C269.4,758.7 270.0,758.9 270.6,759.0 C271.2,759.2 271.9,759.3 272.5,759.4 C273.1,759.6 273.8,759.7 274.4,759.9 C275.0,760.0 275.6,760.1 276.2,760.3 C276.9,760.4 277.5,760.6 278.1,760.7 C278.8,760.8 279.4,761.0 280.0,761.1 C280.6,761.3 281.2,761.4 281.9,761.5 C282.5,761.7 283.1,761.8 283.8,762.0 C284.4,762.1 285.0,762.2 285.6,762.4 C286.2,762.5 286.9,762.7 287.5,762.8 C288.1,762.9 288.8,763.0 289.4,763.1 C290.1,763.2 290.8,763.3 291.4,763.3 C292.0,763.4 292.7,763.5 293.4,763.6 C294.0,763.7 294.7,763.8 295.3,763.9 C295.9,764.0 296.6,764.1 297.2,764.2 C297.9,764.3 298.6,764.4 299.2,764.5 C299.8,764.5 300.5,764.6 301.1,764.7 C301.8,764.8 302.4,764.9 303.1,765.0 C303.7,765.1 304.4,765.2 305.0,765.3 C305.7,765.4 306.4,765.5 307.0,765.5 C307.6,765.6 308.3,765.7 308.9,765.8 C309.6,765.9 310.2,766.0 310.9,766.1 C311.5,766.2 312.2,766.2 312.8,766.2 C313.5,766.3 314.1,766.3 314.8,766.3 C315.5,766.4 316.1,766.4 316.8,766.5 C317.4,766.5 318.0,766.5 318.7,766.6 C319.4,766.6 320.0,766.6 320.7,766.7 C321.3,766.7 321.9,766.7 322.6,766.8 C323.3,766.9 323.9,767.0 324.6,767.1 C325.2,767.2 325.9,767.2 326.5,767.3 C327.2,767.4 327.8,767.5 328.5,767.6 C329.2,767.7 329.8,767.8 330.5,767.9 C331.1,768.0 331.8,768.0 332.4,768.1 C333.1,768.2 333.8,768.3 334.4,768.4 C335.0,768.5 335.6,768.5 336.2,768.5 C336.8,768.5 337.4,768.5 338.0,768.6 C338.6,768.6 339.2,768.6 339.8,768.6 C340.4,768.7 341.0,768.7 341.6,768.7 C342.2,768.7 342.8,768.8 343.4,768.8 C344.0,768.8 344.6,768.8 345.2,768.9 C345.8,768.9 346.4,768.9 347.0,768.9 C347.6,769.0 348.2,769.0 348.8,769.0 C349.4,769.0 350.0,769.1 350.6,769.1 C351.2,769.1 351.8,769.1 352.4,769.2 C353.0,769.2 353.6,769.2 354.2,769.2 C354.8,769.3 355.4,769.3 356.0,769.3 C356.6,769.3 357.2,769.4 357.8,769.4 C358.4,769.4 359.1,769.4 359.7,769.4 C360.3,769.4 361.0,769.4 361.6,769.4 C362.2,769.4 362.9,769.4 363.5,769.4 C364.1,769.4 364.7,769.4 365.4,769.4 C366.0,769.4 366.6,769.4 367.3,769.4 C367.9,769.4 368.5,769.4 369.2,769.4 C369.8,769.4 370.4,769.4 371.1,769.4 C371.7,769.4 372.3,769.4 373.0,769.4 C373.6,769.4 374.2,769.3 374.8,769.3 C375.5,769.3 376.1,769.3 376.7,769.3 C377.4,769.3 378.0,769.3 378.6,769.3 C379.3,769.3 379.9,769.3 380.5,769.3 C381.2,769.3 381.8,769.3 382.4,769.3 C383.1,769.3 383.7,769.3 384.3,769.3 C384.9,769.3 385.6,769.3 386.2,769.3 C386.8,769.3 387.5,769.3 388.1,769.3 C388.7,769.3 389.4,769.3 390.0,769.3 C390.6,769.3 391.3,769.1 391.9,769.0 C392.6,769.0 393.2,768.9 393.8,768.8 C394.5,768.7 395.1,768.6 395.7,768.5 C396.4,768.4 397.0,768.4 397.7,768.3 C398.3,768.2 398.9,768.1 399.6,768.0 C400.2,767.9 400.8,767.8 401.5,767.8 C402.1,767.7 402.8,767.6 403.4,767.5 C404.0,767.4 404.7,767.3 405.3,767.2 C406.0,767.2 406.6,767.1 407.2,767.0 C407.9,766.9 408.5,766.8 409.1,766.7 C409.8,766.6 410.4,766.6 411.1,766.5 C411.7,766.4 412.3,766.3 413.0,766.2 C413.6,766.1 414.2,766.0 414.9,766.0 C415.5,765.9 416.2,765.8 416.8,765.7 C417.4,765.6 418.1,765.4 418.7,765.2 C419.4,765.0 420.0,764.9 420.6,764.7 C421.3,764.5 421.9,764.3 422.5,764.2 C423.2,764.0 423.8,763.8 424.5,763.7 C425.1,763.5 425.7,763.3 426.4,763.2 C427.0,763.0 427.6,762.8 428.3,762.7 C428.9,762.5 429.6,762.3 430.2,762.2 C430.8,762.0 431.5,761.8 432.1,761.6 C432.8,761.5 433.4,761.3 434.0,761.1 C434.7,761.0 435.3,760.8 435.9,760.6 C436.6,760.5 437.2,760.3 437.9,760.1 C438.5,760.0 439.1,759.8 439.8,759.6 C440.4,759.4 441.0,759.3 441.7,759.1 C442.3,758.9 443.0,758.8 443.6,758.6 C444.2,758.4 444.9,758.1 445.6,757.8 C446.2,757.5 446.9,757.3 447.6,757.0 C448.2,756.7 448.9,756.5 449.5,756.2 C450.2,755.9 450.9,755.7 451.5,755.4 C452.2,755.1 452.8,754.9 453.5,754.6 C454.1,754.3 454.8,754.1 455.5,753.8 C456.1,753.5 456.8,753.3 457.4,753.0 C458.1,752.7 458.8,752.5 459.4,752.2 C460.1,751.9 460.7,751.6 461.4,751.4 C462.1,751.2 462.7,751.1 463.4,750.9 C464.1,750.7 464.7,750.6 465.4,750.4 C466.0,750.3 466.7,750.1 467.4,749.9 C468.0,749.8 468.7,749.6 469.4,749.4 C470.0,749.3 470.7,749.1 471.3,749.0 C472.0,748.8 472.7,748.6 473.3,748.5 C474.0,748.3 474.7,748.1 475.3,748.0 C476.0,747.8 476.6,747.7 477.3,747.5 C478.0,747.3 478.6,747.2 479.3,747.0 C480.0,746.8 480.6,746.6 481.3,746.4 C481.9,746.2 482.6,746.0 483.3,745.8 C483.9,745.6 484.6,745.4 485.2,745.2 C485.9,745.0 486.6,744.8 487.2,744.6 C487.9,744.4 488.5,744.2 489.2,744.0 C489.8,743.8 490.5,743.6 491.2,743.4 C491.8,743.2 492.5,743.0 493.1,742.8 C493.8,742.6 494.5,742.4 495.1,742.2 C495.8,742.0 496.4,741.9 497.1,741.6 C497.8,741.3 498.5,740.9 499.2,740.6 C499.9,740.2 500.6,739.9 501.3,739.5 C502.0,739.2 502.7,738.8 503.4,738.5 C504.0,738.2 504.7,737.8 505.4,737.5 C506.1,737.1 506.8,736.8 507.5,736.4 C508.2,736.1 508.9,736.2 509.6,735.4 C510.3,734.6 511.2,733.0 512.0,731.8 C512.8,730.6 513.6,729.4 514.4,728.2 C515.2,727.0 516.1,726.4 516.8,724.6 C517.5,722.8 518.0,719.9 518.6,717.5 C519.2,715.1 519.7,714.6 520.4,710.4 C521.1,706.2 522.2,698.7 523.0,692.5 C523.8,686.3 524.3,679.6 524.9,673.1 C525.5,666.6 526.1,662.5 526.8,653.7 C527.5,644.9 528.7,628.3 529.3,620.2 C529.9,612.1 529.8,602.4 530.2,605.2 C530.6,608.0 531.2,626.1 531.9,637.0 C532.6,647.9 533.6,670.5 534.4,670.5 C535.2,670.5 536.2,648.2 536.9,637.0 C537.6,625.8 537.9,611.7 538.6,603.5 C539.3,595.3 540.1,589.0 541.1,587.6 C542.1,586.2 543.3,590.8 544.4,595.1 C545.5,599.4 546.7,607.6 547.8,613.5 C548.9,619.4 550.2,627.8 551.1,630.5 C552.0,633.2 552.4,628.9 553.1,629.6 C553.7,630.4 554.4,633.9 555.0,635.1 C555.7,636.3 556.3,635.7 557.0,636.9 C557.7,638.2 558.5,641.4 559.2,642.7 C560.0,643.9 560.7,643.1 561.5,644.4 C562.2,645.7 563.0,649.7 563.7,650.4 C564.4,651.1 565.1,648.1 565.8,648.6 C566.5,649.1 567.2,652.6 567.9,653.2 C568.5,653.8 569.2,652.2 569.9,652.1 C570.6,652.0 571.3,652.1 572.0,652.4 C572.7,652.8 573.4,653.6 574.1,654.3 C574.8,655.0 575.5,656.5 576.2,656.7 C576.9,656.9 577.6,655.3 578.3,655.6 C579.0,655.8 579.7,657.9 580.4,658.2 C581.1,658.6 581.7,657.6 582.4,657.8 C583.1,657.9 583.8,658.6 584.4,659.0 C585.1,659.5 585.8,660.0 586.5,660.4 C587.1,660.9 587.8,661.3 588.5,661.7 C589.2,662.1 589.8,662.3 590.5,662.9 C591.2,663.5 591.8,665.3 592.5,665.6 C593.2,665.9 593.8,664.5 594.5,664.8 C595.2,665.1 595.8,666.7 596.5,667.2 C597.2,667.8 597.8,667.8 598.5,668.0 C599.2,668.3 599.8,668.5 600.5,668.7 C601.2,668.9 601.8,669.3 602.5,669.2 C603.2,669.1 603.8,668.2 604.5,668.1 C605.2,668.0 605.8,668.5 606.5,668.8 C607.2,669.1 607.8,670.0 608.5,670.0 C609.2,670.0 609.8,669.5 610.5,669.0 C611.2,668.4 611.8,666.9 612.5,666.7 C613.2,666.4 613.9,667.5 614.5,667.5 C615.2,667.6 615.9,667.3 616.6,666.9 C617.2,666.4 617.9,665.3 618.6,664.8 C619.3,664.3 619.9,664.0 620.6,663.8 C621.3,663.5 621.9,663.3 622.6,663.4 C623.2,663.6 623.9,664.6 624.6,664.8 C625.2,664.9 625.9,664.8 626.6,664.5 C627.2,664.2 627.9,663.7 628.5,663.2 C629.2,662.7 629.9,662.2 630.5,661.5 C631.2,660.9 631.9,659.7 632.5,659.2 C633.2,658.7 634.2,658.6 634.5,658.4" fill="none" stroke="#0000d8" stroke-width="4.6" stroke-linejoin="round" stroke-linecap="round"  />
<path d="M648.0,774.5 C655.3,774.3 679.5,774.2 691.9,773.5 C704.3,772.8 713.7,771.9 722.3,770.5 C730.9,769.1 737.1,766.9 743.4,765.0 C749.6,763.1 754.3,760.3 759.8,759.0 C765.3,757.7 770.4,757.3 776.2,757.4 C782.1,757.5 788.8,758.8 795.0,759.8 C801.2,760.8 807.5,762.1 813.8,763.3 C820.0,764.5 825.5,765.9 832.5,766.8 C839.5,767.7 844.2,768.3 855.9,768.6 C867.6,768.9 892.1,769.0 902.8,768.5 C913.5,768.0 912.9,766.8 920.0,765.4 C927.1,764.0 937.1,762.9 945.7,760.3 C954.3,757.7 964.5,753.0 971.4,750.0 C978.2,747.0 982.5,744.9 986.8,742.3 C991.1,739.7 993.6,737.2 997.0,734.6 C1000.4,732.0 1004.3,730.3 1007.3,726.9 C1010.3,723.5 1012.9,719.7 1015.0,714.1 C1017.1,708.5 1018.7,701.2 1020.2,693.5 C1021.7,685.8 1022.7,677.3 1024.0,667.9 C1025.3,658.5 1026.8,646.4 1027.9,637.0 C1029.1,627.6 1030.1,619.9 1030.9,611.4 C1031.8,602.9 1032.0,587.9 1033.0,585.7 C1034.0,583.6 1036.0,592.1 1036.8,598.5 C1037.6,604.9 1037.7,616.5 1038.1,624.2 C1038.5,631.9 1039.0,637.0 1039.4,644.7 C1039.8,652.4 1040.1,664.4 1040.7,670.4 C1041.3,676.4 1041.9,679.4 1043.3,681.0 C1044.7,682.6 1046.5,677.5 1048.9,680.0 C1051.3,682.5 1054.0,693.4 1057.9,696.1 C1061.8,698.8 1067.6,696.1 1072.1,696.1 C1076.5,696.1 1079.5,698.2 1084.6,696.1 C1089.7,694.0 1096.5,686.3 1102.5,683.6 C1108.5,680.9 1114.5,681.5 1120.4,680.0 C1126.4,678.5 1132.6,678.2 1138.2,674.6 C1143.8,671.0 1149.8,663.1 1154.3,658.6 C1158.8,654.1 1161.1,652.7 1165.0,647.9 C1168.9,643.1 1175.1,633.3 1177.5,630.0 C1179.9,626.7 1179.2,628.3 1179.5,628.0" fill="none" stroke="#000" stroke-width="4.6" stroke-linejoin="round" stroke-linecap="round" stroke-dasharray="9.6 8.2" />
<path d="M648.0,774.5 C648.3,774.5 649.2,774.5 649.8,774.4 C650.4,774.4 651.0,774.4 651.7,774.4 C652.3,774.4 652.9,774.3 653.5,774.3 C654.1,774.3 654.7,774.3 655.3,774.3 C655.9,774.2 656.5,774.2 657.1,774.2 C657.8,774.2 658.4,774.2 659.0,774.1 C659.6,774.1 660.2,774.1 660.8,774.1 C661.4,774.1 662.0,774.1 662.6,774.0 C663.2,774.0 663.9,774.0 664.5,774.0 C665.1,774.0 665.7,773.9 666.3,773.9 C666.9,773.9 667.5,773.9 668.1,773.9 C668.7,773.8 669.3,773.8 670.0,773.8 C670.6,773.8 671.2,773.8 671.8,773.7 C672.4,773.7 673.0,773.7 673.6,773.7 C674.2,773.7 674.8,773.6 675.4,773.6 C676.0,773.6 676.7,773.6 677.3,773.6 C677.9,773.5 678.5,773.5 679.1,773.5 C679.7,773.5 680.3,773.5 680.9,773.5 C681.5,773.4 682.1,773.4 682.8,773.4 C683.4,773.4 684.0,773.4 684.6,773.3 C685.2,773.3 685.8,773.3 686.4,773.3 C687.0,773.3 687.6,773.2 688.2,773.2 C688.9,773.2 689.5,773.2 690.1,773.2 C690.7,773.1 691.3,773.2 691.9,773.1 C692.5,773.0 693.2,772.9 693.8,772.9 C694.4,772.8 695.1,772.7 695.7,772.6 C696.3,772.5 697.0,772.4 697.6,772.4 C698.2,772.3 698.9,772.2 699.5,772.1 C700.1,772.0 700.8,771.9 701.4,771.9 C702.0,771.8 702.7,771.7 703.3,771.6 C703.9,771.5 704.6,771.4 705.2,771.4 C705.8,771.3 706.5,771.2 707.1,771.1 C707.7,771.0 708.4,770.9 709.0,770.9 C709.6,770.8 710.3,770.7 710.9,770.6 C711.5,770.5 712.2,770.4 712.8,770.4 C713.4,770.3 714.1,770.2 714.7,770.1 C715.3,770.0 716.0,769.9 716.6,769.9 C717.2,769.8 717.9,769.7 718.5,769.6 C719.1,769.5 719.8,769.4 720.4,769.4 C721.0,769.3 721.7,769.2 722.3,769.1 C722.9,769.0 723.6,768.7 724.2,768.5 C724.9,768.3 725.5,768.0 726.1,767.8 C726.8,767.6 727.4,767.4 728.1,767.2 C728.7,767.0 729.3,766.8 730.0,766.6 C730.6,766.3 731.3,766.1 731.9,765.9 C732.5,765.7 733.2,765.5 733.8,765.3 C734.4,765.1 735.1,764.9 735.7,764.6 C736.4,764.4 737.0,764.2 737.6,764.0 C738.3,763.8 738.9,763.6 739.6,763.4 C740.2,763.2 740.8,762.9 741.5,762.7 C742.1,762.5 742.8,762.3 743.4,762.1 C744.0,761.9 744.6,761.8 745.2,761.6 C745.8,761.4 746.4,761.2 747.0,761.1 C747.7,760.9 748.3,760.7 748.9,760.5 C749.5,760.4 750.1,760.2 750.7,760.0 C751.3,759.8 751.9,759.7 752.5,759.5 C753.1,759.3 753.7,759.1 754.3,759.0 C754.9,758.8 755.5,758.6 756.2,758.4 C756.8,758.3 757.4,758.1 758.0,757.9 C758.6,757.7 759.2,757.5 759.8,757.4 C760.4,757.3 761.0,757.4 761.6,757.4 C762.2,757.4 762.8,757.4 763.5,757.4 C764.1,757.4 764.7,757.4 765.3,757.4 C765.9,757.4 766.5,757.4 767.1,757.4 C767.7,757.4 768.3,757.4 768.9,757.4 C769.5,757.4 770.2,757.4 770.8,757.4 C771.4,757.4 772.0,757.4 772.6,757.4 C773.2,757.4 773.8,757.4 774.4,757.4 C775.0,757.4 775.6,757.4 776.2,757.4 C776.9,757.4 777.5,757.6 778.1,757.6 C778.8,757.7 779.4,757.8 780.0,757.9 C780.6,758.0 781.2,758.0 781.9,758.1 C782.5,758.2 783.1,758.3 783.8,758.4 C784.4,758.4 785.0,758.5 785.6,758.6 C786.2,758.7 786.9,758.8 787.5,758.8 C788.1,758.9 788.8,759.0 789.4,759.1 C790.0,759.2 790.6,759.2 791.2,759.3 C791.9,759.4 792.5,759.5 793.1,759.6 C793.8,759.6 794.4,759.7 795.0,759.8 C795.6,759.9 796.2,760.0 796.9,760.1 C797.5,760.3 798.1,760.4 798.8,760.5 C799.4,760.6 800.0,760.7 800.6,760.8 C801.2,761.0 801.9,761.1 802.5,761.2 C803.1,761.3 803.8,761.4 804.4,761.5 C805.0,761.7 805.6,761.8 806.2,761.9 C806.9,762.0 807.5,762.1 808.1,762.2 C808.8,762.4 809.4,762.5 810.0,762.6 C810.6,762.7 811.2,762.8 811.9,762.9 C812.5,763.1 813.1,763.2 813.8,763.3 C814.4,763.4 815.0,763.5 815.6,763.6 C816.2,763.8 816.9,763.9 817.5,764.0 C818.1,764.1 818.8,764.2 819.4,764.3 C820.0,764.5 820.6,764.6 821.2,764.7 C821.9,764.8 822.5,764.9 823.1,765.0 C823.8,765.2 824.4,765.3 825.0,765.4 C825.6,765.5 826.2,765.6 826.9,765.8 C827.5,765.9 828.1,766.0 828.8,766.1 C829.4,766.2 830.0,766.3 830.6,766.4 C831.2,766.6 831.9,766.7 832.5,766.8 C833.1,766.9 833.8,766.9 834.5,766.9 C835.1,767.0 835.8,767.0 836.4,767.0 C837.0,767.1 837.7,767.1 838.4,767.1 C839.0,767.2 839.7,767.2 840.3,767.3 C841.0,767.3 841.6,767.3 842.2,767.4 C842.9,767.4 843.5,767.6 844.2,767.5 C844.9,767.4 845.6,766.8 846.3,766.5 C847.0,766.2 847.7,765.8 848.4,765.5 C849.1,765.2 849.8,765.1 850.5,764.8 C851.1,764.6 851.8,764.4 852.5,764.2 C853.2,763.9 853.9,763.7 854.5,763.5 C855.2,763.3 855.9,763.1 856.6,762.8 C857.3,762.6 858.0,762.4 858.7,762.2 C859.3,761.9 860.0,761.7 860.7,761.5 C861.4,761.3 862.1,761.1 862.8,760.9 C863.4,760.7 864.1,760.5 864.8,760.3 C865.5,760.1 866.2,759.9 866.9,759.6 C867.5,759.4 868.2,759.2 868.9,759.0 C869.6,758.8 870.3,758.6 871.0,758.4 C871.6,758.2 872.3,758.0 873.0,757.8 C873.7,757.6 874.4,757.5 875.0,757.3 C875.7,757.1 876.4,756.9 877.1,756.8 C877.8,756.6 878.5,756.4 879.1,756.2 C879.8,756.1 880.5,755.9 881.2,755.7 C881.9,755.6 882.6,755.4 883.2,755.2 C883.9,755.0 884.6,754.9 885.3,754.7 C886.0,754.5 886.7,754.4 887.3,754.3 C888.0,754.2 888.7,754.0 889.4,753.9 C890.0,753.8 890.7,753.6 891.4,753.5 C892.1,753.4 892.8,753.2 893.4,753.1 C894.1,753.0 894.8,752.8 895.5,752.7 C896.1,752.6 896.8,752.5 897.5,752.3 C898.2,752.1 898.9,751.9 899.5,751.7 C900.2,751.5 900.9,751.3 901.6,751.1 C902.3,750.9 903.0,750.7 903.6,750.5 C904.3,750.2 905.0,750.0 905.7,749.8 C906.4,749.6 907.1,749.4 907.8,749.2 C908.4,749.0 909.1,748.9 909.8,748.6 C910.5,748.3 911.2,748.0 911.9,747.7 C912.7,747.4 913.4,747.1 914.1,746.8 C914.8,746.4 915.5,746.1 916.2,745.8 C917.0,745.5 917.7,745.3 918.4,744.9 C919.1,744.5 919.8,744.1 920.5,743.7 C921.3,743.3 922.0,742.9 922.7,742.5 C923.4,742.0 924.1,741.6 924.9,741.2 C925.6,740.8 926.3,740.6 927.0,740.0 C927.7,739.4 928.2,738.6 928.9,737.9 C929.5,737.1 930.1,736.4 930.7,735.7 C931.3,735.0 931.9,734.3 932.5,733.5 C933.2,732.8 933.8,732.3 934.4,731.4 C935.0,730.5 935.8,729.2 936.4,728.1 C937.1,727.0 937.8,726.0 938.5,724.9 C939.1,723.8 939.8,722.8 940.5,721.6 C941.2,720.4 941.9,719.1 942.6,717.9 C943.3,716.7 943.9,715.4 944.6,714.2 C945.3,713.0 945.8,713.2 946.7,710.5 C947.6,707.8 949.4,700.8 950.3,698.2 C951.2,695.6 951.7,696.0 952.4,694.9 C953.1,693.8 953.7,692.8 954.4,691.7 C955.1,690.6 955.8,689.3 956.5,688.4 C957.2,687.5 957.9,687.0 958.5,686.4 C959.2,685.7 959.9,685.0 960.6,684.3 C961.2,683.7 962.0,682.7 962.6,682.3 C963.2,681.9 963.8,681.9 964.5,681.6 C965.1,681.4 965.7,680.8 966.3,681.0 C966.9,681.2 967.5,682.3 968.1,683.0 C968.8,683.7 969.4,684.3 970.0,685.0 C970.6,685.7 971.3,686.3 972.0,687.0 C972.6,687.7 973.2,688.0 973.9,689.0 C974.6,690.0 975.3,691.7 976.0,693.0 C976.6,694.3 977.3,695.7 978.0,697.0 C978.7,698.3 979.4,699.7 980.1,701.0 C980.8,702.3 981.5,703.7 982.1,705.0 C982.8,706.3 983.5,707.8 984.2,709.0 C984.9,710.2 985.6,711.1 986.3,712.1 C986.9,713.1 987.6,714.1 988.3,715.2 C989.0,716.2 989.7,717.2 990.4,718.2 C991.1,719.3 991.8,720.3 992.4,721.3 C993.1,722.3 993.9,723.6 994.5,724.4 C995.1,725.2 995.7,725.4 996.3,725.9 C996.9,726.3 997.5,726.8 998.2,727.3 C998.8,727.8 999.4,728.3 1000.0,728.8 C1000.6,729.3 1001.2,729.7 1001.8,730.2 C1002.4,730.7 1003.0,731.2 1003.6,731.7 C1004.3,732.2 1004.9,732.7 1005.5,733.1 C1006.1,733.6 1006.7,734.3 1007.3,734.6 C1007.9,734.9 1008.5,734.8 1009.1,735.0 C1009.8,735.1 1010.4,735.2 1011.0,735.3 C1011.6,735.5 1012.2,735.6 1012.8,735.7 C1013.4,735.8 1014.1,736.0 1014.7,736.1 C1015.3,736.2 1015.9,736.3 1016.5,736.5 C1017.1,736.6 1017.7,736.7 1018.4,736.8 C1019.0,737.0 1019.6,737.4 1020.2,737.2 C1020.8,737.0 1021.6,736.2 1022.2,735.7 C1022.9,735.1 1023.6,734.6 1024.3,734.1 C1025.0,733.6 1025.6,733.1 1026.3,732.6 C1027.0,732.1 1027.7,731.6 1028.4,731.0 C1029.0,730.5 1029.7,730.4 1030.4,729.5 C1031.1,728.6 1031.7,726.9 1032.3,725.6 C1033.0,724.4 1033.6,723.1 1034.2,721.8 C1034.9,720.5 1035.5,719.2 1036.2,718.0 C1036.8,716.7 1037.5,715.5 1038.1,714.1 C1038.7,712.7 1039.4,711.1 1040.0,709.6 C1040.7,708.1 1041.3,706.6 1041.9,705.1 C1042.6,703.6 1043.2,702.1 1043.9,700.6 C1044.5,699.1 1045.0,697.5 1045.8,696.1 C1046.6,694.7 1047.5,693.4 1048.4,692.0 C1049.3,690.7 1050.2,688.9 1051.0,688.0 C1051.8,687.1 1052.4,687.3 1053.2,686.9 C1053.9,686.5 1054.6,686.2 1055.3,685.8 C1056.0,685.4 1056.7,685.1 1057.4,684.7 C1058.2,684.3 1058.9,683.0 1059.6,683.6 C1060.3,684.2 1060.8,686.4 1061.4,688.0 C1062.0,689.6 1062.6,691.0 1063.2,693.0 C1063.8,694.9 1064.4,698.3 1065.0,699.4 C1065.6,700.6 1066.1,699.6 1066.8,700.0 C1067.5,700.4 1068.6,700.7 1069.4,701.8 C1070.3,702.9 1071.4,705.9 1072.1,706.5 C1072.8,707.2 1073.3,705.9 1073.9,705.8 C1074.5,705.6 1075.1,705.5 1075.7,705.7 C1076.3,705.9 1076.9,706.7 1077.5,706.9 C1078.1,707.2 1078.6,707.9 1079.3,707.2 C1080.0,706.6 1080.8,703.5 1081.5,702.8 C1082.3,702.2 1083.0,703.5 1083.8,703.4 C1084.5,703.3 1085.2,703.3 1086.0,702.4 C1086.7,701.4 1087.5,698.5 1088.2,697.6 C1088.9,696.7 1089.6,697.4 1090.3,696.8 C1091.1,696.2 1091.8,694.5 1092.5,694.1 C1093.2,693.7 1093.9,694.9 1094.6,694.5 C1095.3,694.1 1096.0,691.5 1096.8,691.8 C1097.5,692.1 1098.2,696.2 1098.9,696.1 C1099.6,696.0 1100.3,692.3 1101.0,691.2 C1101.7,690.1 1102.4,689.2 1103.1,689.7 C1103.8,690.1 1104.5,694.1 1105.2,693.7 C1105.8,693.3 1106.5,687.6 1107.2,687.1 C1107.9,686.6 1108.6,690.8 1109.3,690.7 C1110.0,690.6 1110.8,686.8 1111.4,686.3 C1112.0,685.9 1112.6,687.7 1113.2,687.8 C1113.8,688.0 1114.4,687.8 1115.0,687.1 C1115.6,686.4 1116.2,683.6 1116.8,683.8 C1117.4,684.1 1118.0,688.2 1118.6,688.5 C1119.2,688.7 1119.7,685.7 1120.4,685.2 C1121.1,684.7 1121.9,685.9 1122.6,685.5 C1123.4,685.0 1124.1,683.2 1124.8,682.4 C1125.6,681.6 1126.3,680.9 1127.1,680.9 C1127.8,681.0 1128.6,682.9 1129.3,682.5 C1130.0,682.2 1130.7,679.0 1131.4,678.6 C1132.2,678.3 1132.9,679.8 1133.6,680.5 C1134.3,681.3 1135.0,682.7 1135.7,683.2 C1136.4,683.6 1137.1,684.2 1137.9,683.3 C1138.6,682.3 1139.3,679.1 1140.0,677.6 C1140.7,676.0 1141.4,674.5 1142.1,674.0 C1142.9,673.5 1143.6,675.3 1144.3,674.8 C1145.0,674.4 1145.7,672.1 1146.4,671.5 C1147.1,671.0 1147.8,671.3 1148.6,671.7 C1149.3,672.1 1150.0,673.8 1150.7,673.9 C1151.4,673.9 1151.9,673.4 1152.5,672.0 C1153.1,670.6 1153.7,666.3 1154.3,665.6 C1154.9,664.8 1155.5,667.5 1156.1,667.4 C1156.7,667.3 1157.0,668.5 1157.9,665.1 C1158.8,661.7 1160.4,650.4 1161.4,647.1 C1162.4,643.7 1163.0,645.0 1163.8,645.0 C1164.6,645.0 1165.4,647.1 1166.2,647.0 C1167.0,647.0 1167.8,644.8 1168.6,644.7 C1169.4,644.7 1170.1,646.9 1170.8,646.7 C1171.6,646.5 1172.3,644.7 1173.0,643.7 C1173.8,642.7 1174.5,642.1 1175.3,640.8 C1176.0,639.6 1176.8,636.6 1177.5,636.4 C1178.2,636.2 1179.2,639.1 1179.5,639.7" fill="none" stroke="#e20000" stroke-width="4.6" stroke-linejoin="round" stroke-linecap="round"  />
<path d="M648.0,774.5 C648.4,774.5 649.7,774.4 650.6,774.4 C651.4,774.4 652.3,774.4 653.2,774.3 C654.0,774.3 654.9,774.3 655.7,774.3 C656.6,774.2 657.5,774.2 658.3,774.2 C659.2,774.1 660.1,774.1 660.9,774.1 C661.8,774.1 662.6,774.0 663.5,774.0 C664.4,774.0 665.2,774.0 666.1,773.9 C666.9,773.9 667.8,773.9 668.7,773.8 C669.5,773.8 670.4,773.8 671.2,773.8 C672.1,773.7 673.0,773.7 673.8,773.7 C674.7,773.6 675.5,773.6 676.4,773.6 C677.3,773.6 678.1,773.5 679.0,773.5 C679.8,773.5 680.7,773.5 681.6,773.4 C682.4,773.4 683.3,773.4 684.2,773.3 C685.0,773.3 685.9,773.3 686.7,773.3 C687.6,773.2 688.5,773.2 689.3,773.2 C690.2,773.2 691.0,773.2 691.9,773.1 C692.8,773.0 693.6,772.9 694.4,772.8 C695.3,772.7 696.1,772.5 697.0,772.4 C697.8,772.3 698.7,772.2 699.5,772.1 C700.3,772.0 701.2,771.9 702.0,771.8 C702.9,771.7 703.7,771.5 704.6,771.4 C705.4,771.3 706.3,771.2 707.1,771.1 C707.9,771.0 708.8,770.9 709.6,770.8 C710.5,770.7 711.3,770.5 712.2,770.4 C713.0,770.3 713.9,770.2 714.7,770.1 C715.5,770.0 716.4,769.9 717.2,769.8 C718.1,769.7 718.9,769.5 719.8,769.4 C720.6,769.3 721.4,769.3 722.3,769.1 C723.2,768.9 724.1,768.5 724.9,768.2 C725.8,767.9 726.7,767.6 727.6,767.4 C728.5,767.1 729.3,766.8 730.2,766.5 C731.1,766.2 732.0,765.9 732.8,765.6 C733.7,765.3 734.6,765.0 735.5,764.7 C736.4,764.4 737.2,764.1 738.1,763.9 C739.0,763.6 739.9,763.3 740.8,763.0 C741.6,762.7 742.5,762.4 743.4,762.1 C744.3,761.8 745.2,761.6 746.1,761.3 C747.0,761.1 748.0,760.8 748.9,760.5 C749.8,760.3 750.7,760.0 751.6,759.8 C752.5,759.5 753.4,759.2 754.3,759.0 C755.2,758.7 756.2,758.4 757.1,758.2 C758.0,757.9 758.9,757.5 759.8,757.4 C760.7,757.3 761.6,757.4 762.5,757.4 C763.5,757.4 764.4,757.4 765.3,757.4 C766.2,757.4 767.1,757.4 768.0,757.4 C768.9,757.4 769.9,757.4 770.8,757.4 C771.7,757.4 772.6,757.4 773.5,757.4 C774.4,757.4 775.3,757.3 776.2,757.4 C777.2,757.5 778.0,757.6 778.9,757.7 C779.8,757.9 780.7,758.0 781.6,758.1 C782.5,758.2 783.4,758.3 784.3,758.4 C785.2,758.5 786.1,758.7 787.0,758.8 C787.9,758.9 788.8,759.0 789.6,759.1 C790.5,759.2 791.4,759.3 792.3,759.5 C793.2,759.6 794.1,759.7 795.0,759.8 C795.9,759.9 796.8,760.1 797.7,760.3 C798.6,760.5 799.5,760.6 800.4,760.8 C801.2,761.0 802.1,761.1 803.0,761.3 C803.9,761.5 804.8,761.6 805.7,761.8 C806.6,762.0 807.5,762.1 808.4,762.3 C809.3,762.5 810.2,762.6 811.1,762.8 C812.0,763.0 812.9,763.1 813.8,763.3 C814.6,763.5 815.5,763.6 816.4,763.8 C817.3,764.0 818.2,764.1 819.1,764.3 C820.0,764.5 820.9,764.6 821.8,764.8 C822.7,765.0 823.6,765.1 824.5,765.3 C825.4,765.5 826.2,765.6 827.1,765.8 C828.0,766.0 828.9,766.1 829.8,766.3 C830.7,766.5 831.6,766.7 832.5,766.8 C833.4,766.9 834.4,766.9 835.4,767.0 C836.4,767.0 837.4,767.1 838.4,767.1 C839.3,767.2 840.3,767.3 841.3,767.3 C842.3,767.4 843.2,767.4 844.2,767.5 C845.2,767.6 846.1,767.8 847.1,767.9 C848.1,768.0 849.1,768.2 850.0,768.3 C851.0,768.4 852.0,768.6 853.0,768.7 C854.0,768.8 855.0,769.0 855.9,769.1 C856.8,769.2 857.6,769.1 858.5,769.1 C859.4,769.2 860.2,769.2 861.1,769.2 C862.0,769.2 862.8,769.2 863.7,769.2 C864.6,769.2 865.5,769.2 866.3,769.3 C867.2,769.3 868.1,769.3 868.9,769.3 C869.8,769.3 870.7,769.3 871.5,769.3 C872.4,769.3 873.3,769.4 874.1,769.4 C875.0,769.4 875.9,769.4 876.7,769.4 C877.6,769.4 878.5,769.4 879.3,769.5 C880.2,769.5 881.1,769.5 882.0,769.5 C882.8,769.5 883.7,769.5 884.6,769.5 C885.4,769.5 886.3,769.6 887.2,769.6 C888.0,769.6 888.9,769.6 889.8,769.6 C890.6,769.6 891.5,769.6 892.4,769.6 C893.2,769.7 894.1,769.7 895.0,769.7 C895.9,769.7 896.7,769.7 897.6,769.7 C898.5,769.7 899.3,769.7 900.2,769.8 C901.1,769.8 901.9,769.8 902.8,769.8 C903.7,769.8 904.7,769.6 905.7,769.5 C906.6,769.4 907.6,769.3 908.5,769.2 C909.5,769.1 910.4,769.0 911.4,768.9 C912.4,768.8 913.3,768.7 914.3,768.6 C915.2,768.5 916.2,768.4 917.1,768.3 C918.1,768.2 919.1,768.1 920.0,768.0 C920.9,767.9 921.7,767.7 922.6,767.5 C923.4,767.3 924.3,767.1 925.1,767.0 C926.0,766.8 926.9,766.6 927.7,766.5 C928.6,766.3 929.4,766.1 930.3,766.0 C931.1,765.8 932.0,765.6 932.9,765.5 C933.7,765.3 934.6,765.1 935.4,764.9 C936.3,764.8 937.1,764.6 938.0,764.4 C938.8,764.3 939.7,764.1 940.6,763.9 C941.4,763.8 942.3,763.6 943.1,763.4 C944.0,763.2 944.8,763.1 945.7,762.9 C946.6,762.7 947.4,762.4 948.3,762.1 C949.1,761.9 950.0,761.6 950.8,761.4 C951.7,761.1 952.6,760.8 953.4,760.6 C954.3,760.3 955.1,760.1 956.0,759.8 C956.8,759.6 957.7,759.3 958.5,759.0 C959.4,758.8 960.3,758.5 961.1,758.3 C962.0,758.0 962.8,757.8 963.7,757.5 C964.5,757.3 965.4,757.0 966.3,756.7 C967.1,756.5 968.0,756.2 968.8,756.0 C969.7,755.7 970.5,755.5 971.4,755.2 C972.3,754.9 973.1,754.7 974.0,754.4 C974.8,754.2 975.7,753.9 976.5,753.7 C977.4,753.4 978.2,753.1 979.1,752.9 C979.9,752.6 980.8,752.4 981.6,752.1 C982.5,751.9 983.3,751.6 984.2,751.4 C985.1,751.1 985.9,750.8 986.8,750.6 C987.6,750.3 988.5,750.1 989.3,749.8 C990.2,749.6 991.0,749.3 991.9,749.0 C992.7,748.8 993.6,748.5 994.4,748.3 C995.3,748.0 996.1,747.7 997.0,747.5 C997.9,747.3 998.7,747.2 999.6,747.0 C1000.4,746.9 1001.3,746.7 1002.1,746.5 C1003.0,746.4 1003.9,746.2 1004.7,746.0 C1005.6,745.9 1006.4,745.7 1007.3,745.5 C1008.2,745.4 1009.0,745.2 1009.9,745.1 C1010.7,744.9 1011.6,744.7 1012.5,744.6 C1013.3,744.4 1014.2,744.2 1015.0,744.1 C1015.9,743.9 1016.7,743.8 1017.6,743.6 C1018.5,743.4 1019.3,743.1 1020.2,742.8 C1021.0,742.6 1021.9,742.3 1022.7,742.1 C1023.6,741.8 1024.4,741.6 1025.3,741.3 C1026.1,741.1 1027.0,740.8 1027.8,740.6 C1028.7,740.3 1029.5,740.6 1030.4,739.8 C1031.3,739.0 1032.1,736.9 1033.0,735.5 C1033.8,734.1 1034.7,732.6 1035.5,731.2 C1036.4,729.8 1037.2,729.1 1038.1,726.9 C1039.0,724.7 1039.8,720.9 1040.7,718.0 C1041.6,715.0 1042.2,714.8 1043.3,709.0 C1044.4,703.2 1046.0,691.9 1047.1,683.3 C1048.2,674.7 1048.8,665.3 1049.7,657.6 C1050.6,649.9 1051.5,641.7 1052.3,637.0 C1053.1,632.3 1054.2,623.5 1054.8,629.3 C1055.4,635.1 1055.5,670.9 1055.8,672.0 C1056.1,673.1 1056.5,634.0 1056.8,636.0 C1057.1,638.0 1057.4,685.3 1057.8,684.0 C1058.2,682.7 1058.6,640.1 1059.2,628.0 C1059.8,615.9 1060.6,614.3 1061.4,611.6 C1062.2,609.0 1063.2,610.5 1064.1,611.9 C1065.0,613.2 1065.6,617.6 1066.8,619.9 C1068.0,622.1 1070.1,621.9 1071.2,625.1 C1072.4,628.2 1072.9,635.2 1073.9,638.7 C1074.9,642.3 1076.3,641.6 1077.5,646.3 C1078.7,651.0 1079.9,664.6 1081.1,666.8 C1082.3,669.0 1083.5,662.3 1084.7,659.5 C1085.8,656.6 1087.2,648.1 1088.2,649.7 C1089.2,651.3 1090.0,663.2 1090.9,668.9 C1091.8,674.7 1092.7,684.1 1093.6,684.2 C1094.5,684.3 1095.4,673.7 1096.2,669.5 C1097.1,665.2 1097.9,659.0 1098.9,658.5 C1099.9,658.0 1101.3,664.1 1102.5,666.5 C1103.6,668.9 1105.0,673.5 1106.0,673.0 C1107.0,672.5 1107.8,667.3 1108.7,663.5 C1109.6,659.8 1110.5,650.3 1111.4,650.6 C1112.3,650.9 1113.2,660.9 1114.1,665.3 C1115.0,669.6 1115.9,676.2 1116.8,676.5 C1117.7,676.8 1118.6,670.3 1119.4,667.0 C1120.3,663.6 1121.1,656.7 1122.1,656.5 C1123.1,656.3 1124.5,663.2 1125.7,666.0 C1126.9,668.8 1128.1,672.6 1129.3,673.2 C1130.5,673.9 1131.7,670.8 1132.8,669.9 C1134.0,669.0 1135.2,669.5 1136.4,667.9 C1137.6,666.3 1138.8,662.3 1140.0,660.3 C1141.2,658.3 1142.4,655.6 1143.6,656.0 C1144.8,656.4 1146.0,660.3 1147.2,662.9 C1148.3,665.5 1149.5,671.1 1150.7,671.5 C1151.9,672.0 1153.1,667.1 1154.3,665.6 C1155.5,664.2 1156.7,665.7 1157.9,662.9 C1159.1,660.0 1160.3,653.1 1161.5,648.4 C1162.6,643.7 1163.8,631.8 1165.0,634.5 C1166.2,637.3 1167.4,660.9 1168.6,664.6 C1169.8,668.3 1171.0,658.9 1172.2,656.9 C1173.3,654.9 1174.5,654.6 1175.7,652.6 C1176.9,650.5 1178.9,646.0 1179.5,644.7" fill="none" stroke="#0000d8" stroke-width="4.6" stroke-linejoin="round" stroke-linecap="round"  />
</g>
</svg>
</body></html>
